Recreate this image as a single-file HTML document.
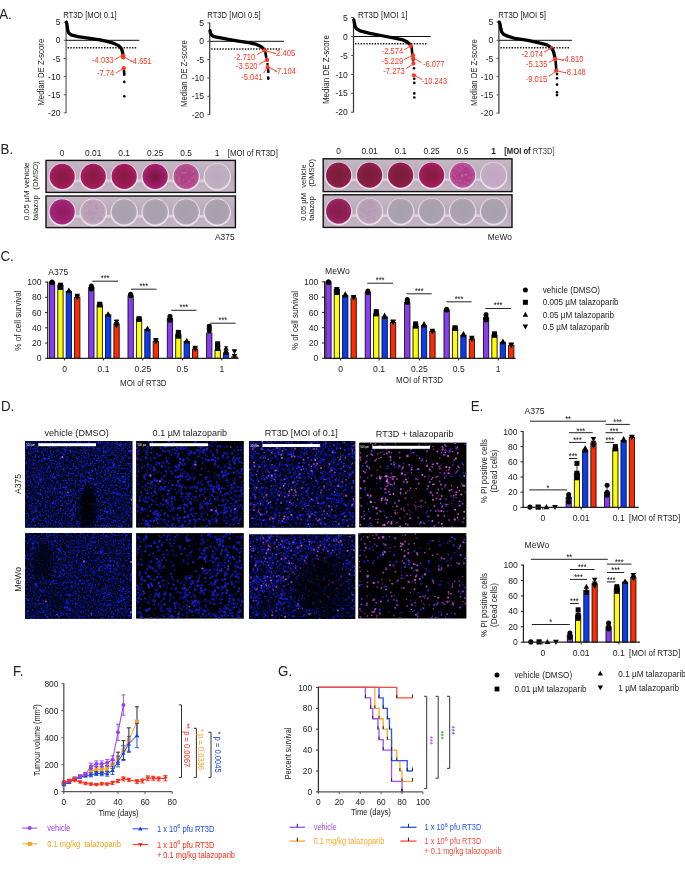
<!DOCTYPE html>
<html><head><meta charset="utf-8"><title>Figure</title>
<style>html,body{margin:0;padding:0;background:#fff;}svg{display:block;filter:blur(0.35px);}text{font-family:"Liberation Sans", sans-serif;}</style>
</head><body>
<svg width="685" height="870" viewBox="0 0 685 870" font-family='"Liberation Sans", sans-serif'>
<defs><radialGradient id="wdark" cx="50%" cy="50%" r="50%"><stop offset="0" stop-color="#861a42"/><stop offset="0.6" stop-color="#951a4f"/><stop offset="1" stop-color="#a81e60"/></radialGradient><radialGradient id="wdark2" cx="50%" cy="50%" r="50%"><stop offset="0" stop-color="#701a38"/><stop offset="0.5" stop-color="#8e1a58"/><stop offset="1" stop-color="#ac2076"/></radialGradient><radialGradient id="wdarkM" cx="50%" cy="50%" r="50%"><stop offset="0" stop-color="#7a1d38"/><stop offset="0.6" stop-color="#821e40"/><stop offset="1" stop-color="#92204c"/></radialGradient><radialGradient id="wdarkM2" cx="50%" cy="50%" r="50%"><stop offset="0" stop-color="#801a3c"/><stop offset="0.6" stop-color="#941c4e"/><stop offset="1" stop-color="#a81e62"/></radialGradient><radialGradient id="wmag" cx="50%" cy="50%" r="50%"><stop offset="0" stop-color="#8e1c58"/><stop offset="0.6" stop-color="#9a2070"/><stop offset="1" stop-color="#a82a80"/></radialGradient><radialGradient id="wmagM" cx="50%" cy="50%" r="50%"><stop offset="0" stop-color="#861d4c"/><stop offset="0.7" stop-color="#902056"/><stop offset="1" stop-color="#9e2a68"/></radialGradient><radialGradient id="wmid" cx="50%" cy="50%" r="50%"><stop offset="0" stop-color="#ac4284"/><stop offset="0.7" stop-color="#b24a8a"/><stop offset="1" stop-color="#b85894"/></radialGradient><radialGradient id="wmidM" cx="50%" cy="50%" r="50%"><stop offset="0" stop-color="#b03c8a"/><stop offset="0.7" stop-color="#b4448e"/><stop offset="1" stop-color="#ba589a"/></radialGradient><radialGradient id="wpale" cx="50%" cy="50%" r="50%"><stop offset="0" stop-color="#bcaabc"/><stop offset="0.8" stop-color="#beaebe"/><stop offset="1" stop-color="#c4b2c4"/></radialGradient><radialGradient id="wpaleM" cx="50%" cy="50%" r="50%"><stop offset="0" stop-color="#c2a6c2"/><stop offset="0.8" stop-color="#c4aac4"/><stop offset="1" stop-color="#c8b0c6"/></radialGradient><radialGradient id="wgray" cx="50%" cy="50%" r="50%"><stop offset="0" stop-color="#a79fa9"/><stop offset="0.8" stop-color="#aaa2ac"/><stop offset="1" stop-color="#b0a8b2"/></radialGradient><radialGradient id="wpink" cx="50%" cy="50%" r="50%"><stop offset="0" stop-color="#b8a0b6"/><stop offset="0.8" stop-color="#baa4b8"/><stop offset="1" stop-color="#c0acbe"/></radialGradient><linearGradient id="strip" x1="0" y1="0" x2="0" y2="1"><stop offset="0" stop-color="#c6b8c6"/><stop offset="0.5" stop-color="#b8aab8"/><stop offset="1" stop-color="#c4b6c4"/></linearGradient><filter id="bl" x="-5%" y="-5%" width="110%" height="110%" color-interpolation-filters="sRGB"><feGaussianBlur stdDeviation="0.55"/></filter><radialGradient id="dk"><stop offset="0" stop-color="#000" stop-opacity="0.92"/><stop offset="0.6" stop-color="#000" stop-opacity="0.75"/><stop offset="1" stop-color="#000" stop-opacity="0"/></radialGradient><clipPath id="clip11"><rect x="25" y="441" width="107.3" height="86.6"/></clipPath><filter id="nz1" x="0" y="0" width="100%" height="100%" color-interpolation-filters="sRGB"><feTurbulence type="fractalNoise" baseFrequency="0.6" numOctaves="1" seed="3"/><feColorMatrix type="matrix" values="0 0 0 0 0  0.48 0 0 0 -0.21  3 0 0 0 -1.3  0 0 0 0 1"/></filter><clipPath id="clip12"><rect x="136.1" y="441" width="107.7" height="86.6"/></clipPath><clipPath id="clip13"><rect x="249" y="441" width="106.2" height="86.6"/></clipPath><filter id="nz2" x="0" y="0" width="100%" height="100%" color-interpolation-filters="sRGB"><feTurbulence type="fractalNoise" baseFrequency="0.42" numOctaves="1" seed="4"/><feColorMatrix type="matrix" values="0 0 0 0 0  0.18 0 0 0 -0.08  1.5 0 0 0 -0.65  0 0 0 0 1"/></filter><clipPath id="clip14"><rect x="359.2" y="442.6" width="107.2" height="84.7"/></clipPath><clipPath id="clip21"><rect x="25" y="533" width="106.8" height="85.7"/></clipPath><filter id="nz3" x="0" y="0" width="100%" height="100%" color-interpolation-filters="sRGB"><feTurbulence type="fractalNoise" baseFrequency="0.6" numOctaves="1" seed="5"/><feColorMatrix type="matrix" values="0 0 0 0 0  0.39 0 0 0 -0.17  2.8 0 0 0 -1.22  0 0 0 0 1"/></filter><clipPath id="clip22"><rect x="136.1" y="533.1" width="107.7" height="85.5"/></clipPath><clipPath id="clip23"><rect x="249" y="534.5" width="106.2" height="84.5"/></clipPath><filter id="nz4" x="0" y="0" width="100%" height="100%" color-interpolation-filters="sRGB"><feTurbulence type="fractalNoise" baseFrequency="0.42" numOctaves="1" seed="6"/><feColorMatrix type="matrix" values="0 0 0 0 0  0.18 0 0 0 -0.08  1.5 0 0 0 -0.65  0 0 0 0 1"/></filter><clipPath id="clip24"><rect x="358.2" y="533.1" width="108.2" height="85.4"/></clipPath></defs>
<rect width="685" height="870" fill="#fff"/>
<text transform="translate(-0.8 18.7) scale(1 1.07)" font-size="13.3" fill="#222">A.</text>
<line x1="66.1" y1="21.65" x2="66.1" y2="113" stroke="#8a8a8a" stroke-width="1.7"/>
<line x1="63.7" y1="22.15" x2="66.1" y2="22.15" stroke="#555" stroke-width="1"/>
<text transform="translate(60.5 25.25) scale(1 1.1)" font-size="8.6" fill="#222" text-anchor="end">5</text>
<line x1="63.7" y1="40.3" x2="66.1" y2="40.3" stroke="#555" stroke-width="1"/>
<text transform="translate(60.5 43.4) scale(1 1.1)" font-size="8.6" fill="#222" text-anchor="end">0</text>
<line x1="63.7" y1="58.45" x2="66.1" y2="58.45" stroke="#555" stroke-width="1"/>
<text transform="translate(60.5 61.55) scale(1 1.1)" font-size="8.6" fill="#222" text-anchor="end">-5</text>
<line x1="63.7" y1="76.6" x2="66.1" y2="76.6" stroke="#555" stroke-width="1"/>
<text transform="translate(60.5 79.7) scale(1 1.1)" font-size="8.6" fill="#222" text-anchor="end">-10</text>
<line x1="63.7" y1="94.75" x2="66.1" y2="94.75" stroke="#555" stroke-width="1"/>
<text transform="translate(60.5 97.85) scale(1 1.1)" font-size="8.6" fill="#222" text-anchor="end">-15</text>
<line x1="63.7" y1="112.9" x2="66.1" y2="112.9" stroke="#555" stroke-width="1"/>
<text transform="translate(60.5 116) scale(1 1.1)" font-size="8.6" fill="#222" text-anchor="end">-20</text>
<line x1="66.1" y1="40.3" x2="139.4" y2="40.3" stroke="#111" stroke-width="1"/>
<line x1="67.6" y1="47.7" x2="136.9" y2="47.7" stroke="#111" stroke-width="1.5" stroke-dasharray="1.4 1.4"/>
<text transform="translate(63.2 18.3) scale(1 1.1)" font-size="8.3" fill="#222" textLength="53.4" lengthAdjust="spacingAndGlyphs">RT3D [MOI 0.1]</text>
<text transform="translate(43.6 72.2) rotate(-90) scale(1 1.1)" font-size="8.3" fill="#222" text-anchor="middle" textLength="66.8" lengthAdjust="spacingAndGlyphs">Median DE Z-score</text>
<path d="M66.4 22.15 L67 24.69 L67.6 29.41 L68.5 32.68 L71 34.85 L78 36.67 L90 38.48 L100 39.94 L108 41.57 L114 43.39 L118 45.38 L120.6 47.56 L122 50.1 L122.7 53 L123 55.55" stroke="#000" stroke-width="3.3" fill="none" stroke-linecap="round" stroke-linejoin="round"/>
<line x1="124" y1="70.6" x2="124.3" y2="74.6" stroke="#000" stroke-width="2.6" stroke-linecap="round"/>
<circle cx="124.3" cy="81.9" r="1.3" fill="#000"/>
<circle cx="124.3" cy="96.2" r="1.3" fill="#000"/>
<line x1="114.6" y1="59.6" x2="121.5" y2="55.8" stroke="#ff3420" stroke-width="0.9"/>
<line x1="125" y1="57.6" x2="133" y2="61.6" stroke="#ff3420" stroke-width="0.9"/>
<line x1="115.6" y1="73.2" x2="122.5" y2="69" stroke="#ff3420" stroke-width="0.9"/>
<circle cx="123.1" cy="55.6" r="2.2" fill="#ff3420"/>
<circle cx="123.2" cy="57.3" r="2.2" fill="#ff3420"/>
<circle cx="123.8" cy="68.2" r="2.1" fill="#ff3420"/>
<text transform="translate(113.6 62.6) scale(1 1.1)" font-size="7.6" fill="#ff3420" text-anchor="end">-4.033</text>
<text transform="translate(130.3 63.6) scale(1 1.1)" font-size="7.6" fill="#ff3420">-4.651</text>
<text transform="translate(114.2 76.4) scale(1 1.1)" font-size="7.6" fill="#ff3420" text-anchor="end">-7.74</text>
<line x1="209.7" y1="22.45" x2="209.7" y2="114.9" stroke="#333" stroke-width="1.2"/>
<line x1="207.3" y1="22.95" x2="209.7" y2="22.95" stroke="#555" stroke-width="1"/>
<text transform="translate(204.1 26.05) scale(1 1.1)" font-size="8.6" fill="#222" text-anchor="end">5</text>
<line x1="207.3" y1="41.3" x2="209.7" y2="41.3" stroke="#555" stroke-width="1"/>
<text transform="translate(204.1 44.4) scale(1 1.1)" font-size="8.6" fill="#222" text-anchor="end">0</text>
<line x1="207.3" y1="59.65" x2="209.7" y2="59.65" stroke="#555" stroke-width="1"/>
<text transform="translate(204.1 62.75) scale(1 1.1)" font-size="8.6" fill="#222" text-anchor="end">-5</text>
<line x1="207.3" y1="78" x2="209.7" y2="78" stroke="#555" stroke-width="1"/>
<text transform="translate(204.1 81.1) scale(1 1.1)" font-size="8.6" fill="#222" text-anchor="end">-10</text>
<line x1="207.3" y1="96.35" x2="209.7" y2="96.35" stroke="#555" stroke-width="1"/>
<text transform="translate(204.1 99.45) scale(1 1.1)" font-size="8.6" fill="#222" text-anchor="end">-15</text>
<line x1="207.3" y1="114.7" x2="209.7" y2="114.7" stroke="#555" stroke-width="1"/>
<text transform="translate(204.1 117.8) scale(1 1.1)" font-size="8.6" fill="#222" text-anchor="end">-20</text>
<line x1="209.7" y1="41.3" x2="284" y2="41.3" stroke="#111" stroke-width="1"/>
<line x1="211.2" y1="49.1" x2="281.6" y2="49.1" stroke="#111" stroke-width="1.5" stroke-dasharray="1.4 1.4"/>
<text transform="translate(207.3 18.3) scale(1 1.1)" font-size="8.3" fill="#222" textLength="53.4" lengthAdjust="spacingAndGlyphs">RT3D [MOI 0.5]</text>
<text transform="translate(187 73.5) rotate(-90) scale(1 1.1)" font-size="8.3" fill="#222" text-anchor="middle" textLength="66.8" lengthAdjust="spacingAndGlyphs">Median DE Z-score</text>
<path d="M210 30.66 L210.4 32.86 L211.5 35.06 L214 36.53 L222 38.18 L231 39.83 L240 41.3 L250 42.95 L256.5 44.42 L260.5 46.25 L263 48.27 L264.5 50.11" stroke="#000" stroke-width="3.3" fill="none" stroke-linecap="round" stroke-linejoin="round"/>
<line x1="265.3" y1="52" x2="266.2" y2="57" stroke="#000" stroke-width="2.6" stroke-linecap="round"/>
<line x1="268" y1="68" x2="268.3" y2="72" stroke="#000" stroke-width="2.6" stroke-linecap="round"/>
<circle cx="267.5" cy="64" r="1.3" fill="#000"/>
<circle cx="268.3" cy="78.8" r="1.3" fill="#000"/>
<circle cx="268.2" cy="77.6" r="1.3" fill="#000"/>
<line x1="257" y1="54.6" x2="263.5" y2="51" stroke="#ff3420" stroke-width="0.9"/>
<line x1="266.4" y1="51" x2="275.5" y2="53.4" stroke="#ff3420" stroke-width="0.9"/>
<line x1="259" y1="64.6" x2="266" y2="60.4" stroke="#ff3420" stroke-width="0.9"/>
<line x1="263.5" y1="73.2" x2="267" y2="68" stroke="#ff3420" stroke-width="0.9"/>
<line x1="269" y1="67.2" x2="277" y2="71.4" stroke="#ff3420" stroke-width="0.9"/>
<circle cx="264.7" cy="50.4" r="2.1" fill="#ff3420"/>
<circle cx="267" cy="59.9" r="2.2" fill="#ff3420"/>
<circle cx="267.6" cy="67.1" r="2" fill="#ff3420"/>
<text transform="translate(255.3 59.6) scale(1 1.1)" font-size="7.6" fill="#ff3420" text-anchor="end">-2.710</text>
<text transform="translate(273.6 55.8) scale(1 1.1)" font-size="7.6" fill="#ff3420">-2.405</text>
<text transform="translate(257.6 68.7) scale(1 1.1)" font-size="7.6" fill="#ff3420" text-anchor="end">-3.520</text>
<text transform="translate(262.7 79.5) scale(1 1.1)" font-size="7.6" fill="#ff3420" text-anchor="end">-5.041</text>
<text transform="translate(274.5 73.9) scale(1 1.1)" font-size="7.6" fill="#ff3420">-7.104</text>
<line x1="353.5" y1="17.05" x2="353.5" y2="112.4" stroke="#333" stroke-width="1.2"/>
<line x1="351.1" y1="17.55" x2="353.5" y2="17.55" stroke="#555" stroke-width="1"/>
<text transform="translate(347.9 20.65) scale(1 1.1)" font-size="8.6" fill="#222" text-anchor="end">5</text>
<line x1="351.1" y1="36.5" x2="353.5" y2="36.5" stroke="#555" stroke-width="1"/>
<text transform="translate(347.9 39.6) scale(1 1.1)" font-size="8.6" fill="#222" text-anchor="end">0</text>
<line x1="351.1" y1="55.45" x2="353.5" y2="55.45" stroke="#555" stroke-width="1"/>
<text transform="translate(347.9 58.55) scale(1 1.1)" font-size="8.6" fill="#222" text-anchor="end">-5</text>
<line x1="351.1" y1="74.4" x2="353.5" y2="74.4" stroke="#555" stroke-width="1"/>
<text transform="translate(347.9 77.5) scale(1 1.1)" font-size="8.6" fill="#222" text-anchor="end">-10</text>
<line x1="351.1" y1="93.35" x2="353.5" y2="93.35" stroke="#555" stroke-width="1"/>
<text transform="translate(347.9 96.45) scale(1 1.1)" font-size="8.6" fill="#222" text-anchor="end">-15</text>
<line x1="351.1" y1="112.3" x2="353.5" y2="112.3" stroke="#555" stroke-width="1"/>
<text transform="translate(347.9 115.4) scale(1 1.1)" font-size="8.6" fill="#222" text-anchor="end">-20</text>
<line x1="353.5" y1="36.5" x2="430.6" y2="36.5" stroke="#111" stroke-width="1"/>
<line x1="355" y1="43.8" x2="427.9" y2="43.8" stroke="#111" stroke-width="1.5" stroke-dasharray="1.4 1.4"/>
<text transform="translate(358 18.3) scale(1 1.1)" font-size="8.3" fill="#222" textLength="49.4" lengthAdjust="spacingAndGlyphs">RT3D [MOI 1]</text>
<text transform="translate(329 69.6) rotate(-90) scale(1 1.1)" font-size="8.3" fill="#222" text-anchor="middle" textLength="69" lengthAdjust="spacingAndGlyphs">Median DE Z-score</text>
<path d="M353.8 19.82 L354.3 22.48 L355 25.89 L356.6 28.92 L360 30.81 L370 33.28 L386 36.5 L396 38.4 L403 39.91 L407 41.81 L409.5 44.08 L410.9 45.6" stroke="#000" stroke-width="3.3" fill="none" stroke-linecap="round" stroke-linejoin="round"/>
<line x1="411.6" y1="47" x2="412.2" y2="53" stroke="#000" stroke-width="2.6" stroke-linecap="round"/>
<line x1="412.8" y1="54.5" x2="413.2" y2="60.5" stroke="#000" stroke-width="2.6" stroke-linecap="round"/>
<circle cx="414" cy="68.3" r="1.3" fill="#000"/>
<circle cx="414.3" cy="78.8" r="1.3" fill="#000"/>
<circle cx="414.3" cy="82.9" r="1.3" fill="#000"/>
<circle cx="414.3" cy="93.4" r="1.3" fill="#000"/>
<circle cx="414.3" cy="97.5" r="1.3" fill="#000"/>
<line x1="404.2" y1="49.6" x2="410" y2="46.5" stroke="#ff3420" stroke-width="0.9"/>
<line x1="404.2" y1="59.6" x2="412" y2="55.6" stroke="#ff3420" stroke-width="0.9"/>
<line x1="406" y1="68.6" x2="412.5" y2="64.6" stroke="#ff3420" stroke-width="0.9"/>
<line x1="415" y1="59" x2="421.4" y2="62.6" stroke="#ff3420" stroke-width="0.9"/>
<line x1="415.5" y1="76" x2="422" y2="79.6" stroke="#ff3420" stroke-width="0.9"/>
<circle cx="410.9" cy="45.9" r="2" fill="#ff3420"/>
<circle cx="413" cy="55.3" r="2.1" fill="#ff3420"/>
<circle cx="413.2" cy="58.8" r="2.1" fill="#ff3420"/>
<circle cx="413.5" cy="63.4" r="2" fill="#ff3420"/>
<circle cx="413.9" cy="75.3" r="2.1" fill="#ff3420"/>
<text transform="translate(403.2 54.1) scale(1 1.1)" font-size="7.6" fill="#ff3420" text-anchor="end">-2.574</text>
<text transform="translate(403.2 63.6) scale(1 1.1)" font-size="7.6" fill="#ff3420" text-anchor="end">-5.229</text>
<text transform="translate(404.8 73.9) scale(1 1.1)" font-size="7.6" fill="#ff3420" text-anchor="end">-7.273</text>
<text transform="translate(423 66.7) scale(1 1.1)" font-size="7.6" fill="#ff3420">-6.077</text>
<text transform="translate(421.4 83.8) scale(1 1.1)" font-size="7.6" fill="#ff3420">-10.243</text>
<line x1="498.9" y1="21.6" x2="498.9" y2="113.4" stroke="#333" stroke-width="1.2"/>
<line x1="496.5" y1="22.1" x2="498.9" y2="22.1" stroke="#555" stroke-width="1"/>
<text transform="translate(493.3 25.2) scale(1 1.1)" font-size="8.6" fill="#222" text-anchor="end">5</text>
<line x1="496.5" y1="40.3" x2="498.9" y2="40.3" stroke="#555" stroke-width="1"/>
<text transform="translate(493.3 43.4) scale(1 1.1)" font-size="8.6" fill="#222" text-anchor="end">0</text>
<line x1="496.5" y1="58.5" x2="498.9" y2="58.5" stroke="#555" stroke-width="1"/>
<text transform="translate(493.3 61.6) scale(1 1.1)" font-size="8.6" fill="#222" text-anchor="end">-5</text>
<line x1="496.5" y1="76.7" x2="498.9" y2="76.7" stroke="#555" stroke-width="1"/>
<text transform="translate(493.3 79.8) scale(1 1.1)" font-size="8.6" fill="#222" text-anchor="end">-10</text>
<line x1="496.5" y1="94.9" x2="498.9" y2="94.9" stroke="#555" stroke-width="1"/>
<text transform="translate(493.3 98) scale(1 1.1)" font-size="8.6" fill="#222" text-anchor="end">-15</text>
<line x1="496.5" y1="113.1" x2="498.9" y2="113.1" stroke="#555" stroke-width="1"/>
<text transform="translate(493.3 116.2) scale(1 1.1)" font-size="8.6" fill="#222" text-anchor="end">-20</text>
<line x1="498.9" y1="40.3" x2="572" y2="40.3" stroke="#111" stroke-width="1"/>
<line x1="500.4" y1="47.8" x2="570.2" y2="47.8" stroke="#111" stroke-width="1.5" stroke-dasharray="1.4 1.4"/>
<text transform="translate(498.2 18.3) scale(1 1.1)" font-size="8.3" fill="#222" textLength="47.7" lengthAdjust="spacingAndGlyphs">RT3D [MOI 5]</text>
<text transform="translate(477 72.5) rotate(-90) scale(1 1.1)" font-size="8.3" fill="#222" text-anchor="middle" textLength="66.8" lengthAdjust="spacingAndGlyphs">Median DE Z-score</text>
<path d="M499.3 22.1 L500 23.92 L500.7 28.29 L501.6 31.75 L503.5 34.29 L507 35.93 L515 38.48 L528 40.3 L540 43.03 L547 44.85 L550.5 47.03 L552.5 49.4 L553.8 52.68 L554.6 56.32 L555.3 59.23" stroke="#000" stroke-width="3.3" fill="none" stroke-linecap="round" stroke-linejoin="round"/>
<line x1="555.6" y1="61" x2="556.2" y2="68.5" stroke="#000" stroke-width="2.6" stroke-linecap="round"/>
<circle cx="557" cy="74.1" r="1.3" fill="#000"/>
<circle cx="557" cy="78.2" r="1.3" fill="#000"/>
<circle cx="557" cy="84.6" r="1.3" fill="#000"/>
<circle cx="557" cy="92.2" r="1.3" fill="#000"/>
<circle cx="557" cy="95.1" r="1.3" fill="#000"/>
<line x1="544" y1="52.2" x2="551" y2="48.2" stroke="#ff3420" stroke-width="0.9"/>
<line x1="549" y1="62.2" x2="554.5" y2="59.6" stroke="#ff3420" stroke-width="0.9"/>
<line x1="549" y1="76.2" x2="555.5" y2="71.6" stroke="#ff3420" stroke-width="0.9"/>
<line x1="557.5" y1="59" x2="564" y2="60.6" stroke="#ff3420" stroke-width="0.9"/>
<line x1="558" y1="71" x2="566" y2="73" stroke="#ff3420" stroke-width="0.9"/>
<circle cx="551.5" cy="47.4" r="1.3" fill="#ff3420"/>
<circle cx="555.3" cy="59" r="2.2" fill="#ff3420"/>
<circle cx="556.2" cy="70.6" r="2.2" fill="#ff3420"/>
<text transform="translate(542.9 57) scale(1 1.1)" font-size="7.6" fill="#ff3420" text-anchor="end">-2.074</text>
<text transform="translate(547.5 66.9) scale(1 1.1)" font-size="7.6" fill="#ff3420" text-anchor="end">-5.135</text>
<text transform="translate(547.2 81.5) scale(1 1.1)" font-size="7.6" fill="#ff3420" text-anchor="end">-9.015</text>
<text transform="translate(562 62.2) scale(1 1.1)" font-size="7.6" fill="#ff3420">-4.810</text>
<text transform="translate(564.3 75.3) scale(1 1.1)" font-size="7.6" fill="#ff3420">-8.148</text>
<text transform="translate(0.6 153.8) scale(1 1.07)" font-size="13.3" fill="#222">B.</text>
<rect x="46" y="160.4" width="189.4" height="32" fill="url(#strip)" stroke="#111" stroke-width="1.4"/>
<rect x="73.2" y="179.4" width="9" height="3" fill="#d8cdd8"/>
<rect x="104.2" y="179.4" width="9" height="3" fill="#d8cdd8"/>
<rect x="135.2" y="179.4" width="9" height="3" fill="#d8cdd8"/>
<rect x="166.2" y="179.4" width="9" height="3" fill="#d8cdd8"/>
<rect x="197.2" y="179.4" width="9" height="3" fill="#d8cdd8"/>
<circle cx="62.2" cy="177" r="13.8" fill="#eadfea"/>
<circle cx="62.2" cy="176.4" r="12.6" fill="url(#wdark)"/>
<circle cx="93.2" cy="177" r="13.8" fill="#eadfea"/>
<circle cx="93.2" cy="176.4" r="12.6" fill="url(#wdark)"/>
<circle cx="124.2" cy="177" r="13.8" fill="#eadfea"/>
<circle cx="124.2" cy="176.4" r="12.6" fill="url(#wdark)"/>
<circle cx="155.2" cy="177" r="13.8" fill="#eadfea"/>
<circle cx="155.2" cy="176.4" r="12.6" fill="url(#wdark2)"/>
<circle cx="186.2" cy="177" r="13.8" fill="#eadfea"/>
<circle cx="186.2" cy="176.4" r="12.6" fill="url(#wmid)"/>
<circle cx="193.39" cy="172" r="1.02" fill="#d090c0" opacity="0.22"/>
<circle cx="183.3" cy="175.37" r="1.04" fill="#a03078" opacity="0.22"/>
<circle cx="187.62" cy="172.27" r="1.08" fill="#d090c0" opacity="0.22"/>
<circle cx="192.25" cy="174.35" r="0.66" fill="#a03078" opacity="0.22"/>
<circle cx="181.97" cy="175.86" r="0.99" fill="#a03078" opacity="0.22"/>
<circle cx="185.25" cy="175.69" r="0.67" fill="#d090c0" opacity="0.22"/>
<circle cx="187.67" cy="170.91" r="1.08" fill="#a03078" opacity="0.22"/>
<circle cx="183.4" cy="180.03" r="0.91" fill="#a03078" opacity="0.22"/>
<circle cx="192.73" cy="184.97" r="0.85" fill="#a03078" opacity="0.22"/>
<circle cx="185.62" cy="181.65" r="1.15" fill="#a03078" opacity="0.22"/>
<circle cx="190.1" cy="174.14" r="0.6" fill="#d090c0" opacity="0.22"/>
<circle cx="192.35" cy="181.1" r="1.22" fill="#a03078" opacity="0.22"/>
<circle cx="176.92" cy="177.49" r="0.66" fill="#a03078" opacity="0.22"/>
<circle cx="182.44" cy="167.82" r="1.39" fill="#a03078" opacity="0.22"/>
<circle cx="183.97" cy="174.38" r="1.15" fill="#a03078" opacity="0.22"/>
<circle cx="183.42" cy="179.4" r="0.82" fill="#d090c0" opacity="0.22"/>
<circle cx="181.97" cy="183.49" r="1.34" fill="#a03078" opacity="0.22"/>
<circle cx="187.79" cy="183.3" r="1.04" fill="#d090c0" opacity="0.22"/>
<circle cx="188.58" cy="171.78" r="1.35" fill="#a03078" opacity="0.22"/>
<circle cx="178.46" cy="173.35" r="0.94" fill="#d090c0" opacity="0.22"/>
<circle cx="187.83" cy="169.68" r="0.72" fill="#d090c0" opacity="0.22"/>
<circle cx="183.01" cy="168.45" r="1.3" fill="#d090c0" opacity="0.22"/>
<circle cx="191.61" cy="176.13" r="1.2" fill="#a03078" opacity="0.22"/>
<circle cx="187.93" cy="167.9" r="1.14" fill="#a03078" opacity="0.22"/>
<circle cx="188.61" cy="166" r="0.84" fill="#d090c0" opacity="0.22"/>
<circle cx="192.16" cy="175.43" r="0.74" fill="#a03078" opacity="0.22"/>
<circle cx="187.07" cy="176.65" r="0.61" fill="#d090c0" opacity="0.22"/>
<circle cx="191.05" cy="179.2" r="0.8" fill="#d090c0" opacity="0.22"/>
<circle cx="178.89" cy="176.24" r="0.51" fill="#d090c0" opacity="0.22"/>
<circle cx="195.62" cy="172.67" r="1.25" fill="#a03078" opacity="0.22"/>
<circle cx="181.51" cy="173.25" r="1.22" fill="#d090c0" opacity="0.22"/>
<circle cx="186.98" cy="173.42" r="0.62" fill="#a03078" opacity="0.22"/>
<circle cx="179.21" cy="181.61" r="1.21" fill="#a03078" opacity="0.22"/>
<circle cx="189.66" cy="182.26" r="0.8" fill="#d090c0" opacity="0.22"/>
<circle cx="192.64" cy="170.63" r="1.13" fill="#d090c0" opacity="0.22"/>
<circle cx="189.16" cy="186.87" r="0.84" fill="#a03078" opacity="0.22"/>
<circle cx="185.34" cy="181" r="1.2" fill="#a03078" opacity="0.22"/>
<circle cx="178.23" cy="181.94" r="0.93" fill="#d090c0" opacity="0.22"/>
<circle cx="193.97" cy="172.86" r="0.74" fill="#a03078" opacity="0.22"/>
<circle cx="180.38" cy="174.58" r="0.81" fill="#a03078" opacity="0.22"/>
<circle cx="178.73" cy="181.35" r="1.29" fill="#d090c0" opacity="0.22"/>
<circle cx="188.24" cy="181.49" r="0.93" fill="#a03078" opacity="0.22"/>
<circle cx="194.96" cy="177.56" r="1.11" fill="#d090c0" opacity="0.22"/>
<circle cx="179.53" cy="174.62" r="0.56" fill="#a03078" opacity="0.22"/>
<circle cx="184.67" cy="173.87" r="0.74" fill="#d090c0" opacity="0.22"/>
<circle cx="180.4" cy="181.3" r="0.55" fill="#d090c0" opacity="0.22"/>
<circle cx="176.86" cy="172.33" r="1.24" fill="#a03078" opacity="0.22"/>
<circle cx="192.25" cy="177.49" r="1.14" fill="#d090c0" opacity="0.22"/>
<circle cx="183.62" cy="169.64" r="1.35" fill="#a03078" opacity="0.22"/>
<circle cx="181.6" cy="178.46" r="1.06" fill="#a03078" opacity="0.22"/>
<circle cx="183.42" cy="180.19" r="0.74" fill="#d090c0" opacity="0.22"/>
<circle cx="195.8" cy="179.86" r="0.75" fill="#d090c0" opacity="0.22"/>
<circle cx="188.31" cy="170" r="0.58" fill="#d090c0" opacity="0.22"/>
<circle cx="185.47" cy="172.47" r="1.06" fill="#d090c0" opacity="0.22"/>
<circle cx="193.01" cy="172.41" r="0.67" fill="#d090c0" opacity="0.22"/>
<circle cx="189.14" cy="181.63" r="1.05" fill="#d090c0" opacity="0.22"/>
<circle cx="186.9" cy="169.01" r="0.84" fill="#d090c0" opacity="0.22"/>
<circle cx="188.53" cy="183.36" r="0.88" fill="#a03078" opacity="0.22"/>
<circle cx="183.67" cy="173.21" r="1.36" fill="#d090c0" opacity="0.22"/>
<circle cx="178.97" cy="178.38" r="1.29" fill="#d090c0" opacity="0.22"/>
<circle cx="188.66" cy="180.59" r="0.71" fill="#d090c0" opacity="0.22"/>
<circle cx="189.78" cy="183.01" r="0.78" fill="#a03078" opacity="0.22"/>
<circle cx="182.05" cy="166.34" r="0.75" fill="#d090c0" opacity="0.22"/>
<circle cx="177.7" cy="182.56" r="1.32" fill="#a03078" opacity="0.22"/>
<circle cx="189.85" cy="174.48" r="1.4" fill="#a03078" opacity="0.22"/>
<circle cx="193.62" cy="175.91" r="0.93" fill="#d090c0" opacity="0.22"/>
<circle cx="180.06" cy="173.74" r="1.35" fill="#a03078" opacity="0.22"/>
<circle cx="195.09" cy="182.39" r="0.51" fill="#a03078" opacity="0.22"/>
<circle cx="188.11" cy="171.17" r="0.77" fill="#a03078" opacity="0.22"/>
<circle cx="180.37" cy="167.21" r="0.52" fill="#d090c0" opacity="0.22"/>
<circle cx="217.2" cy="177" r="13.8" fill="#eadfea"/>
<circle cx="217.2" cy="176.4" r="12.6" fill="url(#wpale)"/>
<rect x="46" y="196" width="189.4" height="31.6" fill="url(#strip)" stroke="#111" stroke-width="1.4"/>
<rect x="73.2" y="214.8" width="9" height="3" fill="#d8cdd8"/>
<rect x="104.2" y="214.8" width="9" height="3" fill="#d8cdd8"/>
<rect x="135.2" y="214.8" width="9" height="3" fill="#d8cdd8"/>
<rect x="166.2" y="214.8" width="9" height="3" fill="#d8cdd8"/>
<rect x="197.2" y="214.8" width="9" height="3" fill="#d8cdd8"/>
<circle cx="62.2" cy="212.4" r="13.8" fill="#eadfea"/>
<circle cx="62.2" cy="211.8" r="12.6" fill="url(#wmag)"/>
<circle cx="93.2" cy="212.4" r="13.8" fill="#eadfea"/>
<circle cx="93.2" cy="211.8" r="12.6" fill="url(#wpink)"/>
<circle cx="89.63" cy="211.42" r="1.39" fill="#b090b0" opacity="0.22"/>
<circle cx="92.05" cy="204.84" r="0.61" fill="#c080b0" opacity="0.22"/>
<circle cx="97.29" cy="211.8" r="0.6" fill="#c080b0" opacity="0.22"/>
<circle cx="95.06" cy="206.21" r="0.69" fill="#c080b0" opacity="0.22"/>
<circle cx="97.02" cy="201.81" r="0.59" fill="#c080b0" opacity="0.22"/>
<circle cx="93.42" cy="213" r="1.19" fill="#b090b0" opacity="0.22"/>
<circle cx="101.14" cy="205.66" r="1.38" fill="#c080b0" opacity="0.22"/>
<circle cx="99.84" cy="215.8" r="1.17" fill="#c080b0" opacity="0.22"/>
<circle cx="98.94" cy="209.91" r="0.9" fill="#b090b0" opacity="0.22"/>
<circle cx="101.04" cy="218.64" r="1.3" fill="#b090b0" opacity="0.22"/>
<circle cx="92.34" cy="215.05" r="1.09" fill="#b090b0" opacity="0.22"/>
<circle cx="92.27" cy="218.18" r="1.21" fill="#b090b0" opacity="0.22"/>
<circle cx="96.36" cy="204.78" r="0.55" fill="#b090b0" opacity="0.22"/>
<circle cx="102.48" cy="211.82" r="1.02" fill="#c080b0" opacity="0.22"/>
<circle cx="90.13" cy="210.22" r="0.81" fill="#c080b0" opacity="0.22"/>
<circle cx="92.52" cy="217.74" r="1.33" fill="#b090b0" opacity="0.22"/>
<circle cx="96.98" cy="208.07" r="1.14" fill="#c080b0" opacity="0.22"/>
<circle cx="90.53" cy="213.54" r="1.38" fill="#c080b0" opacity="0.22"/>
<circle cx="97.46" cy="207.21" r="0.87" fill="#c080b0" opacity="0.22"/>
<circle cx="88.19" cy="217.85" r="0.77" fill="#c080b0" opacity="0.22"/>
<circle cx="91.84" cy="219.66" r="1.34" fill="#b090b0" opacity="0.22"/>
<circle cx="95.4" cy="212.11" r="0.57" fill="#c080b0" opacity="0.22"/>
<circle cx="94.19" cy="216.85" r="0.92" fill="#c080b0" opacity="0.22"/>
<circle cx="98.84" cy="208.92" r="0.77" fill="#b090b0" opacity="0.22"/>
<circle cx="100.96" cy="218.88" r="0.63" fill="#b090b0" opacity="0.22"/>
<circle cx="85.86" cy="214.26" r="0.58" fill="#c080b0" opacity="0.22"/>
<circle cx="85.52" cy="208.01" r="1.16" fill="#c080b0" opacity="0.22"/>
<circle cx="87.68" cy="205.64" r="1.36" fill="#c080b0" opacity="0.22"/>
<circle cx="87.36" cy="207.22" r="0.65" fill="#c080b0" opacity="0.22"/>
<circle cx="99.92" cy="218.51" r="0.89" fill="#b090b0" opacity="0.22"/>
<circle cx="97.83" cy="209.58" r="0.95" fill="#b090b0" opacity="0.22"/>
<circle cx="89.81" cy="217.42" r="0.73" fill="#b090b0" opacity="0.22"/>
<circle cx="101.72" cy="218.56" r="0.51" fill="#c080b0" opacity="0.22"/>
<circle cx="92.32" cy="219.76" r="1.32" fill="#b090b0" opacity="0.22"/>
<circle cx="88.81" cy="214.83" r="0.67" fill="#c080b0" opacity="0.22"/>
<circle cx="96.45" cy="205.08" r="0.6" fill="#b090b0" opacity="0.22"/>
<circle cx="89.96" cy="210.84" r="0.97" fill="#c080b0" opacity="0.22"/>
<circle cx="89.22" cy="209.67" r="0.87" fill="#c080b0" opacity="0.22"/>
<circle cx="86.32" cy="217.99" r="1.33" fill="#b090b0" opacity="0.22"/>
<circle cx="89.9" cy="203.12" r="1.09" fill="#c080b0" opacity="0.22"/>
<circle cx="94.84" cy="221.29" r="1.01" fill="#c080b0" opacity="0.22"/>
<circle cx="95.69" cy="205.44" r="0.76" fill="#c080b0" opacity="0.22"/>
<circle cx="101.9" cy="217.66" r="0.63" fill="#b090b0" opacity="0.22"/>
<circle cx="92.52" cy="217.94" r="1.29" fill="#c080b0" opacity="0.22"/>
<circle cx="83.67" cy="211.31" r="0.87" fill="#c080b0" opacity="0.22"/>
<circle cx="92.52" cy="208.98" r="1.21" fill="#b090b0" opacity="0.22"/>
<circle cx="90.8" cy="215.89" r="1.16" fill="#b090b0" opacity="0.22"/>
<circle cx="89.85" cy="219.63" r="1.24" fill="#b090b0" opacity="0.22"/>
<circle cx="91.95" cy="203.06" r="1.38" fill="#b090b0" opacity="0.22"/>
<circle cx="86.95" cy="217.97" r="0.62" fill="#c080b0" opacity="0.22"/>
<circle cx="95.72" cy="205.3" r="0.81" fill="#c080b0" opacity="0.22"/>
<circle cx="91.96" cy="213.45" r="0.55" fill="#b090b0" opacity="0.22"/>
<circle cx="89.76" cy="202.12" r="1.39" fill="#c080b0" opacity="0.22"/>
<circle cx="88.02" cy="214.72" r="0.91" fill="#c080b0" opacity="0.22"/>
<circle cx="103.07" cy="212.75" r="1.31" fill="#b090b0" opacity="0.22"/>
<circle cx="88.99" cy="217.16" r="0.8" fill="#b090b0" opacity="0.22"/>
<circle cx="103.45" cy="208.4" r="1.21" fill="#c080b0" opacity="0.22"/>
<circle cx="89.27" cy="207.54" r="0.84" fill="#b090b0" opacity="0.22"/>
<circle cx="87.7" cy="213.29" r="1.14" fill="#c080b0" opacity="0.22"/>
<circle cx="86.08" cy="213.51" r="0.79" fill="#c080b0" opacity="0.22"/>
<circle cx="102.39" cy="208.75" r="1" fill="#b090b0" opacity="0.22"/>
<circle cx="101.48" cy="207.96" r="0.69" fill="#b090b0" opacity="0.22"/>
<circle cx="88.42" cy="207.8" r="0.64" fill="#b090b0" opacity="0.22"/>
<circle cx="90.43" cy="211.52" r="0.62" fill="#b090b0" opacity="0.22"/>
<circle cx="93.96" cy="213.42" r="0.99" fill="#c080b0" opacity="0.22"/>
<circle cx="85.32" cy="215.39" r="1.1" fill="#b090b0" opacity="0.22"/>
<circle cx="98.35" cy="217.94" r="0.7" fill="#c080b0" opacity="0.22"/>
<circle cx="89.35" cy="202.34" r="1.38" fill="#b090b0" opacity="0.22"/>
<circle cx="95.74" cy="207.38" r="1.15" fill="#c080b0" opacity="0.22"/>
<circle cx="93.74" cy="201.58" r="1.19" fill="#c080b0" opacity="0.22"/>
<circle cx="124.2" cy="212.4" r="13.8" fill="#eadfea"/>
<circle cx="124.2" cy="211.8" r="12.6" fill="url(#wgray)"/>
<circle cx="155.2" cy="212.4" r="13.8" fill="#eadfea"/>
<circle cx="155.2" cy="211.8" r="12.6" fill="url(#wgray)"/>
<circle cx="186.2" cy="212.4" r="13.8" fill="#eadfea"/>
<circle cx="186.2" cy="211.8" r="12.6" fill="url(#wgray)"/>
<circle cx="217.2" cy="212.4" r="13.8" fill="#eadfea"/>
<circle cx="217.2" cy="211.8" r="12.6" fill="url(#wgray)"/>
<text transform="translate(62.2 156) scale(1 1.1)" font-size="8.4" fill="#222" text-anchor="middle">0</text>
<text transform="translate(93.2 156) scale(1 1.1)" font-size="8.4" fill="#222" text-anchor="middle">0.01</text>
<text transform="translate(124.2 156) scale(1 1.1)" font-size="8.4" fill="#222" text-anchor="middle">0.1</text>
<text transform="translate(155.2 156) scale(1 1.1)" font-size="8.4" fill="#222" text-anchor="middle">0.25</text>
<text transform="translate(186.2 156) scale(1 1.1)" font-size="8.4" fill="#222" text-anchor="middle">0.5</text>
<text transform="translate(217.2 156) scale(1 1.1)" font-size="8.4" fill="#222" text-anchor="middle">1</text>
<text transform="translate(227.8 156) scale(1 1.1)" font-size="8.4" fill="#222" textLength="50" lengthAdjust="spacingAndGlyphs">[MOI of RT3D]</text>
<text transform="translate(215 240.2) scale(1 1.1)" font-size="8.4" fill="#222">A375</text>
<text transform="translate(28.8 191.3) rotate(-90)" font-size="7.7" fill="#222" text-anchor="middle" textLength="58" lengthAdjust="spacingAndGlyphs">0.05 &#181;M vehicle</text>
<text transform="translate(37.8 207.8) rotate(-90)" font-size="7.7" fill="#222" text-anchor="middle" textLength="25" lengthAdjust="spacingAndGlyphs">talazop</text>
<text transform="translate(37.8 175.5) rotate(-90)" font-size="7.7" fill="#222" text-anchor="middle" textLength="28.3" lengthAdjust="spacingAndGlyphs">(DMSO)</text>
<rect x="323.2" y="158.8" width="188.8" height="32.8" fill="url(#strip)" stroke="#111" stroke-width="1.4"/>
<rect x="349.6" y="178.2" width="9" height="3" fill="#d8cdd8"/>
<rect x="380.6" y="178.2" width="9" height="3" fill="#d8cdd8"/>
<rect x="411.6" y="178.2" width="9" height="3" fill="#d8cdd8"/>
<rect x="442.6" y="178.2" width="9" height="3" fill="#d8cdd8"/>
<rect x="473.6" y="178.2" width="9" height="3" fill="#d8cdd8"/>
<circle cx="338.6" cy="175.8" r="13.8" fill="#eadfea"/>
<circle cx="338.6" cy="175.2" r="12.6" fill="url(#wdarkM)"/>
<circle cx="369.6" cy="175.8" r="13.8" fill="#eadfea"/>
<circle cx="369.6" cy="175.2" r="12.6" fill="url(#wdarkM)"/>
<circle cx="400.6" cy="175.8" r="13.8" fill="#eadfea"/>
<circle cx="400.6" cy="175.2" r="12.6" fill="url(#wdarkM)"/>
<circle cx="431.6" cy="175.8" r="13.8" fill="#eadfea"/>
<circle cx="431.6" cy="175.2" r="12.6" fill="url(#wdarkM2)"/>
<circle cx="462.6" cy="175.8" r="13.8" fill="#eadfea"/>
<circle cx="462.6" cy="175.2" r="12.6" fill="url(#wmidM)"/>
<circle cx="465.51" cy="168.9" r="0.78" fill="#a03078" opacity="0.22"/>
<circle cx="465.66" cy="177.8" r="1.03" fill="#a03078" opacity="0.22"/>
<circle cx="460.26" cy="184.74" r="1.17" fill="#a03078" opacity="0.22"/>
<circle cx="459.99" cy="170.45" r="0.63" fill="#d090c0" opacity="0.22"/>
<circle cx="465.51" cy="168.43" r="1.38" fill="#a03078" opacity="0.22"/>
<circle cx="453.71" cy="177.09" r="1.4" fill="#a03078" opacity="0.22"/>
<circle cx="459.93" cy="175.35" r="1.13" fill="#a03078" opacity="0.22"/>
<circle cx="467.04" cy="170.25" r="0.66" fill="#a03078" opacity="0.22"/>
<circle cx="459.87" cy="166.7" r="0.93" fill="#d090c0" opacity="0.22"/>
<circle cx="462.51" cy="175.38" r="1.21" fill="#d090c0" opacity="0.22"/>
<circle cx="461.57" cy="168.66" r="1.16" fill="#d090c0" opacity="0.22"/>
<circle cx="453.56" cy="171.28" r="1.1" fill="#a03078" opacity="0.22"/>
<circle cx="452.26" cy="177.22" r="0.77" fill="#d090c0" opacity="0.22"/>
<circle cx="461.63" cy="176.13" r="1.19" fill="#d090c0" opacity="0.22"/>
<circle cx="464.72" cy="182.31" r="0.91" fill="#d090c0" opacity="0.22"/>
<circle cx="468.45" cy="183.49" r="0.83" fill="#d090c0" opacity="0.22"/>
<circle cx="467.59" cy="182.77" r="0.68" fill="#d090c0" opacity="0.22"/>
<circle cx="467.96" cy="180.57" r="1.21" fill="#a03078" opacity="0.22"/>
<circle cx="465.2" cy="165.56" r="1.34" fill="#d090c0" opacity="0.22"/>
<circle cx="458.04" cy="174.98" r="0.62" fill="#a03078" opacity="0.22"/>
<circle cx="463.47" cy="177.91" r="0.8" fill="#a03078" opacity="0.22"/>
<circle cx="464.9" cy="167.18" r="0.71" fill="#d090c0" opacity="0.22"/>
<circle cx="468.29" cy="173.51" r="1.35" fill="#a03078" opacity="0.22"/>
<circle cx="466.6" cy="175.29" r="1.01" fill="#d090c0" opacity="0.22"/>
<circle cx="456.69" cy="168.68" r="0.94" fill="#d090c0" opacity="0.22"/>
<circle cx="465.62" cy="167.61" r="0.95" fill="#a03078" opacity="0.22"/>
<circle cx="456.49" cy="184.18" r="1.17" fill="#d090c0" opacity="0.22"/>
<circle cx="453.8" cy="176.27" r="0.57" fill="#d090c0" opacity="0.22"/>
<circle cx="453.28" cy="170.41" r="0.66" fill="#a03078" opacity="0.22"/>
<circle cx="461.7" cy="175.03" r="1.3" fill="#d090c0" opacity="0.22"/>
<circle cx="461.93" cy="184.75" r="0.87" fill="#d090c0" opacity="0.22"/>
<circle cx="466.65" cy="168.86" r="0.53" fill="#a03078" opacity="0.22"/>
<circle cx="464.81" cy="172.69" r="0.87" fill="#a03078" opacity="0.22"/>
<circle cx="458.81" cy="184.55" r="0.96" fill="#d090c0" opacity="0.22"/>
<circle cx="454.74" cy="179.88" r="1.18" fill="#a03078" opacity="0.22"/>
<circle cx="463.58" cy="181.11" r="0.97" fill="#a03078" opacity="0.22"/>
<circle cx="466.1" cy="178.7" r="0.94" fill="#a03078" opacity="0.22"/>
<circle cx="458.11" cy="180.02" r="0.57" fill="#d090c0" opacity="0.22"/>
<circle cx="460.11" cy="168.27" r="0.6" fill="#d090c0" opacity="0.22"/>
<circle cx="469.22" cy="177.14" r="0.64" fill="#d090c0" opacity="0.22"/>
<circle cx="466.67" cy="181.31" r="0.62" fill="#d090c0" opacity="0.22"/>
<circle cx="473.24" cy="174.32" r="1.21" fill="#a03078" opacity="0.22"/>
<circle cx="467.3" cy="176.27" r="1.17" fill="#a03078" opacity="0.22"/>
<circle cx="470.15" cy="177.44" r="0.84" fill="#a03078" opacity="0.22"/>
<circle cx="466.48" cy="181.66" r="0.72" fill="#a03078" opacity="0.22"/>
<circle cx="451.79" cy="176.45" r="1.29" fill="#a03078" opacity="0.22"/>
<circle cx="455.14" cy="176.16" r="1.02" fill="#d090c0" opacity="0.22"/>
<circle cx="473.44" cy="176.82" r="1" fill="#d090c0" opacity="0.22"/>
<circle cx="470.65" cy="177.63" r="0.85" fill="#d090c0" opacity="0.22"/>
<circle cx="470.99" cy="175.34" r="1.33" fill="#a03078" opacity="0.22"/>
<circle cx="466.33" cy="174.15" r="1.07" fill="#d090c0" opacity="0.22"/>
<circle cx="458.75" cy="170.67" r="1.05" fill="#d090c0" opacity="0.22"/>
<circle cx="463.99" cy="185.76" r="0.9" fill="#d090c0" opacity="0.22"/>
<circle cx="463.05" cy="177.23" r="0.91" fill="#d090c0" opacity="0.22"/>
<circle cx="466.99" cy="179.78" r="0.98" fill="#a03078" opacity="0.22"/>
<circle cx="454.3" cy="180.62" r="1.16" fill="#d090c0" opacity="0.22"/>
<circle cx="456.57" cy="180.68" r="1.01" fill="#d090c0" opacity="0.22"/>
<circle cx="467.08" cy="184.92" r="0.89" fill="#a03078" opacity="0.22"/>
<circle cx="465.06" cy="174.95" r="1.12" fill="#d090c0" opacity="0.22"/>
<circle cx="459.21" cy="167.72" r="1.25" fill="#a03078" opacity="0.22"/>
<circle cx="468.29" cy="175.9" r="0.97" fill="#a03078" opacity="0.22"/>
<circle cx="459.8" cy="182.02" r="0.52" fill="#a03078" opacity="0.22"/>
<circle cx="453.92" cy="176.83" r="0.89" fill="#a03078" opacity="0.22"/>
<circle cx="455.56" cy="174.91" r="0.5" fill="#d090c0" opacity="0.22"/>
<circle cx="453.84" cy="169.4" r="0.59" fill="#a03078" opacity="0.22"/>
<circle cx="455.02" cy="171.56" r="0.68" fill="#d090c0" opacity="0.22"/>
<circle cx="467.55" cy="184.53" r="0.86" fill="#a03078" opacity="0.22"/>
<circle cx="459.77" cy="180.74" r="1.29" fill="#d090c0" opacity="0.22"/>
<circle cx="468.55" cy="178.14" r="0.67" fill="#d090c0" opacity="0.22"/>
<circle cx="458.2" cy="177.7" r="0.62" fill="#a03078" opacity="0.22"/>
<circle cx="493.6" cy="175.8" r="13.8" fill="#eadfea"/>
<circle cx="493.6" cy="175.2" r="12.6" fill="url(#wpaleM)"/>
<rect x="323.2" y="194.8" width="188.8" height="32.6" fill="url(#strip)" stroke="#111" stroke-width="1.4"/>
<rect x="349.6" y="214.1" width="9" height="3" fill="#d8cdd8"/>
<rect x="380.6" y="214.1" width="9" height="3" fill="#d8cdd8"/>
<rect x="411.6" y="214.1" width="9" height="3" fill="#d8cdd8"/>
<rect x="442.6" y="214.1" width="9" height="3" fill="#d8cdd8"/>
<rect x="473.6" y="214.1" width="9" height="3" fill="#d8cdd8"/>
<circle cx="338.6" cy="211.7" r="13.8" fill="#eadfea"/>
<circle cx="338.6" cy="211.1" r="12.6" fill="url(#wmagM)"/>
<circle cx="369.6" cy="211.7" r="13.8" fill="#eadfea"/>
<circle cx="369.6" cy="211.1" r="12.6" fill="url(#wpink)"/>
<circle cx="375.69" cy="210.51" r="1.12" fill="#c080b0" opacity="0.22"/>
<circle cx="360.74" cy="208.87" r="1.34" fill="#c080b0" opacity="0.22"/>
<circle cx="360.09" cy="215.02" r="1.04" fill="#c080b0" opacity="0.22"/>
<circle cx="374.42" cy="206.35" r="0.57" fill="#b090b0" opacity="0.22"/>
<circle cx="367.74" cy="214.27" r="1.05" fill="#b090b0" opacity="0.22"/>
<circle cx="365.07" cy="203.93" r="1" fill="#b090b0" opacity="0.22"/>
<circle cx="366.51" cy="210.99" r="0.73" fill="#c080b0" opacity="0.22"/>
<circle cx="367.32" cy="211.9" r="1.06" fill="#c080b0" opacity="0.22"/>
<circle cx="367.45" cy="220.26" r="0.63" fill="#b090b0" opacity="0.22"/>
<circle cx="368.75" cy="202.29" r="0.73" fill="#c080b0" opacity="0.22"/>
<circle cx="369.27" cy="201.79" r="1.36" fill="#c080b0" opacity="0.22"/>
<circle cx="364.29" cy="210.7" r="1.03" fill="#b090b0" opacity="0.22"/>
<circle cx="364.03" cy="206.23" r="1.21" fill="#b090b0" opacity="0.22"/>
<circle cx="372.47" cy="212.91" r="1.06" fill="#b090b0" opacity="0.22"/>
<circle cx="368.82" cy="211.31" r="0.99" fill="#c080b0" opacity="0.22"/>
<circle cx="361.99" cy="209.91" r="1.17" fill="#c080b0" opacity="0.22"/>
<circle cx="371.08" cy="205.91" r="1.07" fill="#c080b0" opacity="0.22"/>
<circle cx="369.12" cy="204.61" r="0.97" fill="#c080b0" opacity="0.22"/>
<circle cx="363.63" cy="202.73" r="1.16" fill="#b090b0" opacity="0.22"/>
<circle cx="370.13" cy="217.32" r="1.1" fill="#b090b0" opacity="0.22"/>
<circle cx="361.53" cy="217.87" r="0.81" fill="#c080b0" opacity="0.22"/>
<circle cx="374.3" cy="201.56" r="0.54" fill="#b090b0" opacity="0.22"/>
<circle cx="366.94" cy="208.84" r="0.57" fill="#c080b0" opacity="0.22"/>
<circle cx="377.26" cy="208.43" r="0.51" fill="#c080b0" opacity="0.22"/>
<circle cx="372.4" cy="206.66" r="0.69" fill="#b090b0" opacity="0.22"/>
<circle cx="365.44" cy="208.17" r="1.15" fill="#b090b0" opacity="0.22"/>
<circle cx="369.86" cy="220.98" r="0.92" fill="#c080b0" opacity="0.22"/>
<circle cx="368.54" cy="214.84" r="1.02" fill="#c080b0" opacity="0.22"/>
<circle cx="358.64" cy="211.79" r="0.65" fill="#c080b0" opacity="0.22"/>
<circle cx="370.36" cy="215.43" r="0.67" fill="#c080b0" opacity="0.22"/>
<circle cx="378.68" cy="216.75" r="1.24" fill="#c080b0" opacity="0.22"/>
<circle cx="365.93" cy="220.46" r="0.84" fill="#c080b0" opacity="0.22"/>
<circle cx="363.38" cy="208.9" r="0.94" fill="#c080b0" opacity="0.22"/>
<circle cx="369.32" cy="211.62" r="0.64" fill="#c080b0" opacity="0.22"/>
<circle cx="365.15" cy="213.39" r="1.05" fill="#c080b0" opacity="0.22"/>
<circle cx="367.9" cy="215.89" r="1.23" fill="#b090b0" opacity="0.22"/>
<circle cx="368.29" cy="200.62" r="0.67" fill="#c080b0" opacity="0.22"/>
<circle cx="363.56" cy="206.22" r="0.62" fill="#b090b0" opacity="0.22"/>
<circle cx="367.7" cy="219.17" r="0.53" fill="#b090b0" opacity="0.22"/>
<circle cx="369.94" cy="203.19" r="1.07" fill="#b090b0" opacity="0.22"/>
<circle cx="374.24" cy="220.25" r="1.27" fill="#b090b0" opacity="0.22"/>
<circle cx="363.18" cy="217.02" r="0.62" fill="#b090b0" opacity="0.22"/>
<circle cx="375.66" cy="214.28" r="1.19" fill="#b090b0" opacity="0.22"/>
<circle cx="372.14" cy="204.62" r="0.81" fill="#c080b0" opacity="0.22"/>
<circle cx="369.98" cy="200.12" r="1.35" fill="#c080b0" opacity="0.22"/>
<circle cx="373.21" cy="218.39" r="1.37" fill="#c080b0" opacity="0.22"/>
<circle cx="372.02" cy="211.39" r="0.97" fill="#c080b0" opacity="0.22"/>
<circle cx="369.76" cy="207.47" r="0.89" fill="#b090b0" opacity="0.22"/>
<circle cx="375.2" cy="203.5" r="0.55" fill="#b090b0" opacity="0.22"/>
<circle cx="371.61" cy="211.33" r="0.92" fill="#b090b0" opacity="0.22"/>
<circle cx="366.79" cy="201.1" r="0.8" fill="#c080b0" opacity="0.22"/>
<circle cx="371.41" cy="201.23" r="0.98" fill="#c080b0" opacity="0.22"/>
<circle cx="361.55" cy="209.65" r="1.3" fill="#b090b0" opacity="0.22"/>
<circle cx="368.66" cy="202.49" r="0.97" fill="#b090b0" opacity="0.22"/>
<circle cx="361.61" cy="215.65" r="1.39" fill="#b090b0" opacity="0.22"/>
<circle cx="378.06" cy="213.07" r="0.56" fill="#b090b0" opacity="0.22"/>
<circle cx="370.11" cy="208.22" r="1.23" fill="#b090b0" opacity="0.22"/>
<circle cx="364.7" cy="203.33" r="0.65" fill="#b090b0" opacity="0.22"/>
<circle cx="372.03" cy="201.83" r="0.66" fill="#b090b0" opacity="0.22"/>
<circle cx="373.77" cy="216.67" r="0.83" fill="#c080b0" opacity="0.22"/>
<circle cx="369.17" cy="220.61" r="1.33" fill="#c080b0" opacity="0.22"/>
<circle cx="368.06" cy="220.01" r="0.78" fill="#b090b0" opacity="0.22"/>
<circle cx="368.07" cy="219.52" r="1.15" fill="#c080b0" opacity="0.22"/>
<circle cx="364.83" cy="211.75" r="1.2" fill="#b090b0" opacity="0.22"/>
<circle cx="359.82" cy="213.69" r="0.82" fill="#b090b0" opacity="0.22"/>
<circle cx="374.74" cy="204.78" r="0.57" fill="#b090b0" opacity="0.22"/>
<circle cx="371.56" cy="203.41" r="1.38" fill="#b090b0" opacity="0.22"/>
<circle cx="360.76" cy="215.92" r="1.05" fill="#c080b0" opacity="0.22"/>
<circle cx="364.67" cy="212.92" r="0.96" fill="#b090b0" opacity="0.22"/>
<circle cx="374.95" cy="209.87" r="1.39" fill="#b090b0" opacity="0.22"/>
<circle cx="400.6" cy="211.7" r="13.8" fill="#eadfea"/>
<circle cx="400.6" cy="211.1" r="12.6" fill="url(#wgray)"/>
<circle cx="431.6" cy="211.7" r="13.8" fill="#eadfea"/>
<circle cx="431.6" cy="211.1" r="12.6" fill="url(#wgray)"/>
<circle cx="462.6" cy="211.7" r="13.8" fill="#eadfea"/>
<circle cx="462.6" cy="211.1" r="12.6" fill="url(#wgray)"/>
<circle cx="493.6" cy="211.7" r="13.8" fill="#eadfea"/>
<circle cx="493.6" cy="211.1" r="12.6" fill="url(#wgray)"/>
<text transform="translate(338.6 154.4) scale(1 1.1)" font-size="8.4" fill="#222" text-anchor="middle">0</text>
<text transform="translate(369.6 154.4) scale(1 1.1)" font-size="8.4" fill="#222" text-anchor="middle">0.01</text>
<text transform="translate(400.6 154.4) scale(1 1.1)" font-size="8.4" fill="#222" text-anchor="middle">0.1</text>
<text transform="translate(431.6 154.4) scale(1 1.1)" font-size="8.4" fill="#222" text-anchor="middle">0.25</text>
<text transform="translate(462.6 154.4) scale(1 1.1)" font-size="8.4" fill="#222" text-anchor="middle">0.5</text>
<text transform="translate(493.6 154.4) scale(1 1.1)" font-size="8.4" fill="#222" text-anchor="middle" font-weight="bold">1</text>
<text transform="translate(504.3 154.4) scale(1 1.1)" font-size="8.4" fill="#222" textLength="50.4" lengthAdjust="spacingAndGlyphs" font-weight="bold">[MOI of <tspan fill="#444" font-weight="normal">RT3D]</tspan></text>
<text transform="translate(487.8 239.7) scale(1 1.1)" font-size="8.4" fill="#222">MeWo</text>
<text transform="translate(306.2 176) rotate(-90)" font-size="7.7" fill="#222" text-anchor="middle" textLength="23.5" lengthAdjust="spacingAndGlyphs">vehicle</text>
<text transform="translate(313.8 172.9) rotate(-90)" font-size="7.7" fill="#222" text-anchor="middle" textLength="27.8" lengthAdjust="spacingAndGlyphs">(DMSO)</text>
<text transform="translate(306.2 206.9) rotate(-90)" font-size="7.7" fill="#222" text-anchor="middle" textLength="27.9" lengthAdjust="spacingAndGlyphs">0.05 &#181;M</text>
<text transform="translate(313.8 208.5) rotate(-90)" font-size="7.7" fill="#222" text-anchor="middle" textLength="24.6" lengthAdjust="spacingAndGlyphs">talazop</text>
<text transform="translate(0.4 261.3) scale(1 1.07)" font-size="13.3" fill="#222">C.</text>
<rect x="49.4" y="282.1" width="5.3" height="76.2" fill="#8c3cf0" stroke="#111" stroke-width="0.9"/>
<rect x="57.8" y="285.15" width="5.3" height="73.15" fill="#ffff00" stroke="#111" stroke-width="0.9"/>
<rect x="66.2" y="291.24" width="5.3" height="67.06" fill="#0a3cf5" stroke="#111" stroke-width="0.9"/>
<rect x="74.6" y="297.34" width="5.3" height="60.96" fill="#ff2a00" stroke="#111" stroke-width="0.9"/>
<rect x="88.7" y="287.43" width="5.3" height="70.87" fill="#8c3cf0" stroke="#111" stroke-width="0.9"/>
<rect x="97.1" y="304.96" width="5.3" height="53.34" fill="#ffff00" stroke="#111" stroke-width="0.9"/>
<rect x="105.5" y="314.87" width="5.3" height="43.43" fill="#0a3cf5" stroke="#111" stroke-width="0.9"/>
<rect x="113.9" y="324.01" width="5.3" height="34.29" fill="#ff2a00" stroke="#111" stroke-width="0.9"/>
<rect x="128" y="295.82" width="5.3" height="62.48" fill="#8c3cf0" stroke="#111" stroke-width="0.9"/>
<rect x="136.4" y="319.44" width="5.3" height="38.86" fill="#ffff00" stroke="#111" stroke-width="0.9"/>
<rect x="144.8" y="329.34" width="5.3" height="28.96" fill="#0a3cf5" stroke="#111" stroke-width="0.9"/>
<rect x="153.2" y="341.54" width="5.3" height="16.76" fill="#ff2a00" stroke="#111" stroke-width="0.9"/>
<rect x="167.3" y="318.68" width="5.3" height="39.62" fill="#8c3cf0" stroke="#111" stroke-width="0.9"/>
<rect x="175.7" y="334.68" width="5.3" height="23.62" fill="#ffff00" stroke="#111" stroke-width="0.9"/>
<rect x="184.1" y="341.54" width="5.3" height="16.76" fill="#0a3cf5" stroke="#111" stroke-width="0.9"/>
<rect x="192.5" y="349.16" width="5.3" height="9.14" fill="#ff2a00" stroke="#111" stroke-width="0.9"/>
<rect x="206.6" y="333.15" width="5.3" height="25.15" fill="#8c3cf0" stroke="#111" stroke-width="0.9"/>
<rect x="215" y="349.92" width="5.3" height="8.38" fill="#ffff00" stroke="#111" stroke-width="0.9"/>
<rect x="223.4" y="352.97" width="5.3" height="5.33" fill="#0a3cf5" stroke="#111" stroke-width="0.9"/>
<rect x="231.8" y="356.78" width="5.3" height="1.52" fill="#ff2a00" stroke="#111" stroke-width="0.9"/>
<circle cx="52.05" cy="282.1" r="2.5" fill="#000"/>
<circle cx="52.05" cy="282.86" r="2.5" fill="#000"/>
<rect x="57.95" y="282.65" width="5" height="5" fill="#000"/>
<rect x="57.95" y="284.93" width="5" height="5" fill="#000"/>
<path d="M68.85 288.37L71.6 293.24L66.1 293.24Z" fill="#000"/>
<path d="M68.85 287.61L71.6 292.48L66.1 292.48Z" fill="#000"/>
<path d="M77.25 300.22L80 295.34L74.5 295.34Z" fill="#000"/>
<path d="M77.25 298.69L80 293.82L74.5 293.82Z" fill="#000"/>
<circle cx="91.35" cy="287.43" r="2.5" fill="#000"/>
<circle cx="91.35" cy="285.91" r="2.5" fill="#000"/>
<circle cx="91.35" cy="288.96" r="2.5" fill="#000"/>
<rect x="97.25" y="302.46" width="5" height="5" fill="#000"/>
<rect x="97.25" y="301.7" width="5" height="5" fill="#000"/>
<path d="M108.15 311.99L110.9 316.87L105.4 316.87Z" fill="#000"/>
<path d="M108.15 311.23L110.9 316.1L105.4 316.1Z" fill="#000"/>
<path d="M116.55 326.88L119.3 322.01L113.8 322.01Z" fill="#000"/>
<path d="M116.55 324.6L119.3 319.72L113.8 319.72Z" fill="#000"/>
<path d="M116.55 328.41L119.3 323.53L113.8 323.53Z" fill="#000"/>
<line x1="116.55" y1="320.2" x2="116.55" y2="325.53" stroke="#111" stroke-width="0.9"/>
<line x1="114.55" y1="320.2" x2="118.55" y2="320.2" stroke="#111" stroke-width="0.9"/>
<circle cx="130.65" cy="295.82" r="2.5" fill="#000"/>
<circle cx="130.65" cy="294.29" r="2.5" fill="#000"/>
<rect x="136.55" y="316.94" width="5" height="5" fill="#000"/>
<rect x="136.55" y="316.18" width="5" height="5" fill="#000"/>
<path d="M147.45 326.47L150.2 331.34L144.7 331.34Z" fill="#000"/>
<path d="M147.45 325.71L150.2 330.58L144.7 330.58Z" fill="#000"/>
<path d="M155.85 344.41L158.6 339.54L153.1 339.54Z" fill="#000"/>
<path d="M155.85 342.89L158.6 338.01L153.1 338.01Z" fill="#000"/>
<circle cx="169.95" cy="318.68" r="2.5" fill="#000"/>
<circle cx="169.95" cy="316.39" r="2.5" fill="#000"/>
<circle cx="169.95" cy="320.2" r="2.5" fill="#000"/>
<line x1="169.95" y1="314.87" x2="169.95" y2="320.2" stroke="#111" stroke-width="0.9"/>
<line x1="167.95" y1="314.87" x2="171.95" y2="314.87" stroke="#111" stroke-width="0.9"/>
<rect x="175.85" y="332.18" width="5" height="5" fill="#000"/>
<rect x="175.85" y="329.89" width="5" height="5" fill="#000"/>
<rect x="175.85" y="333.7" width="5" height="5" fill="#000"/>
<line x1="178.35" y1="330.87" x2="178.35" y2="336.2" stroke="#111" stroke-width="0.9"/>
<line x1="176.35" y1="330.87" x2="180.35" y2="330.87" stroke="#111" stroke-width="0.9"/>
<path d="M186.75 338.66L189.5 343.54L184 343.54Z" fill="#000"/>
<path d="M186.75 337.9L189.5 342.77L184 342.77Z" fill="#000"/>
<path d="M195.15 352.03L197.9 347.16L192.4 347.16Z" fill="#000"/>
<path d="M195.15 350.51L197.9 345.63L192.4 345.63Z" fill="#000"/>
<circle cx="209.25" cy="330.87" r="2.5" fill="#000"/>
<circle cx="209.25" cy="328.58" r="2.5" fill="#000"/>
<circle cx="209.25" cy="326.3" r="2.5" fill="#000"/>
<line x1="209.25" y1="324.77" x2="209.25" y2="330.87" stroke="#111" stroke-width="0.9"/>
<line x1="207.25" y1="324.77" x2="211.25" y2="324.77" stroke="#111" stroke-width="0.9"/>
<rect x="215.15" y="345.89" width="5" height="5" fill="#000"/>
<rect x="215.15" y="343.61" width="5" height="5" fill="#000"/>
<rect x="215.15" y="341.32" width="5" height="5" fill="#000"/>
<line x1="217.65" y1="342.3" x2="217.65" y2="348.39" stroke="#111" stroke-width="0.9"/>
<line x1="215.65" y1="342.3" x2="219.65" y2="342.3" stroke="#111" stroke-width="0.9"/>
<path d="M226.05 350.09L228.8 354.97L223.3 354.97Z" fill="#000"/>
<path d="M226.05 347.81L228.8 352.68L223.3 352.68Z" fill="#000"/>
<path d="M226.05 345.52L228.8 350.39L223.3 350.39Z" fill="#000"/>
<line x1="226.05" y1="346.87" x2="226.05" y2="352.97" stroke="#111" stroke-width="0.9"/>
<line x1="224.05" y1="346.87" x2="228.05" y2="346.87" stroke="#111" stroke-width="0.9"/>
<path d="M234.45 358.89L237.2 354.01L231.7 354.01Z" fill="#000"/>
<path d="M234.45 354.32L237.2 349.44L231.7 349.44Z" fill="#000"/>
<line x1="234.45" y1="349.92" x2="234.45" y2="356.01" stroke="#111" stroke-width="0.9"/>
<line x1="232.45" y1="349.92" x2="236.45" y2="349.92" stroke="#111" stroke-width="0.9"/>
<line x1="47.7" y1="281.6" x2="47.7" y2="358.8" stroke="#222" stroke-width="1.2"/>
<line x1="47.1" y1="358.3" x2="238.6" y2="358.3" stroke="#222" stroke-width="1.2"/>
<line x1="45.1" y1="358.3" x2="47.7" y2="358.3" stroke="#222" stroke-width="1"/>
<text transform="translate(41.5 361.4) scale(1 1.1)" font-size="8.6" fill="#222" text-anchor="end">0</text>
<line x1="45.1" y1="343.06" x2="47.7" y2="343.06" stroke="#222" stroke-width="1"/>
<text transform="translate(41.5 346.16) scale(1 1.1)" font-size="8.6" fill="#222" text-anchor="end">20</text>
<line x1="45.1" y1="327.82" x2="47.7" y2="327.82" stroke="#222" stroke-width="1"/>
<text transform="translate(41.5 330.92) scale(1 1.1)" font-size="8.6" fill="#222" text-anchor="end">40</text>
<line x1="45.1" y1="312.58" x2="47.7" y2="312.58" stroke="#222" stroke-width="1"/>
<text transform="translate(41.5 315.68) scale(1 1.1)" font-size="8.6" fill="#222" text-anchor="end">60</text>
<line x1="45.1" y1="297.34" x2="47.7" y2="297.34" stroke="#222" stroke-width="1"/>
<text transform="translate(41.5 300.44) scale(1 1.1)" font-size="8.6" fill="#222" text-anchor="end">80</text>
<line x1="45.1" y1="282.1" x2="47.7" y2="282.1" stroke="#222" stroke-width="1"/>
<text transform="translate(41.5 285.2) scale(1 1.1)" font-size="8.6" fill="#222" text-anchor="end">100</text>
<line x1="64.6" y1="358.3" x2="64.6" y2="360.5" stroke="#222" stroke-width="1"/>
<text transform="translate(64.6 372.1) scale(1 1.1)" font-size="8.6" fill="#222" text-anchor="middle">0</text>
<line x1="103.6" y1="358.3" x2="103.6" y2="360.5" stroke="#222" stroke-width="1"/>
<text transform="translate(103.6 372.1) scale(1 1.1)" font-size="8.6" fill="#222" text-anchor="middle">0.1</text>
<line x1="142.8" y1="358.3" x2="142.8" y2="360.5" stroke="#222" stroke-width="1"/>
<text transform="translate(142.8 372.1) scale(1 1.1)" font-size="8.6" fill="#222" text-anchor="middle">0.25</text>
<line x1="182.4" y1="358.3" x2="182.4" y2="360.5" stroke="#222" stroke-width="1"/>
<text transform="translate(182.4 372.1) scale(1 1.1)" font-size="8.6" fill="#222" text-anchor="middle">0.5</text>
<line x1="221.8" y1="358.3" x2="221.8" y2="360.5" stroke="#222" stroke-width="1"/>
<text transform="translate(221.8 372.1) scale(1 1.1)" font-size="8.6" fill="#222" text-anchor="middle">1</text>
<line x1="92.3" y1="281.2" x2="118" y2="281.2" stroke="#222" stroke-width="1"/>
<text transform="translate(105.15 280.9) scale(1 1.1)" font-size="7.4" fill="#111" text-anchor="middle">***</text>
<line x1="131" y1="289.2" x2="156.6" y2="289.2" stroke="#222" stroke-width="1"/>
<text transform="translate(143.8 288.9) scale(1 1.1)" font-size="7.4" fill="#111" text-anchor="middle">***</text>
<line x1="171.2" y1="310.3" x2="196.5" y2="310.3" stroke="#222" stroke-width="1"/>
<text transform="translate(183.85 310) scale(1 1.1)" font-size="7.4" fill="#111" text-anchor="middle">***</text>
<line x1="210.1" y1="323.2" x2="235.7" y2="323.2" stroke="#222" stroke-width="1"/>
<text transform="translate(222.9 322.9) scale(1 1.1)" font-size="7.4" fill="#111" text-anchor="middle">***</text>
<text transform="translate(48.3 274.8) scale(1 1.1)" font-size="8.6" fill="#222">A375</text>
<text transform="translate(20.8 320.5) rotate(-90) scale(1 1.1)" font-size="8.3" fill="#222" text-anchor="middle" textLength="60.3" lengthAdjust="spacingAndGlyphs">% of cell survival</text>
<text transform="translate(143.3 386.2) scale(1 1.1)" font-size="8.6" fill="#222" text-anchor="middle" textLength="46.5" lengthAdjust="spacingAndGlyphs">MOI of RT3D</text>
<rect x="325.8" y="281.8" width="5.3" height="76.5" fill="#8c3cf0" stroke="#111" stroke-width="0.9"/>
<rect x="334.2" y="289.45" width="5.3" height="68.85" fill="#ffff00" stroke="#111" stroke-width="0.9"/>
<rect x="342.6" y="295.57" width="5.3" height="62.73" fill="#0a3cf5" stroke="#111" stroke-width="0.9"/>
<rect x="351" y="297.87" width="5.3" height="60.44" fill="#ff2a00" stroke="#111" stroke-width="0.9"/>
<rect x="365.2" y="292.51" width="5.3" height="65.79" fill="#8c3cf0" stroke="#111" stroke-width="0.9"/>
<rect x="373.6" y="313.93" width="5.3" height="44.37" fill="#ffff00" stroke="#111" stroke-width="0.9"/>
<rect x="382" y="316.99" width="5.3" height="41.31" fill="#0a3cf5" stroke="#111" stroke-width="0.9"/>
<rect x="390.4" y="322.35" width="5.3" height="35.95" fill="#ff2a00" stroke="#111" stroke-width="0.9"/>
<rect x="404.6" y="302.46" width="5.3" height="55.84" fill="#8c3cf0" stroke="#111" stroke-width="0.9"/>
<rect x="413" y="326.17" width="5.3" height="32.13" fill="#ffff00" stroke="#111" stroke-width="0.9"/>
<rect x="421.4" y="325.41" width="5.3" height="32.9" fill="#0a3cf5" stroke="#111" stroke-width="0.9"/>
<rect x="429.8" y="331.53" width="5.3" height="26.78" fill="#ff2a00" stroke="#111" stroke-width="0.9"/>
<rect x="444" y="310.11" width="5.3" height="48.2" fill="#8c3cf0" stroke="#111" stroke-width="0.9"/>
<rect x="452.4" y="328.47" width="5.3" height="29.84" fill="#ffff00" stroke="#111" stroke-width="0.9"/>
<rect x="460.8" y="335.35" width="5.3" height="22.95" fill="#0a3cf5" stroke="#111" stroke-width="0.9"/>
<rect x="469.2" y="339.18" width="5.3" height="19.12" fill="#ff2a00" stroke="#111" stroke-width="0.9"/>
<rect x="483.4" y="317.75" width="5.3" height="40.55" fill="#8c3cf0" stroke="#111" stroke-width="0.9"/>
<rect x="491.8" y="335.35" width="5.3" height="22.95" fill="#ffff00" stroke="#111" stroke-width="0.9"/>
<rect x="500.2" y="342.24" width="5.3" height="16.07" fill="#0a3cf5" stroke="#111" stroke-width="0.9"/>
<rect x="508.6" y="345.3" width="5.3" height="13.01" fill="#ff2a00" stroke="#111" stroke-width="0.9"/>
<circle cx="328.45" cy="281.8" r="2.5" fill="#000"/>
<circle cx="328.45" cy="282.56" r="2.5" fill="#000"/>
<rect x="334.35" y="286.95" width="5" height="5" fill="#000"/>
<rect x="334.35" y="290.01" width="5" height="5" fill="#000"/>
<path d="M345.25 292.69L348 297.57L342.5 297.57Z" fill="#000"/>
<path d="M345.25 291.17L348 296.04L342.5 296.04Z" fill="#000"/>
<path d="M353.65 300.74L356.4 295.87L350.9 295.87Z" fill="#000"/>
<path d="M353.65 299.98L356.4 295.1L350.9 295.1Z" fill="#000"/>
<circle cx="367.85" cy="292.51" r="2.5" fill="#000"/>
<circle cx="367.85" cy="290.98" r="2.5" fill="#000"/>
<rect x="373.75" y="311.43" width="5" height="5" fill="#000"/>
<rect x="373.75" y="309.13" width="5" height="5" fill="#000"/>
<path d="M384.65 314.12L387.4 318.99L381.9 318.99Z" fill="#000"/>
<path d="M384.65 312.59L387.4 317.46L381.9 317.46Z" fill="#000"/>
<path d="M393.05 325.22L395.8 320.35L390.3 320.35Z" fill="#000"/>
<path d="M393.05 324.46L395.8 319.58L390.3 319.58Z" fill="#000"/>
<circle cx="407.25" cy="302.46" r="2.5" fill="#000"/>
<circle cx="407.25" cy="300.93" r="2.5" fill="#000"/>
<circle cx="407.25" cy="299.39" r="2.5" fill="#000"/>
<rect x="413.15" y="323.67" width="5" height="5" fill="#000"/>
<rect x="413.15" y="321.38" width="5" height="5" fill="#000"/>
<path d="M424.05 322.53L426.8 327.41L421.3 327.41Z" fill="#000"/>
<path d="M424.05 321L426.8 325.88L421.3 325.88Z" fill="#000"/>
<path d="M432.45 334.4L435.2 329.53L429.7 329.53Z" fill="#000"/>
<path d="M432.45 333.63L435.2 328.76L429.7 328.76Z" fill="#000"/>
<circle cx="446.65" cy="310.11" r="2.5" fill="#000"/>
<circle cx="446.65" cy="309.34" r="2.5" fill="#000"/>
<rect x="452.55" y="325.97" width="5" height="5" fill="#000"/>
<rect x="452.55" y="325.2" width="5" height="5" fill="#000"/>
<path d="M463.45 332.48L466.2 337.35L460.7 337.35Z" fill="#000"/>
<path d="M463.45 330.94L466.2 335.82L460.7 335.82Z" fill="#000"/>
<path d="M471.85 342.05L474.6 337.18L469.1 337.18Z" fill="#000"/>
<path d="M471.85 340.52L474.6 335.64L469.1 335.64Z" fill="#000"/>
<circle cx="486.05" cy="317.75" r="2.5" fill="#000"/>
<circle cx="486.05" cy="314.69" r="2.5" fill="#000"/>
<circle cx="486.05" cy="320.05" r="2.5" fill="#000"/>
<line x1="486.05" y1="313.17" x2="486.05" y2="320.05" stroke="#111" stroke-width="0.9"/>
<line x1="484.05" y1="313.17" x2="488.05" y2="313.17" stroke="#111" stroke-width="0.9"/>
<rect x="491.95" y="332.85" width="5" height="5" fill="#000"/>
<rect x="491.95" y="331.32" width="5" height="5" fill="#000"/>
<path d="M502.85 339.36L505.6 344.24L500.1 344.24Z" fill="#000"/>
<path d="M502.85 338.6L505.6 343.47L500.1 343.47Z" fill="#000"/>
<path d="M511.25 348.17L514 343.3L508.5 343.3Z" fill="#000"/>
<path d="M511.25 347.41L514 342.53L508.5 342.53Z" fill="#000"/>
<line x1="324.6" y1="281.3" x2="324.6" y2="358.8" stroke="#222" stroke-width="1.2"/>
<line x1="324" y1="358.3" x2="515.6" y2="358.3" stroke="#222" stroke-width="1.2"/>
<line x1="322" y1="358.3" x2="324.6" y2="358.3" stroke="#222" stroke-width="1"/>
<text transform="translate(318.4 361.4) scale(1 1.1)" font-size="8.6" fill="#222" text-anchor="end">0</text>
<line x1="322" y1="343" x2="324.6" y2="343" stroke="#222" stroke-width="1"/>
<text transform="translate(318.4 346.1) scale(1 1.1)" font-size="8.6" fill="#222" text-anchor="end">20</text>
<line x1="322" y1="327.7" x2="324.6" y2="327.7" stroke="#222" stroke-width="1"/>
<text transform="translate(318.4 330.8) scale(1 1.1)" font-size="8.6" fill="#222" text-anchor="end">40</text>
<line x1="322" y1="312.4" x2="324.6" y2="312.4" stroke="#222" stroke-width="1"/>
<text transform="translate(318.4 315.5) scale(1 1.1)" font-size="8.6" fill="#222" text-anchor="end">60</text>
<line x1="322" y1="297.1" x2="324.6" y2="297.1" stroke="#222" stroke-width="1"/>
<text transform="translate(318.4 300.2) scale(1 1.1)" font-size="8.6" fill="#222" text-anchor="end">80</text>
<line x1="322" y1="281.8" x2="324.6" y2="281.8" stroke="#222" stroke-width="1"/>
<text transform="translate(318.4 284.9) scale(1 1.1)" font-size="8.6" fill="#222" text-anchor="end">100</text>
<line x1="340.6" y1="358.3" x2="340.6" y2="360.5" stroke="#222" stroke-width="1"/>
<text transform="translate(340.6 372.1) scale(1 1.1)" font-size="8.6" fill="#222" text-anchor="middle">0</text>
<line x1="379.1" y1="358.3" x2="379.1" y2="360.5" stroke="#222" stroke-width="1"/>
<text transform="translate(379.1 372.1) scale(1 1.1)" font-size="8.6" fill="#222" text-anchor="middle">0.1</text>
<line x1="419.4" y1="358.3" x2="419.4" y2="360.5" stroke="#222" stroke-width="1"/>
<text transform="translate(419.4 372.1) scale(1 1.1)" font-size="8.6" fill="#222" text-anchor="middle">0.25</text>
<line x1="458.7" y1="358.3" x2="458.7" y2="360.5" stroke="#222" stroke-width="1"/>
<text transform="translate(458.7 372.1) scale(1 1.1)" font-size="8.6" fill="#222" text-anchor="middle">0.5</text>
<line x1="498.2" y1="358.3" x2="498.2" y2="360.5" stroke="#222" stroke-width="1"/>
<text transform="translate(498.2 372.1) scale(1 1.1)" font-size="8.6" fill="#222" text-anchor="middle">1</text>
<line x1="367.3" y1="283.2" x2="393" y2="283.2" stroke="#222" stroke-width="1"/>
<text transform="translate(380.15 282.9) scale(1 1.1)" font-size="7.4" fill="#111" text-anchor="middle">***</text>
<line x1="406.7" y1="293.8" x2="431.7" y2="293.8" stroke="#222" stroke-width="1"/>
<text transform="translate(419.2 293.5) scale(1 1.1)" font-size="7.4" fill="#111" text-anchor="middle">***</text>
<line x1="446.4" y1="301.8" x2="471.6" y2="301.8" stroke="#222" stroke-width="1"/>
<text transform="translate(459 301.5) scale(1 1.1)" font-size="7.4" fill="#111" text-anchor="middle">***</text>
<line x1="485.4" y1="308.5" x2="510.9" y2="308.5" stroke="#222" stroke-width="1"/>
<text transform="translate(498.15 308.2) scale(1 1.1)" font-size="7.4" fill="#111" text-anchor="middle">***</text>
<text transform="translate(325 274) scale(1 1.1)" font-size="8.6" fill="#222">MeWo</text>
<text transform="translate(297.8 320.6) rotate(-90) scale(1 1.1)" font-size="8.3" fill="#222" text-anchor="middle" textLength="59" lengthAdjust="spacingAndGlyphs">% of cell survival</text>
<text transform="translate(419.5 382.5) scale(1 1.1)" font-size="8.6" fill="#222" text-anchor="middle" textLength="47" lengthAdjust="spacingAndGlyphs">MOI of RT3D</text>
<circle cx="525.4" cy="289.9" r="2.5" fill="#000"/>
<text transform="translate(542.8 292.9) scale(1 1.1)" font-size="8.1" fill="#222">vehicle (DMSO)</text>
<rect x="522.9" y="299.8" width="5" height="5" fill="#000"/>
<text transform="translate(542.8 305.3) scale(1 1.1)" font-size="8.1" fill="#222">0.005 &#181;M talazoparib</text>
<path d="M525.4 311.82L528.15 316.7L522.65 316.7Z" fill="#000"/>
<text transform="translate(542.8 317.7) scale(1 1.1)" font-size="8.1" fill="#222">0.05 &#181;M talazoparib</text>
<path d="M525.4 329.48L528.15 324.6L522.65 324.6Z" fill="#000"/>
<text transform="translate(542.8 329.6) scale(1 1.1)" font-size="8.1" fill="#222">0.5 &#181;M talazoparib</text>
<text transform="translate(0.9 410.9) scale(1 1.07)" font-size="13.3" fill="#222">D.</text>
<rect x="25" y="441" width="107.3" height="86.6" fill="#000"/>
<g clip-path="url(#clip11)">
<rect x="25" y="441" width="107.3" height="86.6" filter="url(#nz1)"/>
<g stroke-linecap="round" fill="none" filter="url(#bl)">
<path d="M73.54 489.48h0M124.47 445.53h0M100.86 441.95h0M29.15 524.37h0M28.25 484.29h0M119.4 504.06h0M87.57 468.41h0M37.11 481.82h0M80.79 499.21h0M109.97 519.48h0M82.8 476.83h0M55.48 503.66h0M106.76 494.12h0M35.22 446.36h0M37.48 505.34h0M87.86 495.82h0M40 477.11h0M29.24 446.26h0M71.35 490.19h0M83.39 490.14h0M51.46 477.5h0M45.15 457.72h0M45.25 467.57h0M43.46 479.17h0M28.61 480.98h0M78.47 497.3h0M42.15 500.81h0" stroke="#0c1490" stroke-width="1.5"/>
<path d="M116.75 457.45h0M64.56 494.88h0M73.66 495.17h0M89.94 443.4h0M75.77 452h0M100.26 517.1h0M100.61 515.54h0M60.4 487.67h0M126.36 498.68h0M125.71 474.42h0M112.63 493.27h0M42.26 461.33h0M112.58 477.55h0M101.19 510.48h0M46.21 472.12h0M125.58 495.28h0M98.73 450.16h0M109.17 451.56h0M84.61 448.53h0M101 456.58h0M89.39 481.69h0M77.13 527.13h0M51 516.61h0M70.22 510.74h0M99.28 460.99h0M58.03 484.16h0M107.75 450.71h0M90.27 493.7h0M106.06 493.02h0" stroke="#0c1490" stroke-width="2"/>
<path d="M110.09 449.15h0M95.17 494.31h0M31.78 444.09h0M132.23 447.52h0M34.41 442.93h0M81.25 490.62h0M35.17 509.62h0M106.73 525.88h0M79.49 524.75h0M55.42 503.06h0M29.08 460.27h0M47.6 470.76h0M64.62 449.4h0M108.21 447.59h0M60.73 452.84h0M111.47 513.21h0M66.77 486.82h0M77.01 475.87h0M110.27 508.04h0M33.84 464.38h0M75.99 466.41h0M63.96 455.36h0M69.21 443.86h0M57.7 492.39h0M121.94 449.54h0M56.7 464.67h0M84.67 481.87h0" stroke="#1018b0" stroke-width="2"/>
<path d="M120.54 495.94h0M98.52 519.01h0M123.29 481.75h0M115.52 489.49h0M111.17 467.39h0M48.71 445.3h0M109.12 503.49h0M81.46 461.71h0M93.66 448.79h0" stroke="#0c1490" stroke-width="2.5"/>
<path d="M60.01 492.18h0M112.75 462.61h0M39.85 480h0M45.38 507.61h0M98.45 458.26h0M84.96 512.98h0M91.07 487.61h0M116.34 493.97h0M73.71 505.03h0M82.2 474.74h0M52.54 475.77h0M90.43 503.79h0M105.83 457.44h0M105.19 474.78h0M73.75 515.02h0M103.41 467.28h0M49.03 457.02h0M59.53 463.47h0M131.56 464.08h0M44.13 458.69h0M66.04 449.82h0M107.75 470.59h0M82.82 466.85h0M46.26 521.84h0M119.74 480.17h0M113.49 465.99h0M114.91 471.67h0M125.63 479.55h0M37.95 500.85h0M76.88 443.77h0M116.92 443.68h0M87.8 527.14h0" stroke="#1420c8" stroke-width="2"/>
<path d="M78.63 498.37h0M84.15 521.68h0M85.76 458.19h0M123.43 458.66h0M27.28 496.09h0M104.09 501.94h0M72.42 518.22h0M121.57 525.91h0M36.65 477.33h0M35.38 474.85h0M45.49 491.63h0M68.54 503.58h0M58.81 475.45h0M50.58 450.86h0M86.08 520.55h0M103.31 485.7h0M50.5 441.94h0M99.43 448.18h0M83.3 486.52h0M60.34 522.84h0M86.86 501.37h0M83.31 489.56h0M43.64 486.01h0M86.79 480.25h0M120.66 446.21h0M101.94 525.53h0" stroke="#1a28e0" stroke-width="1.5"/>
<path d="M49.64 466.03h0M115.84 474.47h0M60.69 524.49h0M66.18 475.19h0M129.18 510.58h0M67.31 514.99h0M66.65 482.79h0M129.85 451.95h0M114.96 448.26h0M90.94 520.71h0M94.89 458.74h0M102.07 442.36h0M84.05 507.53h0M45.89 508.4h0M50.68 503.92h0M98.57 457.37h0M35.82 517.9h0M111.86 447.6h0M46.85 445.51h0M83.67 509.25h0M105.81 442.49h0M68.51 489.18h0M34.67 460.62h0M109.73 498.18h0M97.02 504.88h0M71.38 519.31h0M46.75 515.39h0M48.74 491.24h0M69.06 472.56h0M61.17 525.98h0M67.16 514.01h0" stroke="#1018b0" stroke-width="1.5"/>
<path d="M85.01 479.75h0M66.44 447.43h0M51.72 445.04h0M71.24 510.8h0M58.16 509.55h0M106.02 487.32h0M62.1 501.39h0M77.85 523.2h0M131.16 451.56h0M108.62 442.97h0M125.99 488.05h0M89.48 442.15h0M122.17 478.2h0M73 512.19h0M131.14 469.18h0M78.09 507.18h0M83 513.43h0M36.31 468.18h0M51.37 455.05h0M115.62 503.29h0M60.7 466.42h0M27.87 498.11h0M105.02 518.68h0M68.28 508.78h0M99.89 489.48h0M49.57 467.06h0M70.44 490.24h0M129.15 445.55h0M83.29 509.55h0M130.76 441.29h0M84.22 461.93h0" stroke="#1420c8" stroke-width="1.5"/>
<path d="M40.7 479.24h0M39.56 474.44h0M40.37 493.98h0M121.1 444.51h0M113.92 465.09h0M95.03 484.53h0M118.09 478.15h0M103.42 451.63h0M92.37 471.1h0M98.52 442.54h0M128.91 450.99h0M26.16 463.39h0M89.01 478.2h0M89.15 472.66h0M104.82 511.59h0M95.52 469.32h0M97.64 491.64h0M80.96 507.22h0M123.18 476.56h0M65.34 487.74h0M37.59 450.93h0M91.12 478.52h0M119.4 527.54h0M54.39 477.4h0M32.92 519.58h0M52.49 503.02h0M70.64 501.24h0" stroke="#1a28e0" stroke-width="2"/>
<path d="M113.38 492.65h0M118.36 493.78h0M35.57 511.16h0M54.95 488.47h0" stroke="#1420c8" stroke-width="2.5"/>
<path d="M124.1 482.12h0M130.58 450.99h0M44.8 458.66h0M107.28 512.11h0M91.85 503.95h0M119.44 445.33h0" stroke="#1a28e0" stroke-width="2.5"/>
<path d="M26.34 447.26h0" stroke="#1018b0" stroke-width="2.5"/>
<path d="M62.28 456.9h0M131.58 499.82h0" stroke="#e050d0" stroke-width="2"/>
<path d="M67.94 492.43h0" stroke="#ff50c8" stroke-width="1.5"/>
<path d="M69.98 445.08h0" stroke="#a040f0" stroke-width="2"/>
</g>
<ellipse cx="87.23" cy="510.28" rx="10.73" ry="25.98" fill="url(#dk)" opacity="1"/>
<ellipse cx="89.38" cy="494.69" rx="7.51" ry="12.99" fill="url(#dk)" opacity="0.7"/>
</g>
<rect x="136.1" y="441" width="107.7" height="86.6" fill="#000"/>
<g clip-path="url(#clip12)">
<g stroke-linecap="round" fill="none" filter="url(#bl)">
<path d="M187.21 497.94h0M186.14 493.53h0M216.52 523.24h0M202.93 494.35h0M208.13 483.74h0M186.89 479.77h0M154.29 514.21h0M228.68 463.58h0M140.56 513.01h0M136.53 448.37h0M218.52 474.48h0M168.2 504.01h0M189.66 478.01h0M203.73 451.19h0M220.92 512.05h0M191.54 499.05h0M230.6 485h0M152.47 495.97h0M223.7 520.12h0M172.26 499.36h0M187.22 506.71h0M201.67 513.41h0M213.17 491.82h0M206.92 482.06h0M166.66 500.75h0M179.08 490.85h0M153.88 480.04h0M138.74 524.52h0M138.49 510.33h0M178.43 517.72h0M194.14 500.1h0M142.19 495.48h0M145.83 458.17h0M168.89 482.94h0M158.5 515.53h0M159.53 455.63h0M169.68 453.44h0M144.87 488.54h0M203.7 452.72h0M144.4 466.12h0M156.61 504.62h0M185.91 447.47h0M136.32 520.36h0M184.7 521.71h0M147.41 466.67h0M210.55 484.54h0M196.52 441.38h0M238.8 461.18h0M145.63 524.05h0M168.53 467.58h0M213.77 441.68h0M202.84 485.27h0M232.86 499.33h0M224.74 465.42h0M235.06 513.74h0M160.24 518.74h0M207.14 450.43h0M211.98 446.57h0M190.17 453.09h0M191.74 507.97h0M184.64 471.97h0M165.17 522.96h0M171.09 454.98h0M224.24 465.75h0M217.13 474.96h0M230.73 510.83h0M218.57 476.03h0M172.25 505.08h0" stroke="#0c14a0" stroke-width="2"/>
<path d="M243.44 482.79h0M181.21 492.61h0M173.17 496.16h0M174.91 465.22h0M220.69 445.26h0M139.61 498h0M202.64 463.79h0M138.2 453.52h0M151.16 520.1h0M146.51 501.71h0M211.07 517.68h0M154.21 526.71h0M145.97 490.72h0M142.19 460.18h0M226.5 473.7h0M145.28 479.63h0M231.45 452.58h0M149.16 506.94h0M241.88 482.36h0M191.42 450.91h0M149.75 445.21h0M196.85 496.46h0M155.59 458.41h0M150.85 460.35h0M232.1 454.21h0M195.31 523.88h0M190.36 514.03h0M226.26 453.76h0M224.94 521.09h0M214.55 477.5h0M178.9 507.83h0M171.5 452.78h0M242.73 470.91h0M180.05 505.51h0M138.87 505.98h0M161.55 523.99h0M207.43 489.58h0M214.84 473.47h0M150.62 464.56h0M228.5 473.37h0M210.51 509.89h0M139.43 458.89h0M227.29 510.19h0M154.87 501.98h0M234.13 456.85h0M156.4 462.15h0M156.91 455.74h0M170.96 443.63h0M165.25 504.81h0M153.39 501.03h0M187.51 473.71h0M205.2 443.49h0M226.24 458.67h0M191.3 509.63h0M241.4 513.53h0M156.34 504.65h0M221.94 512.45h0M180.2 470.12h0M241.04 471.81h0M174.67 516.82h0M229.74 462.43h0M209.63 492.99h0M192.21 527.44h0M170.57 467.54h0M149.69 510.74h0M187.86 475.94h0M208.62 485.77h0M197.15 500.01h0" stroke="#0a0e78" stroke-width="2"/>
<path d="M200.88 489.34h0M237.33 511.55h0M157.3 511.03h0M200.54 447.16h0M155.17 512.59h0M161.87 488.23h0M191.09 509.68h0M178.37 468.1h0M200.13 508.48h0M147.04 521.54h0M190.14 477.64h0M141.87 467.61h0M153.44 512.91h0M176.91 450.69h0M239.6 473.15h0M178.26 456.4h0M141.37 510.07h0M167.23 524.62h0M146.08 474.68h0M191.38 451.38h0M200.4 504.04h0M150.77 510.93h0M211.81 494.88h0M154.4 458.03h0M238.37 487.07h0M173.8 518.95h0M159.57 488.68h0M156.36 493.63h0M226.34 517.38h0M186.25 505.08h0M189.7 519.91h0M175.21 453.37h0M234.48 512.47h0M136.98 476.17h0M218.01 466.92h0M240.04 496.06h0M231.15 498.03h0M141.14 492.52h0M215.34 457.82h0M211.35 459.99h0M185.17 463.96h0M192.03 487.62h0M226.33 493.45h0M232.36 487.42h0M199.75 450.49h0M164.19 476.25h0M168.56 441.4h0M205.78 459.38h0M189.17 523.5h0M179.13 485.22h0M212.95 454.29h0M197.37 450.39h0M223.07 456.04h0" stroke="#0c14a0" stroke-width="2.5"/>
<path d="M175.7 470.42h0M156.84 513.63h0M197.08 487.66h0M145.68 497.39h0M148.9 497.98h0M150.62 521.36h0M150.61 483.45h0M179.94 448.51h0M214.75 463.9h0M213.77 486.67h0M167.62 503h0M153.95 467.25h0M198.32 482.92h0M149.95 475.94h0M216.82 450.17h0M222.61 505.61h0M156.59 519.1h0M197.29 450.2h0M142.68 509.87h0M165.15 446.63h0M172.98 509.43h0M147.08 501.78h0M172.02 524.83h0M190.13 521.25h0M178.6 520.76h0M240.08 477.24h0M190.21 501.97h0M235.55 491.31h0M241.39 490.15h0M218.08 487.91h0M213.37 491.79h0M206.61 525.67h0M182.57 524.7h0" stroke="#141cc0" stroke-width="2.5"/>
<path d="M144.14 500.49h0M239.1 500.1h0M166.02 458.1h0M225.04 506.58h0M159.07 463.2h0M209.78 485.74h0M207.49 444.75h0M210.79 489.18h0M189.83 487.52h0M150.33 458.02h0M235.62 458.99h0M180.71 490.89h0M212.03 488.71h0M147.75 502.09h0M201.49 484.01h0M200.66 451.67h0M207.42 507.93h0M149.23 497.51h0M172.59 517.45h0M219.25 445.9h0M162.81 496.14h0M157.16 453.72h0M238.95 496.88h0M180.21 476.37h0M179.16 464.65h0M160.88 448.59h0M147.45 450.48h0M156.54 498.69h0M227.84 474.44h0M154.46 474.02h0M211.21 451.6h0M167.84 500.39h0M191.63 468.26h0M183.28 518.2h0M197.7 482.96h0M183.12 500.17h0M224.74 466.82h0M170.79 488.74h0M222.94 457.97h0M220.3 492.38h0M189.51 459.83h0M168.85 493.25h0M179.34 527.09h0M164.59 519.5h0M216.93 509.22h0M149.63 468.71h0M217.59 458.17h0M172.29 504.08h0" stroke="#0a0e78" stroke-width="2.5"/>
<path d="M145.51 520.58h0M160.82 486.66h0M156.45 464.44h0M203.1 451.8h0M188.64 479.42h0M233.35 458.01h0M145.51 524.01h0M208.64 481.52h0M215.63 460.64h0M138.48 483.7h0M238.22 450.04h0M152.12 441.88h0M157.91 523.33h0M211.62 485.84h0M177.45 514.71h0M168.45 521.31h0M177.09 447.75h0M224.19 452.86h0M147.57 524.68h0M204.66 488.22h0M195.64 521.05h0M167.45 494.06h0M163.26 462.66h0M206.95 502.61h0M142.3 486.77h0M167.73 515.71h0M241.76 493.78h0M165.68 446.59h0M220.34 492.78h0M168.03 450.8h0M210.21 523.46h0M161.41 479.9h0M196.01 491.19h0M223.36 475.78h0M223.17 454.92h0M188.35 517.23h0M183.93 507.78h0M163.04 505.03h0M155.11 510.91h0M238.77 523.54h0M230.68 467.99h0M236.6 471.15h0M224.03 510.33h0M174.07 442.53h0M150.95 452.57h0M160.18 455.3h0M151.74 504.38h0M149.54 506.56h0M144.1 477.3h0M225.99 511.74h0M198.53 444.93h0M138.5 471.69h0M167.48 446.37h0M146.61 452.42h0M145.72 457.55h0M174.52 497.03h0M161.49 488.19h0M178.89 453.46h0M222.99 501.61h0M242.08 462.72h0M147.8 483.14h0M216.69 486.85h0M217.58 446.58h0M177.68 508.49h0M233.73 524.22h0M199.54 519.21h0M186.49 505.22h0" stroke="#1822d0" stroke-width="2"/>
<path d="M145.9 526.49h0M211.15 445.45h0M213.51 522.09h0M198.64 447.21h0M160.41 488.14h0M194.59 468.36h0M239.95 490.2h0M224.33 499.82h0M234.73 488.19h0M212.32 442.87h0M241.97 499.52h0M182.8 446.73h0M149.41 474.26h0M240.98 457.68h0M200.92 482.28h0M237.46 490.79h0M151.62 499.52h0M233.09 505.64h0M187.49 450.62h0M137.72 443.53h0M152.71 525.81h0M225.92 453.45h0M162.1 477.47h0M227.86 456.73h0M215.07 491.35h0M144.95 488.82h0M220.68 512.26h0M151.75 527.47h0M235.11 522.19h0M227.5 520.82h0M208.19 471.43h0M187.48 495.57h0M169.45 498.04h0M167.3 507.02h0M195.26 476.68h0M176.76 469.94h0M204.59 503.82h0M233.18 506.46h0M235.03 478.27h0M229.37 460.93h0M210.56 451.14h0M142.7 486.71h0M214.24 513.95h0M230.39 514.63h0M169.59 510.05h0M160.24 448.16h0M180.79 525.81h0M204.94 453.34h0M209.58 524.33h0M204.65 489.26h0M189.7 503.23h0M187.66 525.18h0M213.63 488.99h0M173.91 507.92h0M201.74 495.48h0M209.72 476.95h0M218.73 486.02h0" stroke="#0a1088" stroke-width="2"/>
<path d="M240.71 487.72h0M161.41 472.46h0M222.41 456.55h0M202.77 526.2h0M184.04 509.6h0M175.11 466.82h0M154.71 488.46h0M225.7 473.88h0M179.97 510.25h0M240.65 518.39h0M194.18 516.76h0M212.02 516.05h0M206.63 505.64h0M182.61 453.11h0M199.75 489.48h0M206.36 519.21h0M193.35 478.21h0M220.36 447.32h0M165.31 447.32h0M171.96 442.95h0M186.78 475.9h0M165.83 500.39h0M181.53 489.8h0M143.99 450.42h0M234.78 503.21h0M146 451.3h0M191.95 443.99h0M159 483.59h0M170.74 511.61h0M238.6 459.84h0M236.49 455.49h0M217.27 516.06h0M164.01 514.04h0M185.13 448.83h0M227.8 453.69h0M147.75 472.99h0M226.08 470.75h0M189.68 475.62h0M190.29 510.23h0M226.79 478.18h0M205.49 467.91h0M157.78 516.32h0M207.05 527.5h0M169.13 457.7h0M220.95 467.64h0M227.92 482.78h0M151.4 466.27h0M182.99 484.51h0M236.93 496.26h0M165.65 481.16h0" stroke="#141cc0" stroke-width="1.5"/>
<path d="M205.11 448.16h0M151.37 448.84h0M218.09 475.23h0M147.55 490.4h0M193.85 479.84h0M149.76 487.84h0M156.68 520.64h0M196.38 513.69h0M231.11 512.25h0M216.21 492.87h0M226.92 499.94h0M185.56 521.35h0M215.96 517.71h0M175.04 499.73h0M227.36 473.62h0M146.33 521.61h0M215.12 462.59h0M210.25 498.36h0M216.31 521.41h0M220.43 490.86h0M243.78 465h0M243.18 505.81h0M159.49 463.71h0M169.52 490.81h0M241.98 474.18h0M224.78 471.89h0M161.54 467.08h0M215.92 518.78h0M233.1 461.28h0M172.14 449.85h0M213.39 496.83h0M154.05 495.84h0M197.95 456.58h0M225.36 494.44h0M177.51 518.85h0M175.44 525.7h0M141.25 459.8h0M216.85 484.05h0M157.36 454.35h0M240.82 490.89h0M152.45 500.92h0M227.31 486.11h0M169.84 480.65h0M207.37 456.57h0M175.35 489.35h0M180.54 475.21h0M202.83 489.91h0M243.67 468.35h0M146.8 470.96h0M212.17 509.59h0M166.77 462.8h0" stroke="#1822d0" stroke-width="1.5"/>
<path d="M237.46 516.01h0M191.72 453.7h0M176.48 447.22h0M193.98 513.31h0M237.02 474.92h0M221.84 486.7h0M166.26 472.33h0M215.18 507.49h0M227.09 521.88h0M176.78 457.27h0M233.03 480.78h0M164.2 466.95h0M208.32 471.5h0M222.21 514.47h0M239.99 515.64h0M148.75 521.67h0M236.95 520.21h0M146.9 461.26h0M189.88 511.06h0M205.78 455.42h0M157.15 504.13h0M165.76 475.57h0M228.59 493.29h0M219.13 459.9h0M164.95 521.78h0M226.25 526.43h0M136.96 491.48h0M189.7 450.2h0M161.27 462.41h0M188.14 473.95h0M243.71 457.37h0M194.12 463.13h0M137.49 475.38h0M238.41 453.68h0M224.55 447.74h0M180.79 472.86h0M195.65 458.15h0M238.51 473.11h0M142.41 456.85h0M155.35 517.52h0M199.57 496.24h0M141.37 524h0M202.23 480.5h0M199.66 453.91h0M173.76 506.66h0M205.46 511.91h0M227.7 511.19h0" stroke="#1018b0" stroke-width="1.5"/>
<path d="M177.12 515.4h0M169.95 463.44h0M217.42 520.49h0M181.53 476.92h0M190.13 494.33h0M227.84 450.58h0M203.5 520.54h0M226.08 500.21h0M148.18 480.28h0M212.93 509.23h0M216.35 500.63h0M193.34 507.47h0M159.86 513.02h0M137.31 489.42h0M146.02 527.3h0M147.43 509.94h0M165.07 466.31h0M166.55 507.8h0M232.5 527.03h0M214.96 465.4h0M229.39 457.99h0M168.67 469.76h0M210.74 458.84h0M158.84 471.25h0M216.63 523.72h0M144.85 516.91h0M177.45 470.04h0M161.82 526.63h0M243.77 456.45h0M148.09 487.52h0M220.13 495.01h0M167.19 443.68h0M231.6 472.33h0M161.23 446.11h0M234.42 443.02h0M191.78 488.07h0M187.97 461.6h0M193.63 474.47h0M179.18 475.5h0M227.72 501.75h0M147.43 458.87h0M221.86 467.94h0M163.11 498.73h0M198.53 514.45h0M150.88 525.37h0M207.35 504.94h0" stroke="#0a1088" stroke-width="1.5"/>
<path d="M182.11 474.62h0M212.58 519.27h0M193.71 509.34h0M147.75 448.3h0M173.43 497.65h0M168.27 516.51h0M187.8 458.65h0M154.65 478.62h0M209.57 521.06h0M218.45 487.13h0M221.59 446.54h0M170.36 505.44h0M139.44 450.3h0M185.81 477.38h0M196.03 487.39h0M142.96 519.7h0M210.73 481.35h0M166.15 460.44h0M234.82 479.99h0M167.53 445.53h0M185.67 497.22h0M139.13 445.17h0M181.88 497.33h0M226.09 480.43h0M234.32 450.96h0M208.52 444.77h0M236.98 471.05h0M230.23 515.91h0M203.04 462.47h0M200.26 443.99h0M155.63 485.56h0M235.01 495.45h0M197.33 519.76h0M180.47 479.51h0M215.94 441.34h0M219.2 478.57h0M152.62 485.15h0M189.21 452.97h0M207.34 456.45h0M242.32 487.27h0M181.69 469.38h0M225.79 470.87h0" stroke="#0a1088" stroke-width="2.5"/>
<path d="M159.86 447.75h0M172.68 480.46h0M209.82 479.52h0M188.39 448.85h0M138.42 483.78h0M171.63 503.36h0M160.17 492.71h0M156.41 453.36h0M238.87 508.46h0M194.92 470.96h0M240.91 473.87h0M211.77 458.65h0M177.11 455.98h0M173.13 519.74h0M139.25 468.89h0M181.02 506.4h0M137.02 505.13h0M157.91 517.06h0M192.4 465.73h0M141.96 481.78h0M144.62 488.38h0M241.13 485.06h0M166.35 486.92h0M137.3 507.16h0M142.29 462.94h0M186.96 444.48h0M159.72 506.75h0M184.63 441.29h0M186.37 473.9h0M160.35 490.54h0M237.38 466.07h0M141.08 507.14h0M220.17 525.21h0M189.57 475.53h0M149.55 488.66h0M142.07 471.76h0M171.66 515.87h0M237.12 504.25h0M138.57 489.25h0M169.2 497.3h0M143.5 498.21h0M186.15 525.97h0M238.87 462.58h0M187.01 455.7h0M137.76 459.18h0M156.13 486.87h0M170.41 480.01h0M169.16 525.54h0M224.5 495.89h0M151.29 498.97h0M233.83 510.07h0" stroke="#0a0e78" stroke-width="1.5"/>
<path d="M242.56 481.25h0M241.65 496.26h0M209.17 496.18h0M185.31 517.58h0M219.57 518.57h0M230.13 518.7h0M138.75 467.71h0M184.89 487h0M236.45 486.76h0M158.43 514.09h0M136.97 484.68h0M138.84 469.95h0M138.32 470.15h0M209.27 510.9h0M242.34 453.23h0M171.37 507.69h0M167.01 490.56h0M153.74 451.35h0M189.22 487.46h0M164.22 470.79h0M229.26 473h0M238.19 505.43h0M199.66 453.21h0M155.36 487.36h0M175.43 477.83h0M242.64 444.73h0M197.62 455.73h0M166.11 473.88h0M216.02 521.6h0M203.4 508.86h0M199.47 456.22h0M152.38 517.92h0M192.79 472.95h0M235.86 495.95h0M230.32 505.99h0M187.27 457.45h0M215.21 513.12h0M243.73 498.69h0M178.29 454.45h0M219.19 446.32h0M222.54 469.91h0M155.09 485.46h0M214.23 466.77h0M179.52 522.46h0M158.27 472.28h0M192.52 496.34h0M223.1 517.16h0M153.52 455.52h0M184.22 520.42h0M219.16 465.98h0M151.83 471.55h0M238.25 458.48h0M226.43 503.03h0M164.21 514.88h0" stroke="#0c14a0" stroke-width="1.5"/>
<path d="M216.72 519.98h0M224.54 472.07h0M172.26 473.42h0M137.18 506.79h0M222.63 476.83h0M241.36 450.02h0M187.86 499.53h0M191.32 452.31h0M174.53 449.56h0M218.46 485.25h0M171.46 444.57h0M207.86 503.56h0M179.74 517.9h0M229.39 507.83h0M195 496.96h0M158.57 463.12h0M162.87 450.86h0M164.84 513.08h0M200.34 490.75h0M164.1 489.31h0M225.02 507.9h0M176.65 485.51h0M187.31 516.81h0M182.96 526.32h0M148.81 441.81h0M148.73 524.68h0M195.79 461.85h0M239.78 461.81h0M156.47 514.76h0M191.52 513.84h0M194.56 486.41h0M177.92 454.56h0M230.43 524.58h0M231.62 485.13h0M144.24 475.83h0M236.71 517.52h0M158.66 515.92h0M166.98 461.35h0M231.28 488.37h0M164.95 487.11h0M168.01 527.25h0M181.59 486.46h0M200.58 474.72h0M207.79 460.29h0M147.47 446.85h0M207.37 514.74h0M185.56 487.56h0M183.23 459.42h0" stroke="#1018b0" stroke-width="2.5"/>
<path d="M235.99 517.38h0M209.69 501.11h0M175.39 476.38h0M194.92 442.88h0M178.4 483.12h0M138.31 454.43h0M222.62 495.49h0M202.83 446.57h0M143.34 500.56h0M204.72 492.07h0M207.1 502.98h0M169.12 443.14h0M209.3 444.89h0M217.04 512.35h0M167.61 494.09h0M234.26 468.42h0M151.62 487.89h0M136.99 504.59h0M136.73 481.03h0M205.14 477.56h0M179.77 443.38h0M218.3 499.83h0M227.86 493.09h0M216.91 482.1h0M230.78 503.14h0M203.88 501.13h0M224.97 504.6h0M207.41 441.09h0M217.52 497.01h0M232.6 459.39h0M241.27 446.9h0M161.79 510.2h0M224.03 488.53h0M138.34 453.32h0M181.11 447.26h0M158.65 515.16h0M154.55 520.63h0M237.36 446.89h0M163.34 500.26h0M228.24 494.19h0M228.4 467.25h0M186.04 445.87h0M217.11 452.71h0M212.9 456.12h0M209.34 499.95h0M224.77 494.01h0M145.04 509.2h0M176.56 492.53h0M232.38 453.16h0M145.28 501.66h0M195.47 522.1h0M181.92 525.87h0M182.71 473.5h0M232.39 519.85h0M234.61 505.57h0M169.16 443.35h0M179.49 526.98h0M239.15 520.59h0M152.42 447.05h0M170 451.3h0M239.72 506.62h0M140.18 496.65h0M194.96 441.34h0M183.15 459.37h0M181.58 449.25h0M193.86 478.09h0M215.67 511.47h0M168.95 463.61h0M194.64 461.33h0M160.49 515.16h0M173.35 524.35h0M241.02 504.94h0M163.71 483.45h0M229.96 491.03h0M182.76 464.73h0M202.06 513.85h0M171.47 444.86h0M228.23 501.15h0" stroke="#1018b0" stroke-width="2"/>
<path d="M230.14 465.1h0M162.08 478.7h0M199.47 519.02h0M231.07 511.26h0M173.09 526.8h0M171.9 497.94h0M240.27 519.15h0M193.58 519.51h0M194.94 519.86h0M151.25 493.2h0M218.36 458.85h0M187.99 514.89h0M234.12 518.29h0M190.47 492.89h0M137.21 465.03h0M234.78 460.3h0M201.42 469.08h0M145.7 485.62h0M152.4 443.66h0M165.81 471h0M231.66 509.24h0M208.49 445.36h0M192.77 515.99h0M203.88 519.88h0M211.53 503.59h0M189.38 454.76h0M231.6 492.53h0M153.53 469.39h0M225.67 475.83h0M227.58 480.13h0M181.64 463.84h0M227.01 446.58h0M172.22 501.93h0M167.68 499.89h0M149.42 475h0M199.59 495.25h0M233.42 519.88h0M206.74 477.2h0M138.25 451.57h0M218.66 505.4h0M148.18 516.09h0M147 454.46h0M239.19 458.31h0M193.62 464.55h0M144.63 478.68h0M223.22 499.34h0M242.03 493.19h0M194.72 526.15h0M205.35 503.38h0M222.05 488.16h0M161.33 489.58h0M206.42 479.11h0M187.82 516.58h0M181.39 487.73h0M237.33 457.67h0M227.66 457.29h0M137.33 511.52h0M160.89 503.63h0M183.82 448.79h0M210.11 503.75h0M165.56 481.21h0M201.63 516.6h0M200.96 448.03h0M234.78 463.95h0M182.77 476.15h0M189.52 521.76h0M188.92 496.13h0M165.08 451.62h0M200.21 505.52h0M170.94 471.26h0M226.52 523.43h0M158.1 519.09h0M171.37 501.71h0M180.06 486.12h0M162.84 519.9h0M202.36 457.93h0M226.91 507.66h0M237 501.99h0" stroke="#141cc0" stroke-width="2"/>
<path d="M147.91 464.2h0M228.61 467.94h0M177.94 476.93h0M139.44 500.46h0M172.43 446.09h0M218.85 489.22h0M213.14 489.75h0M236.11 508.16h0M194.56 452.97h0M172.62 485h0M223.71 474.98h0M233.85 472.55h0M170.81 445.45h0M176.4 467.01h0M154.7 469.69h0M213.13 459.72h0M155.05 491.38h0M179.89 508.02h0M188.42 493.64h0M147.45 493.13h0M203.53 449.92h0M169.1 441.16h0M217.79 513.84h0M221.95 471.92h0M161.93 465.89h0M184.46 504.5h0M180.09 462.53h0M147.6 524.09h0M206.91 448.72h0M155.21 480.43h0M211.84 510.29h0M224.27 513.07h0M180.63 475.88h0M183.26 460.4h0M201.93 507.35h0M141.99 508.29h0M136.68 448.09h0M190.86 503.53h0M234.35 483.27h0M157.48 480.79h0M208.83 521.41h0M178.22 481.09h0M154.82 492.09h0M234.38 462.78h0M235.83 501.49h0M184.66 517.32h0M184.75 511.64h0M242.9 508.47h0M137.21 458.41h0M153.86 520.84h0M168.47 490.53h0M241.94 469.38h0M180.02 459.01h0M215.27 498.96h0M181.88 493.86h0M178.74 465.17h0M216.73 520.68h0M208.75 460.17h0M151.79 482.05h0M225.66 512.19h0M165.89 500.83h0" stroke="#1822d0" stroke-width="2.5"/>
<path d="M195.42 464.71h0" stroke="#a040f0" stroke-width="2.5"/>
<path d="M234.75 509.3h0M216.07 510.63h0" stroke="#a040f0" stroke-width="2"/>
<path d="M211.36 510.11h0" stroke="#c040e0" stroke-width="2"/>
<path d="M205.57 498.86h0" stroke="#a040f0" stroke-width="1.5"/>
<path d="M230.82 446.97h0" stroke="#ff50c8" stroke-width="1.5"/>
<path d="M150.54 475.44h0M159.96 481.35h0" stroke="#e050d0" stroke-width="2"/>
</g>
</g>
<rect x="249" y="441" width="106.2" height="86.6" fill="#000"/>
<g clip-path="url(#clip13)">
<rect x="249" y="441" width="106.2" height="86.6" filter="url(#nz2)"/>
<g stroke-linecap="round" fill="none" filter="url(#bl)">
<path d="M276.51 500.34h0M349.82 509.74h0M271.85 477.79h0M258.66 469.89h0M340.57 453.42h0M326.74 478.06h0M262.08 476.53h0M298.43 444.1h0M294.29 447.16h0M251.44 468.23h0M275.08 446.77h0M258.67 497.76h0M340.58 472.65h0M326.7 479.31h0M306.93 443.35h0M316.36 494.9h0M311.55 469.41h0M275.95 477.25h0M252.86 445.51h0M318.16 506.22h0M306.6 451.51h0M306.86 511.55h0M289.77 472.17h0M294.59 475.3h0M272.35 491.91h0M271.48 493.34h0M277.77 487.02h0M275.44 446.69h0M267.14 496.02h0M299.7 489.31h0M345.47 489.92h0M345.71 449.97h0M294.24 497.52h0M284.33 486.19h0M268.87 459.11h0M318.28 519.37h0M293.37 503h0M303.64 444.16h0M279.2 496.29h0M334.45 468.13h0M349.96 467.53h0M305.12 448.31h0M348.63 477.72h0M271.83 476.31h0M270.06 517.72h0M335.59 459.87h0M271.76 475.18h0M263.32 447.01h0M262.68 467.45h0M333.68 495.09h0M254.46 465.71h0M278.97 499.94h0M332.96 468.54h0M336.89 486.74h0M302.2 500.23h0M306.57 453.8h0M274.4 466.43h0M337.87 500.58h0M272.6 522.05h0M300.01 517.06h0M304.01 446.26h0M277.72 495.58h0M300.5 523.55h0M306.97 446.9h0M325.35 479.64h0M260.02 443.1h0M342 501.7h0M308.82 518.25h0M300.08 473.38h0M308.44 513.74h0M270.06 490.41h0M285.12 522.51h0M320.04 447.87h0M320.21 461.24h0M252.91 469.75h0M279.08 449.4h0M313.75 474.87h0M336.58 502.65h0M321.04 504.36h0M288.41 480.08h0M333.27 453.59h0M340.79 515.99h0M279.55 447.48h0M320.36 507.52h0M271.45 513.03h0M249.72 482.26h0M260.71 492.45h0M322.49 518.14h0M319.65 511.63h0M287.31 445.5h0M292.1 510.69h0M251.24 452.05h0M308.52 476.57h0M325.03 525.06h0M281.81 465.19h0M318.79 461.36h0M334.17 456.52h0" stroke="#1018b8" stroke-width="1.5"/>
<path d="M319.75 516.28h0M321.66 527.43h0M249.52 462.49h0M347.97 447.09h0M319.34 457.57h0M259.45 446.11h0M289.41 502.78h0M292.04 459.25h0M350.13 454.48h0M280.5 497.4h0M305.06 476.3h0M324.5 493.77h0M336.08 498.54h0M325.63 525.72h0M257.33 478.37h0M286.95 453.68h0M258.89 482.5h0M349.77 514.36h0M291.82 465.19h0M308.97 514.08h0M262.61 523.89h0M277.93 457.24h0M304.76 511.45h0M286.39 514.47h0M344.95 450.42h0M348.21 462.9h0M253.74 454.39h0M303.14 482.43h0M333.45 526.48h0M275.73 466.92h0M258.65 524.16h0M342.75 485.09h0M251.47 467.57h0M272.56 497.21h0M250.19 490.48h0" stroke="#1018b8" stroke-width="1"/>
<path d="M305.43 459.52h0M312.09 489.35h0M346.27 484.69h0M352.74 521.38h0M334.58 444.14h0M252.9 458.7h0M267.1 446.7h0M267.29 443.03h0M336.73 443.55h0M344.6 445.19h0M280.87 465.41h0M276.06 443.07h0M271.09 446.87h0M301.11 475.58h0M340.65 511.43h0M296.17 443.98h0M318.26 517.77h0M283.43 500.07h0M270.26 492.07h0M299.65 476.8h0M308.64 464.71h0M265.62 503.18h0M341.64 467.74h0M339.03 501.79h0" stroke="#0a1090" stroke-width="1"/>
<path d="M333.33 517.93h0M310.41 523.97h0M337.29 443.52h0M317.15 493.83h0M345.45 475.66h0M289.55 458.79h0M334.6 457.05h0M315.43 471.8h0M270.85 490.05h0M249.76 512.5h0M305.59 524.17h0M265.75 445.91h0M345.91 444.97h0M253.7 524.03h0M310.23 442.39h0M341.21 526.42h0M290.28 452.99h0M307.79 526.83h0M317.63 447.68h0M249.38 520.07h0M261.88 478.51h0M312.47 441.16h0M254.69 486.27h0M271.86 518.17h0M265.01 520.97h0M348.93 476.39h0M332.81 524.29h0M314.01 514.81h0M251.05 469.34h0M327.35 473.35h0M334.13 524.39h0M252.74 494.64h0M253.17 456.86h0M317.34 468.31h0M264.41 500.48h0M255.52 444.59h0M311.14 481.4h0M331.01 474.89h0M251.91 446.6h0M336.97 446.35h0M255.82 504.81h0M291.19 477.81h0M321.99 497.91h0M261.86 503.6h0M249.72 448.62h0M352.41 516.27h0M252.79 521.47h0M312.95 527.03h0M331.2 501.39h0M286.65 497.74h0M301.06 452.28h0M288.19 447.05h0M300.96 520.28h0M312.16 526.64h0M256.07 502.57h0M262.28 462.32h0M340.69 514.39h0M249.72 524.09h0M282.48 469.12h0M278.73 476.13h0M347.87 472.4h0M291.71 464.21h0M301.76 457.34h0M306.58 495.44h0M304.26 477.62h0M278.08 451.75h0M315.31 459.78h0M289 508.15h0" stroke="#0a1090" stroke-width="2"/>
<path d="M329.18 489.85h0M288.19 453.85h0M275.59 441.28h0M288.98 442.77h0M312.94 500.72h0M251.2 455.38h0M293.82 473.03h0M250.23 504.92h0M351.48 473.44h0M351.69 506.37h0M341.7 486.7h0M260.5 449.08h0M279.1 454.02h0M317.1 500.78h0M283.86 448.53h0M331.9 476.68h0M255.38 489.69h0M259.97 501.69h0M331.98 467.17h0M307.92 488.54h0M292.97 505.2h0M332.86 450.52h0M317.21 447.9h0M317.27 442.31h0M264.26 461.14h0M307.82 513.91h0M328.35 467.59h0M353.19 503.18h0M352.41 453.94h0M351.35 442.1h0M286.65 502.09h0M304.89 506.33h0M253.53 480.71h0M273.58 526.49h0M341.96 498.51h0M285.08 522.22h0M288.21 519.01h0M296.24 523.7h0M324.04 487.63h0M251.34 442.94h0M312.33 473.07h0M306.6 484.98h0M279.58 463.95h0M308.5 473.34h0M345.45 494.67h0M264.91 492.04h0M286.59 464.63h0M267.05 443.98h0M271.86 476.91h0M337.74 464.36h0M275.67 456.63h0M269.11 503.6h0M271.21 460.39h0M253.15 494.1h0M325.87 444.49h0M288.34 517.13h0" stroke="#141ec8" stroke-width="2"/>
<path d="M316.82 497.74h0M266.77 478.16h0M284.55 484h0M285.91 449.63h0M254.74 494.77h0M325.84 443.37h0M309.73 447.71h0M298.87 463.09h0M324.39 459.44h0M310.42 470.51h0M299.22 467.18h0M330.2 498.53h0M298.17 466.72h0M331.6 493.41h0M254.52 497.31h0M317.06 481.84h0M349.43 512.17h0M274.87 473.9h0M250.78 503.04h0M352.3 524.98h0M346.09 484.71h0M341.36 468.85h0M261.92 488.07h0M328.82 515.76h0M267.02 500.81h0M338.65 523.64h0M333.54 462.12h0M268.28 450.11h0M353.47 504.31h0M318.6 451.36h0M298.93 474.77h0M334.13 445.42h0M330.8 469.18h0M311.28 514.11h0M315 515.16h0M329.86 471.73h0M315.39 512.44h0M352.04 486.97h0M297.95 480.67h0M344.18 504.05h0M335.3 452.46h0M312.7 499.13h0M286.74 509.1h0M346.05 516.11h0M326.11 443.32h0M352.92 516.44h0M268.25 449.21h0M254.85 496.76h0M278.45 491.26h0M282.66 450.63h0M330.56 482.43h0M298.76 477.79h0M265.78 496.14h0M266.54 476.99h0M296.97 517.23h0M311.17 460.28h0M279.49 512.79h0M335.21 495.05h0M277.62 499.08h0M275.59 514.87h0M281.32 493.3h0M340.32 527.36h0" stroke="#1a26d8" stroke-width="2"/>
<path d="M353.68 500.83h0M345.68 504.94h0M354.74 453.36h0M342.74 513.67h0M325.09 523.96h0M290.11 454.61h0M293.01 455.89h0M257.56 445.6h0M302.73 466.55h0M342.28 520h0M304.39 453.37h0M320.1 446.23h0M296.94 468.44h0M278.67 520.81h0M322.89 459.38h0M285.82 444.69h0M298.32 518.8h0M352.57 452h0M341.52 462.14h0M262.03 447.73h0M264.8 465.57h0M306.69 490.65h0M320.63 472.55h0M323.18 502.9h0M287.52 466.27h0M293.06 469.09h0M335.45 479.73h0M273.16 527.18h0M353.2 480.76h0M352.21 456.64h0M306.28 491.79h0M253.86 447.84h0M312.31 493.32h0M289.99 472.49h0M352.76 472.17h0M271.35 480.8h0M281.05 479.96h0M309.02 464.8h0M300.13 514.91h0M273.97 526.5h0M320.7 519.83h0M306.2 468.94h0M307.59 520.58h0M294.51 481.97h0M251.53 479.26h0M264.44 479.56h0M262.32 514.42h0M336.75 448.56h0M316.17 518.74h0" stroke="#1c2ae8" stroke-width="2"/>
<path d="M295.77 504.13h0M301.89 501.46h0M292.91 516.19h0M354.98 451.52h0M294.44 496.48h0M281.76 527.27h0M284.25 522.17h0M354.48 506.98h0M256.16 515.4h0M328.64 448.93h0M301.03 501.3h0M285.94 478.11h0M253.75 464.64h0M325.49 442.49h0M291.44 476.82h0M280.21 518.54h0M271.17 477.73h0M321.49 523.89h0M328.02 484.6h0M277.94 450.78h0M306.75 514.04h0M352.5 503.4h0M352 453.18h0M302.34 505.74h0M343.83 473.31h0M288.41 454.22h0M291.77 443.62h0M287.96 453.92h0M323.29 450.82h0M265.11 456.41h0M274.27 465.94h0M301.08 477.9h0M342.9 455.09h0M334.9 475.53h0M303.34 491.79h0M337.24 490.02h0M328.23 511.27h0M348.55 503.51h0M318.18 488.3h0M288.71 483.76h0M329.7 445.96h0M313.83 466.67h0M280.49 482.7h0M299.44 514.95h0M337.53 505.81h0M328.51 498.56h0M303.46 498.68h0M292.14 483.53h0M265.84 488.05h0M253.65 443.29h0M297.61 446.56h0M270 474.2h0M308.27 447.64h0M263.34 475.23h0M300.13 473.04h0M331.92 502.75h0M313.77 523.55h0M313.76 486.59h0M353.8 521.86h0M263.41 504.84h0M294.3 450.3h0M325.41 459.64h0M273.47 521.38h0M308.59 441.95h0M347.5 526.79h0M312.84 449.38h0M254.43 487.81h0M258.98 519.28h0M321.5 460.45h0M257.29 483.28h0M271.25 490.85h0M273.61 485.61h0M329.29 525.95h0M330.13 517.25h0M252.9 475.1h0M349.02 454.7h0M283.44 479.02h0M286.23 442.46h0M322.18 503.24h0M268.6 516h0M270.4 504.25h0M291.48 451.5h0M274.68 455.19h0M322.67 448.92h0M289.63 493.21h0M274.16 467.27h0M303.85 481.14h0M320.11 444.4h0M293.36 454.24h0M284.88 449.83h0M297.17 483.87h0M276.31 489.81h0M261.59 500.14h0M323.13 445.78h0M339.23 502.21h0M336.17 526.37h0M303.5 462.39h0M308.29 511.5h0M296.19 476.77h0M279.45 466.76h0M271.27 441.1h0M354.64 505.91h0M281.45 441.46h0M264.79 513.92h0M258.29 466.56h0M285.36 512.02h0M266.5 486.96h0M285.83 508.43h0M311.47 450.73h0M294.75 512.85h0" stroke="#141ec8" stroke-width="1.5"/>
<path d="M304.51 462.94h0M343.44 490.99h0M323.53 444.35h0M263.57 487.23h0M264.88 467.06h0M289.47 511.55h0M324.28 501.67h0M274.99 465.38h0M293.75 453.06h0M266.98 478.01h0M323.25 479.65h0M351.92 491.82h0M320.48 462.52h0M286.84 518.36h0M259.88 489.62h0M325.97 506.34h0M310.37 500.89h0M290.27 525.3h0M305.87 447.77h0M348.64 465.79h0M301.22 515.11h0M306.73 505.38h0M290.92 476.58h0M338.07 501.97h0M310.67 515.18h0M336.16 516.86h0M272.38 527.2h0M263.56 449.34h0M268.5 445.35h0M319.82 521.79h0M278.83 520.18h0M291.34 519.74h0M265.43 471.11h0M309.82 474.64h0M272.8 451.15h0M308.75 524.21h0M326.97 513.89h0M271.7 486.12h0M338.93 476.13h0M254.68 445.53h0M283.67 513.37h0M262.06 494.72h0M256.12 524.1h0M343.71 513.45h0M345.1 450.76h0M324.68 454.17h0M340.25 456.85h0M270.36 507.59h0M289.1 470.25h0M280.47 447.94h0M286.41 478.64h0M353.18 513.23h0M329.81 443.07h0M294.29 478.63h0M309.04 509.64h0M282.36 453.18h0M263.38 443.2h0M250.43 446.26h0M275.3 477.33h0M344.69 449.79h0M343.62 496.32h0M284.16 488.15h0M351.42 488.16h0M292.04 442.34h0M277.95 454.01h0M345.95 465.56h0M336.25 500.1h0M348 508.94h0M275.09 518.6h0M316.68 512.25h0M297.01 483.95h0M345.61 458h0M257.57 464.43h0M310.38 506.89h0M289.93 441.12h0M336.36 478.56h0M294.89 485.67h0M339.26 460.2h0M330.92 470.22h0M318.69 487.25h0M344.14 512.38h0M329.81 455.33h0M289.22 468.07h0M271.7 468.62h0" stroke="#1a26d8" stroke-width="1.5"/>
<path d="M269.65 472.73h0M252.23 503.95h0M328.82 505.67h0M302.99 446.19h0M275.4 481.5h0M308.48 493.45h0M280.04 483.95h0M264.43 513.83h0M335.32 515.52h0M319.96 495.78h0M316.34 453.67h0M315.64 444.53h0M320.8 522.87h0M266.18 445.19h0M254 485.1h0M277.32 493.45h0M313.68 464.74h0M251.48 456.94h0M335.22 469.05h0M273.01 449.43h0M308.71 523.72h0M258.68 453.64h0M279.99 475.27h0M300.21 474.48h0M286.93 500.77h0M336.79 505.63h0M327.63 499.06h0M307 491.66h0M319.38 519.59h0M278.56 452.49h0M279.23 465.12h0M346.35 519.99h0M332.92 459.09h0M306.19 508.54h0M255.48 451.37h0M324.5 465.91h0M322.97 475.13h0M344.76 442.23h0M351.62 464.45h0M302.59 497.81h0M271.82 478.47h0M257.84 503.26h0M333.51 444.53h0M280.37 523.09h0M251.06 474.88h0M276.09 490.29h0M255.18 499.35h0M261.16 522.83h0M250.78 472.41h0M270.29 450.21h0M274.67 470.98h0M276.15 503.25h0M309.63 526.43h0M320.92 479.02h0M349.35 467.81h0M297.99 456.66h0M355.19 461.27h0M347.23 520.07h0M281.93 480.85h0M295.64 506.44h0M315.69 467.08h0M314.69 441.12h0M349.06 473.42h0M307.27 445.13h0M277.99 471.02h0M290.88 500h0M278.08 523.45h0M249.17 492.67h0M271.61 476.23h0M304.93 449.54h0M316.85 457.76h0M266.96 441.45h0M296.56 477.55h0M293.17 493.43h0M285.18 492.88h0M306.07 448h0M252.58 475.35h0M287.02 495.88h0M291.58 487.57h0M272.11 507.56h0M285.74 475.39h0M331.31 461.49h0M265.99 524.2h0M332.13 470.73h0M342.09 474.94h0M274.91 476.16h0M334.95 459.18h0M275.14 486.01h0M346.88 505.91h0M296.93 505.45h0M286.85 461.08h0M250.13 497.64h0M320.36 453.99h0M349.74 483.18h0" stroke="#1c2ae8" stroke-width="1.5"/>
<path d="M298.24 441.19h0M258.21 506.66h0M344.96 490.46h0M313.57 462.1h0M305.38 478.36h0M307.89 495.38h0M299.55 457.81h0M353.45 442.56h0M300.61 490.5h0M257.44 476.2h0M349.94 454.46h0M256 504.33h0M294 497.25h0M261.74 491.47h0M284.25 516.54h0M284.96 489.94h0M259.09 488.77h0M305.44 519.62h0M345.57 460.63h0M275.36 513.15h0M267.1 507.86h0M348.56 454.5h0M326.88 482.3h0M265.2 496.38h0M291.52 452.54h0M274.75 497.64h0M332.04 487.22h0M276.52 457.49h0M262.83 446.79h0M324.25 454.83h0M257.45 449.09h0M254.81 492.9h0M249.82 503.16h0M283.67 454.85h0M275.85 485.4h0M345.21 488.07h0M262.81 455.49h0M304.41 455.52h0M280.42 463.05h0M281.99 520.93h0M281.16 484.71h0M335.93 518.16h0M275.16 483.86h0M251.27 508.8h0M288.1 512.92h0M293.29 452.68h0M284.47 469.54h0M339.87 479.86h0M325.46 515.11h0M339.85 495.35h0M296.11 501.84h0M286.96 522.59h0M308.82 457.26h0M275.31 445.14h0M345.26 485.19h0M255.92 445.37h0M261.3 523.64h0M313.47 445.49h0M312.18 508.9h0M269.98 462.66h0M350.84 505.86h0M334.19 521.29h0M332.14 480.96h0M266.31 513.21h0M336.56 500.16h0M325.59 472.5h0M276.07 455.87h0M338.8 468.67h0M288.95 504.62h0M344.63 489.39h0M272.26 489.08h0M274.71 496.5h0M287.02 501.39h0M255.35 483.24h0M314.63 460.09h0M280.41 472.24h0M331.16 501.16h0M286.13 519.85h0M314.93 490.16h0M340.22 486.85h0M309.66 467.19h0M323.49 448.5h0M263.3 461.72h0M312.87 453.71h0M277.14 470.53h0M255.14 495.07h0M273.03 467.92h0M250.29 510.29h0M290.85 443.29h0M254.15 464.44h0M251.25 498h0M254.32 490.18h0M251.23 480.37h0M258.17 480.71h0M304.8 452.35h0M313.49 500.13h0M267.61 494.31h0M325.73 452.96h0M252.06 483.18h0M274.67 466.07h0M270.89 494.75h0M283.11 525.89h0M312.22 520.68h0" stroke="#0c14a0" stroke-width="1.5"/>
<path d="M339.66 473.45h0M354.12 444.77h0M352.48 448.72h0M268.67 445.81h0M254 451.34h0M253.88 518.53h0M291.5 447.96h0M339.52 485.37h0M308.26 489.08h0M334.14 486.55h0M328.78 450.25h0M287.75 494.61h0M327.93 478.22h0M271.25 442.03h0M261.96 493.6h0M354.46 441.1h0M304.19 504.68h0M277.38 468.98h0M256.56 515.78h0M337.09 495h0M319.73 503.29h0M320.73 458.79h0M338.66 500.5h0M326.23 454.69h0M331.43 506.6h0M257.84 512.22h0M352.89 481.94h0M305.84 503.62h0M333.2 452.54h0M274.85 515.17h0M349.26 454.33h0M347.11 521.31h0M309.57 443.55h0M269.33 526.46h0M353.4 458.49h0M276.72 448.35h0M321.05 452.02h0M333.88 463.68h0M250.62 478.81h0M321.02 508.28h0M301.41 494.06h0M332.54 498.7h0M302.09 448.31h0M275.4 449.66h0M290.72 514.86h0M318.76 498.39h0M335.53 489.11h0M342.27 501.05h0M350.76 515.77h0M266.51 508.59h0M263.24 520.69h0M267.05 469.72h0M310.08 500.13h0M329.5 480.02h0M255.75 453.39h0M299.25 444.89h0M325.16 446.83h0M352.05 445.86h0M274.53 518.18h0M279.66 447.91h0M311.71 511.85h0M308.7 487.9h0M262.42 456.51h0M341.48 526.99h0M348.66 448.49h0M253.12 457.71h0M270.84 451.1h0M314.84 477.19h0M323.86 441.31h0M353.41 481.92h0M317.45 469.64h0M326.97 497.81h0M338.45 480.37h0" stroke="#1018b8" stroke-width="2"/>
<path d="M323.75 461.58h0M352.13 512.48h0M328.16 497.21h0M343.73 519.55h0M321.36 503.42h0M276.78 508.7h0M323.72 522.52h0M288.68 502.03h0M303.87 458.31h0M348.08 451.91h0M274.58 514.71h0M304.02 473.3h0M307.15 455.55h0M349.03 459.91h0M323.35 495.83h0M346.24 504.91h0M295.31 471.17h0M339.83 493.62h0M332.82 502.74h0M288.19 457.81h0M333.51 474.68h0M302.69 497.58h0M335.46 510.29h0M287.64 488.79h0M281.14 509.25h0M302.44 481.72h0M328.92 518.98h0M321.13 511.04h0M268.97 453.71h0M353.93 483.34h0" stroke="#1a26d8" stroke-width="1"/>
<path d="M280.36 455.24h0M330.32 521.68h0M273.78 469.72h0M290.17 501.38h0M257.25 480.07h0M330.84 512.22h0M298.35 471.43h0M260.95 525.9h0M314.27 458.63h0M292.22 517.98h0M349.63 519.04h0M309.6 498.05h0M334.44 499.51h0M295.84 495.11h0M249.55 477.16h0M321.87 476.97h0M287.01 478.12h0M304.78 502.63h0M264.45 519.22h0M283.47 445.83h0M352.72 449.21h0M300.15 457.33h0M260.69 520.03h0M325.91 441.37h0M342.36 522.37h0M272.67 443.61h0M273.44 478.67h0M265.94 507.31h0M256.67 446.35h0M270.97 445.43h0M328.45 507.89h0M304.96 471.3h0M342.53 443.12h0M267.29 503.86h0M338.42 495.88h0M289.81 472.27h0M354.3 501.01h0M275.03 453.16h0M323.56 471.23h0M253.49 466.08h0M315.5 447.48h0M275.39 517.11h0M321.45 495.88h0M309.94 501.38h0M319.47 444.67h0M350.79 513.67h0M270.09 465.33h0M317.12 483.82h0M314.5 506.33h0M303.01 487.69h0M288.75 486.08h0M303.33 483.28h0M323.12 482.28h0M267.25 471.64h0" stroke="#0c14a0" stroke-width="2"/>
<path d="M323.23 522.27h0M279.74 478.67h0M290.75 445.7h0M337.48 503.01h0M324.7 451.86h0M342.32 479.28h0M351.66 525.57h0M288.83 468.91h0M272.91 469.08h0M278.77 495.55h0M287.95 494.31h0M343.32 474.88h0M343.2 464.36h0M282.34 462.17h0M324.28 513.54h0M307.46 519.59h0M290.81 506.43h0M282.97 465.05h0M281.05 462.62h0M255.07 469.4h0M342.41 483.62h0M346.61 457.9h0M343.45 524.78h0M272.8 453.52h0M294.47 478.08h0M351.63 441.65h0M285.4 510.99h0M251.23 474.35h0M349.01 495.2h0" stroke="#0c14a0" stroke-width="1"/>
<path d="M272.69 458.95h0M281.54 479.93h0M336.46 459.9h0M274.25 512.7h0M320.4 520.04h0M272.33 467.45h0M294.8 490.15h0M249.06 508.67h0M269.97 457.75h0M282.89 447.84h0M293.78 475.52h0M351.53 469.68h0M271.25 488.93h0M256.67 464.12h0M266.91 481.49h0M320.47 515.42h0M285.24 516.98h0M261.44 456.01h0M305.84 520h0M257.04 442.12h0M262.12 458.9h0M290.22 499.36h0M314.93 517.56h0M292.69 465.96h0M302.79 504.09h0M291.07 512.56h0M335.3 502.16h0M307.58 460.52h0M259.54 507.48h0M335.02 505.48h0M275.25 526.16h0M286.15 476.9h0M276.3 463.56h0M303.77 460.61h0M317.38 456.09h0M292.92 480.01h0M293.77 474.49h0M283.18 455.19h0M274.46 444.65h0M314.58 474.18h0M258.58 467.48h0M315.67 479.28h0M341.5 499.61h0M266.13 498.34h0M295.26 445.37h0M303.83 502.18h0M323.8 491.39h0M349.64 490.64h0M277.2 457.23h0M316.81 465.88h0M348.09 489.58h0M338.81 444.08h0M277.33 459.28h0M325.93 462.81h0M305.83 469.67h0M279.99 462.46h0M278.6 443.58h0M258.3 487.7h0M318.72 441.63h0M287.87 522.9h0M262.22 462.16h0M282.38 483.9h0M309.09 460.23h0M271.16 495.74h0M319.38 466.2h0M253.54 472.07h0M318.94 522.09h0M277.41 498.46h0M325.87 489.97h0M321.32 463.47h0M352.5 483.44h0M272.95 488.08h0M287.56 452.39h0M281.82 507.84h0M352.39 488.48h0M258.66 492.35h0M281.73 491.48h0M279.96 441.14h0M281.79 484.64h0M318.9 441.89h0M340.8 481.42h0M347.07 525.9h0M261.73 464.38h0M296.09 524.47h0M339.96 447.84h0" stroke="#0a1090" stroke-width="1.5"/>
<path d="M254.22 455.43h0M323.4 477.99h0M296.55 476.55h0M279.05 505.36h0M296.88 499.32h0M351.31 448h0M292.62 455.44h0M303.83 453.93h0M302.13 473.42h0M288.71 505.85h0M287.86 459.19h0M323.76 461.16h0M264.21 467.56h0M266.23 452.06h0M257.17 490.03h0M310.19 466.43h0M260.39 483.69h0M286.12 442.53h0M257.27 519.46h0M287.08 520.72h0M339.08 484.05h0M269.94 520.45h0M284.88 492.63h0M345.96 487.16h0M308.31 478.03h0M349.02 456.81h0M325.36 455.2h0M306.59 492.49h0" stroke="#1c2ae8" stroke-width="1"/>
<path d="M264.82 488.24h0M267.98 449.91h0M290.82 511.6h0M319.72 444.67h0M296.62 521.6h0M340.95 445.63h0M315.53 451.31h0M255.39 505.21h0M322.92 494.66h0M350.52 501.36h0M343.46 482.52h0M253.46 449.48h0M265.77 450.2h0M295.3 488.12h0M312.02 442.35h0M290.46 464.95h0M270.85 467.97h0M350.56 513.37h0M333.66 452.19h0" stroke="#141ec8" stroke-width="1"/>
<path d="M252.2 518.18h0M313.85 463.97h0M342.2 481.92h0M344.72 516.61h0M261.91 449.36h0M263.66 497.4h0M308.34 505.52h0M271.92 475.48h0M295.88 495.24h0M309.33 516.35h0M253.99 504.86h0M282.54 450.88h0M352.32 449.96h0M331.86 509.49h0M269.91 518.88h0M353.57 445.77h0M348.22 525.88h0M276.25 470.25h0" stroke="#a02870" stroke-width="2"/>
<path d="M309.8 517.15h0M270.42 502.08h0M294.97 490.17h0M288.8 495.55h0M280.99 502.96h0M274.63 479.38h0M252.66 448.98h0M324.04 511.09h0M318 503.34h0M268.4 475.81h0M334.7 472.6h0M259.49 466.65h0" stroke="#8838c0" stroke-width="2"/>
<path d="M302.86 508.38h0M268.09 459.21h0M268.62 502.75h0M260.54 504.1h0M310.87 444.69h0M345.94 479.65h0M320.45 492.65h0M334.56 491.88h0M311.41 466.21h0M256.31 474.84h0M344.88 471.61h0M266.8 511.96h0M340.41 448.24h0M289.83 502.41h0M308.25 524.58h0M324.88 517.97h0M345.32 457.71h0" stroke="#d058b8" stroke-width="1.5"/>
<path d="M301.06 519.08h0M320.76 523.58h0M312.3 513.72h0M349.15 453.96h0M287.75 508.5h0M257.41 471.43h0M341.82 493.8h0M316.01 465.53h0M252.44 448.29h0M271.04 517h0M293.19 495.49h0M337.92 457.15h0M268.92 442.2h0M299.78 477.77h0M271.17 485.72h0M268.39 471.79h0" stroke="#a02870" stroke-width="1.5"/>
<path d="M303.45 469.12h0M254.26 510.19h0M344.33 442.7h0M263.18 520.26h0M341 457.24h0M294.71 448.14h0M259.41 513.08h0M275.77 446.65h0M322.37 514.72h0M295.61 449.08h0M352.43 463.24h0M260.39 457.61h0M258.9 509.7h0M287.73 517.27h0M258.4 511.14h0M309.49 515.53h0M279.19 515.84h0M270.02 447.07h0M335.98 521.44h0M263.58 458.03h0" stroke="#8838c0" stroke-width="1.5"/>
<path d="M272.84 518.55h0M256.03 444.44h0M311.63 443.73h0M266.53 494.84h0M260.62 514.55h0M282.07 457.97h0M283.89 518.67h0M329.54 464.04h0M345.99 495.71h0M311.85 471.04h0M292.99 482.51h0M289.31 491.49h0M332.62 452.21h0M317.05 463.64h0M321.02 468.1h0M256.54 487.75h0M262.35 441.68h0M279.29 495.14h0M284.65 516.24h0M352.14 504.99h0" stroke="#c848a8" stroke-width="2"/>
<path d="M271.29 444.53h0M271.78 475.87h0M291.49 514.91h0M283.58 485.77h0M254.1 462.53h0M291.56 489.76h0M338.16 485.95h0M315.28 460.02h0" stroke="#d058b8" stroke-width="2"/>
<path d="M253.71 507.11h0M285.04 483.57h0M291.6 454.87h0M343.91 463.48h0M258.7 481.32h0M331.09 485.02h0M265.27 457.63h0" stroke="#9830a0" stroke-width="1.5"/>
<path d="M284.76 479.56h0M253.63 509.78h0M307.83 457.83h0M311.38 499.33h0M249.22 488.34h0M280.12 488.12h0M272.1 464.82h0" stroke="#c848a8" stroke-width="1.5"/>
<path d="M345.95 495.61h0" stroke="#b03890" stroke-width="1"/>
<path d="M315.87 455.25h0" stroke="#d058b8" stroke-width="1"/>
<path d="M281.06 454.75h0M275.59 470.44h0M271.82 452.84h0M329.23 506.36h0M249.39 469.38h0M303.62 459.67h0M353.4 498.98h0M294.65 456.61h0M314 449.1h0M291.65 456.76h0M308.41 445.25h0M295.8 491.88h0M340.2 459.32h0M277.46 448.04h0M254.48 466.46h0M324.15 486.19h0M331.67 470.29h0" stroke="#b03890" stroke-width="2"/>
<path d="M284.91 464.9h0M322.41 473.26h0M308.49 496.97h0M292.91 460.85h0M333.86 521.29h0" stroke="#8838c0" stroke-width="1"/>
<path d="M316.01 480.41h0M255.72 497.01h0M349.79 474.97h0M324.7 479.46h0M321.31 490.49h0M311.54 478.49h0M291.24 503.66h0M316.71 449.22h0M297.53 499.21h0M299.32 474.07h0M327.49 513.48h0M264.12 452.56h0" stroke="#b03890" stroke-width="1.5"/>
<path d="M284.77 496.63h0M317.69 520.77h0M343.62 466.58h0M301.68 488.08h0M319.32 519.47h0M282.3 521.18h0M338.85 524.11h0M319.35 446.18h0M301.58 469.86h0" stroke="#9830a0" stroke-width="2"/>
</g>
</g>
<rect x="359.2" y="442.6" width="107.2" height="84.7" fill="#000"/>
<g clip-path="url(#clip14)">
<g stroke-linecap="round" fill="none" filter="url(#bl)">
<path d="M370.65 502.11h0M444.71 450.68h0M370.27 459.59h0M386.73 473.82h0M443.04 474.5h0M414.91 452.81h0M437.53 464.64h0" stroke="#1018b8" stroke-width="1.5"/>
<path d="M386.62 504.77h0M452.77 475.96h0M366.7 492.98h0M379.98 480.94h0M370.18 511.9h0M408.49 477.98h0M387.72 482.4h0M363.5 516.36h0M410.44 487.65h0M366.01 456.25h0M371 517.79h0M395.85 523.74h0" stroke="#141ec8" stroke-width="1.5"/>
<path d="M455.84 472.93h0M387.45 468.2h0M419.05 444.97h0M426.35 512.93h0M418.73 469.45h0M380.94 488.35h0M384.3 443.47h0M390.27 484.45h0M392.35 485.22h0" stroke="#1c2ae8" stroke-width="2"/>
<path d="M375.25 489.3h0M425.67 462.42h0" stroke="#1018b8" stroke-width="1"/>
<path d="M464.04 476.79h0M428.46 527.22h0M404.49 500.25h0M450.3 448.95h0M367.17 503.42h0M408.61 518.99h0M453.11 461.92h0M459.67 475.38h0M441.39 505.28h0M407.9 473.08h0M361.33 488.68h0M393.1 520.78h0M373.32 526.41h0M382.38 451.61h0" stroke="#0a1090" stroke-width="2"/>
<path d="M369.32 496.88h0M452.78 465.01h0M423.07 522.41h0M394.95 463.97h0M441.77 507.31h0M385.11 492.68h0M450.51 449.16h0M375.13 446.96h0M462.18 463.35h0M365.23 489.56h0M374.38 449.85h0" stroke="#1a26d8" stroke-width="2"/>
<path d="M427.14 457.95h0M410.7 500.65h0M380.35 484.12h0M464.69 517.67h0M418.76 472.45h0M414.06 447.66h0M447.03 496.37h0M385.11 446.79h0M393.75 463.76h0M400.07 474.94h0" stroke="#0a1090" stroke-width="1.5"/>
<path d="M376.54 477.49h0M423.03 512.33h0M425.48 512.98h0M453.51 499.98h0M431.41 470.96h0M396.05 446.85h0" stroke="#1a26d8" stroke-width="1.5"/>
<path d="M384.53 515.9h0M394.79 503.7h0M411.41 453.24h0M368.86 511.08h0M432.11 521.73h0M366.55 513.72h0M451.87 503.44h0M444.72 444.61h0M376.92 483.59h0M383.82 511.17h0M393.82 488.13h0" stroke="#0c14a0" stroke-width="2"/>
<path d="M411.63 465.2h0M389.54 526.85h0M400.43 493.63h0M416.42 455.66h0M398.33 467.66h0M419.05 506.57h0M456.78 468.57h0M455.86 447.04h0M391.37 516.47h0" stroke="#1c2ae8" stroke-width="1.5"/>
<path d="M465.03 444.36h0M464.57 492.24h0M383 497.4h0M444.58 504h0M450.88 476.29h0M422.23 459.1h0M463.4 473.17h0M362.9 465.96h0M416.02 510.09h0M394.92 467.5h0M428.56 520.63h0M446.09 476.57h0" stroke="#141ec8" stroke-width="2"/>
<path d="M371.4 523.61h0M428.15 478.97h0M385.8 500.29h0M389.36 480.01h0M452.68 491.88h0M363.45 480.83h0M391 457h0M430.33 462.32h0M378.18 445.93h0M366.07 524.48h0M425.76 443.78h0M465.74 445.04h0M370.18 488.93h0" stroke="#0c14a0" stroke-width="1.5"/>
<path d="M442.11 469.23h0" stroke="#1a26d8" stroke-width="1"/>
<path d="M459.03 448.37h0M410.69 450.57h0" stroke="#141ec8" stroke-width="1"/>
<path d="M434.89 524.58h0" stroke="#0a1090" stroke-width="1"/>
<path d="M412.57 512.77h0M447.47 511.4h0M444.14 452.28h0M458.44 520.19h0M366.34 495.71h0M461.3 501.99h0M387.64 466.37h0M427.89 506.88h0M368.36 527.09h0M459.02 506.35h0" stroke="#1018b8" stroke-width="2"/>
<path d="M463.9 518.5h0M407.87 504.6h0M442.74 448.03h0M399.7 457.84h0M439.95 468.57h0M459.37 501.32h0M380.62 511.38h0M407.38 482.14h0M369.98 518.54h0M440.85 499.11h0M456.02 494.68h0M392.4 476.75h0M454.36 460h0M367.29 455.87h0M444.37 516.11h0M375.31 460.84h0M456.49 448.48h0M394.07 464.65h0M448.59 469.71h0M359.41 504.45h0M372.53 455.28h0M421.01 505.73h0M436.49 476.99h0M365.2 472.43h0M418.51 518.32h0" stroke="#a83098" stroke-width="2"/>
<path d="M436.64 498.5h0M387.5 485.85h0M393.75 476.64h0M409.15 464.72h0M364.14 518.65h0M377.24 513.49h0M420.44 522.42h0M399.98 518.26h0M371.54 475.51h0M438.31 489.42h0M416.06 478.66h0M369.44 468.13h0M466.31 473.48h0M406.73 482.23h0M366.67 461.52h0M388.84 491.76h0M399.53 466.21h0M405.91 524.02h0M445.2 445.33h0M371.28 454.17h0M453.78 495.39h0M429.56 482.2h0M409.87 514.7h0M458.21 466.34h0M420.8 507.21h0M427.14 451.21h0M390.63 460.36h0" stroke="#9038c0" stroke-width="2"/>
<path d="M392.66 478.99h0M399.03 500.75h0M430.68 492.44h0M438.12 515.54h0M415.86 506.94h0" stroke="#9038c0" stroke-width="2.5"/>
<path d="M409.15 510.27h0M371.61 450.78h0M434.61 526.06h0M462.65 503.63h0M372.96 506.56h0M391.4 464h0M411.18 449.02h0M385.27 499.81h0M407.92 525.25h0M445.36 485.11h0M445.49 450.17h0M435.76 510.91h0M375.42 443.79h0M361.4 506h0M402.36 468.83h0M399.49 452.61h0M394.85 502.9h0M448.92 519.92h0M360.38 477.15h0M427.56 516.2h0M403.18 466.9h0M439.57 481.42h0M400.73 493.87h0M403.68 481.65h0M367.67 466.57h0M429.62 445.98h0M424.83 476.42h0M421.97 460.77h0M360.66 459.7h0M361.57 516.9h0M430.8 510.61h0" stroke="#7830c0" stroke-width="2"/>
<path d="M388.68 521.63h0M372.66 444.93h0M403.73 508.32h0M425.22 502.87h0M381.01 457.48h0M426.34 460.84h0M385.49 498.34h0M442.05 489.11h0M395.49 443.03h0M442.55 506.13h0M363.58 471.18h0M458.97 467.53h0M394.96 476.63h0M445.42 452.47h0M387.2 523.01h0M405.18 474.85h0M427.15 489.12h0M422.22 500.22h0M386.57 517.55h0M457.48 487.59h0M451.18 489.82h0M459.29 490.59h0M432.68 477.76h0M419.57 458.3h0M417.41 469.14h0M400.43 492.44h0M432.1 467.01h0M390.16 494.61h0M431.57 479.31h0M394.28 484h0M390.82 484.48h0" stroke="#d860d0" stroke-width="1.5"/>
<path d="M463.13 485.43h0M426.96 465.84h0M454.8 519.53h0M404.27 510.51h0" stroke="#b040b0" stroke-width="2.5"/>
<path d="M377.62 522.61h0M379.63 476.19h0M414.79 505.55h0M457.55 517.84h0M457.87 452.69h0M420.97 522.15h0M367.05 466.16h0M459.8 505.46h0M395.49 513.71h0M437.29 492.77h0M433.72 484.32h0M434.5 506.14h0M418.87 483.48h0M433 464.23h0M432.67 495.19h0M442.55 449.63h0M444.54 473.23h0M440.94 484.44h0M387.38 479.3h0M458.28 514.29h0M428.12 486.19h0M441.72 496.1h0M405.8 492.88h0" stroke="#b040b0" stroke-width="2"/>
<path d="M464.12 511.76h0M420.85 501.01h0M455.15 509.67h0M367.82 494.88h0M455.92 458.44h0M437.24 463.55h0M446.32 466.93h0M396.91 506.33h0M381.81 498.5h0M449.48 467.51h0M461.16 494.59h0M391.42 521.96h0M422.45 475.06h0M393.45 493.94h0M407.13 514.05h0M441.7 523.64h0M405.93 479.45h0M400.11 526.46h0M429.73 469.44h0M400.32 447.53h0M360.48 488.23h0" stroke="#d860d0" stroke-width="2"/>
<path d="M392.82 506.52h0M447.85 504.55h0M381.6 476.87h0M410.72 512.05h0M391.42 452.75h0M379.66 510.65h0M387.94 476.28h0M411.94 467.61h0M404.58 516.17h0M430.12 482.04h0M389.49 494.76h0M386.07 492.65h0M360.38 498.11h0M394.49 482.24h0M446.12 498.97h0M364.75 515.13h0M376.8 478.16h0M378.13 519.59h0M386.46 449.17h0M404.88 474.5h0M446.27 470.83h0M446.27 446.19h0M419.64 523.95h0" stroke="#9038c0" stroke-width="1.5"/>
<path d="M386.37 486.46h0M439.13 511.62h0M365.46 463.04h0M456.39 471.79h0M437.97 476.26h0M409.75 490.18h0M452.05 526.2h0M371.22 525.43h0M463.22 464.78h0M439.33 466.52h0M457.61 470.5h0M395.18 510.62h0M418.26 506.83h0M411.83 448.23h0M391.67 473.27h0M377.71 453.81h0M386.59 447.41h0M421.19 527.29h0M457.23 454h0M365.22 487.68h0M407.27 490.97h0M380.35 466.68h0M440.09 472.85h0M396.6 479.16h0M386.92 446.14h0M397.59 512.83h0M375.83 519.2h0M456.08 497.62h0" stroke="#a83098" stroke-width="1.5"/>
<path d="M411.69 497.38h0M367.56 477.93h0M433.61 449.59h0M375.14 502.53h0M423.63 506.38h0M411.54 472.72h0M366.46 469.73h0M370.18 523.43h0M442.36 526.34h0M446.23 506.05h0M407.43 524.57h0M397.59 478.9h0M428.92 476.15h0M377.01 470.28h0M398.74 465.29h0M403.31 463.65h0M441.09 465.2h0M418.09 517.22h0M445.04 499.14h0M453.82 497.04h0M390.03 456.14h0M417.67 479.38h0M461.75 483.18h0" stroke="#7830c0" stroke-width="1.5"/>
<path d="M442.13 446.4h0M393.82 462.46h0M417.93 516.98h0M378.88 447.45h0M370.63 443.29h0M451.92 489.51h0M448.38 456.35h0M438.16 510.36h0M407.1 447.13h0M410.55 488.14h0M451.17 495.9h0M380.2 445.69h0M386.05 503.27h0M443.8 511.66h0M364.01 511.4h0M368.6 508.93h0M424.29 523.42h0M427.08 511.11h0M439.8 457.98h0M384.61 476.68h0M429.08 516.81h0M451.48 485.87h0M380.55 452.64h0M378.99 458.46h0M444.88 486.66h0M439.69 499.22h0M382.62 525.13h0" stroke="#b040b0" stroke-width="1.5"/>
<path d="M385.23 489.01h0M364.31 481.34h0" stroke="#a83098" stroke-width="2.5"/>
<path d="M384.09 454.05h0M441.3 452.46h0M446.2 504.51h0M416.12 488.68h0M415.73 509.09h0M444.71 477.95h0M449.2 473.38h0M396.92 522.58h0M360.25 453.08h0M390.23 477.2h0M386.77 503h0M390.36 456.8h0M457.37 447.19h0M452.48 451.47h0M432.71 484.42h0M413.11 452.69h0M418.53 468.7h0M440.68 503.35h0M376.19 459.17h0M432.96 446.45h0M462.98 522.23h0M415.8 502.36h0M395.03 512.39h0M438.74 522.87h0" stroke="#c850c8" stroke-width="1.5"/>
<path d="M411.48 469.45h0M400.78 489.37h0M405.52 498.33h0M370.68 495.77h0M441.26 510.91h0M381.57 500.16h0M449.46 490.6h0M464.49 485.68h0M401.17 508.96h0M432.43 520.88h0M389.1 451.88h0M390.46 457.51h0M433.03 500.01h0M456.35 492.17h0M360.46 524.77h0M391.36 523.85h0M447.94 455.92h0M437.35 451.41h0M448.26 473.29h0M387.32 500.01h0M386.78 453.43h0M464.33 475.8h0M360.07 457.62h0M455 443.11h0" stroke="#c850c8" stroke-width="2"/>
<path d="M376.36 508.19h0M402 473.4h0M407.48 456.12h0" stroke="#c850c8" stroke-width="2.5"/>
<path d="M449.65 451.47h0M444.21 454.79h0M388.55 482.81h0" stroke="#7830c0" stroke-width="2.5"/>
<path d="M386.12 476.34h0M384.39 524.89h0M370.81 502.06h0M410.41 518.21h0M380.2 478.16h0M386.88 481.18h0" stroke="#d860d0" stroke-width="2.5"/>
</g>
<ellipse cx="412.8" cy="508.67" rx="21.44" ry="16.94" fill="url(#dk)" opacity="0.6"/>
</g>
<rect x="25" y="533" width="106.8" height="85.7" fill="#000"/>
<g clip-path="url(#clip21)">
<rect x="25" y="533" width="106.8" height="85.7" filter="url(#nz3)"/>
<g stroke-linecap="round" fill="none" filter="url(#bl)">
<path d="M42.62 592.11h0M87.84 544.94h0M35.13 541.05h0M69.89 607.39h0M126.15 591.27h0M29.49 556.62h0M98.5 594.38h0M64.58 533.26h0M78.12 578.13h0M64.36 574.01h0M62.58 585.59h0M79.89 543.53h0M131.55 549.88h0M105.24 565.13h0M27.27 614.51h0M123.92 539.84h0M81.67 547.05h0M51.28 618.42h0M33.95 615.66h0M119.02 611.12h0M68.52 617.3h0M45.81 582.04h0M102.27 555.74h0M63.7 565.06h0M92.15 578.41h0M110.15 569.25h0M83.93 583.49h0M79.69 616.56h0M129.62 544.08h0M56 594.58h0M38.82 611.41h0M117.81 600.94h0" stroke="#0c1490" stroke-width="2"/>
<path d="M130.7 573.68h0M83.95 562.39h0M75.87 603.88h0M76.74 555.77h0M131.03 575.51h0M59.03 616.99h0M65.11 554.19h0M126.88 535.01h0M122.69 589.08h0M71.66 585.88h0M90.9 588.36h0M49.83 606.04h0M73.78 550.3h0M38.06 543.62h0M107.61 605.86h0M81.44 565.17h0M47.63 617.36h0M118.14 609.58h0M61.85 613.24h0M43.53 582.12h0M30.45 539.76h0M85.15 538.36h0M79.52 580.5h0M110.69 565.84h0M53.16 582.21h0M58.9 548.78h0M113.43 576.85h0M32.66 548.46h0M41.74 590.66h0M80.43 570.33h0M116.87 563.65h0M33.48 547.7h0M58.69 549.98h0M66.92 545.35h0M120.85 601.11h0" stroke="#1420c8" stroke-width="2"/>
<path d="M50.21 533.27h0M131.31 599.05h0M68.75 564.3h0M43.02 612.11h0M30.57 555.11h0M104.66 574.05h0M99.41 559.88h0M73.7 553.26h0M86.95 567.12h0M28.97 575.43h0M36.12 612.78h0M42.25 612.77h0M127.48 602.11h0M78.23 609.4h0M99.93 577.04h0M25.43 540.93h0M103.17 568.34h0M31.69 614.49h0M75.48 577.19h0M99.6 618.4h0M40.6 613.25h0M65.71 588.95h0M80.15 540.61h0M32.45 543.06h0M106.91 606.63h0M50.38 590.8h0M46.74 570.99h0M44.25 608.58h0" stroke="#0c1490" stroke-width="1.5"/>
<path d="M109.77 552.9h0M104.14 540.58h0M128.46 609.61h0M78.92 596.89h0M122.9 566.08h0M87.12 549.18h0M111.55 613.11h0M93.35 533.79h0M34.08 553.79h0M71.12 600.58h0M91.87 585.13h0M124.17 598.99h0M118.15 557.97h0M91.39 547.48h0M109.89 558.4h0M113.54 541.51h0M95.08 602.93h0M115.71 548.17h0M122.2 582.76h0M129.54 569.53h0M109.82 604.44h0M46.04 599.6h0M82.6 569.15h0M126.93 601.99h0" stroke="#1018b0" stroke-width="1.5"/>
<path d="M60.13 575.64h0M114.03 561.48h0M70.51 582.8h0M101.59 609.31h0M130.82 547.26h0M25.81 579.66h0M110.45 561.97h0M35.48 603.99h0M66.67 613.72h0M70.94 565.4h0M51.56 544.13h0M80.81 533.79h0M49.83 593.37h0M46.39 535.72h0M121.92 608.54h0M54.76 600.14h0M105.37 587.23h0M111.71 611.44h0M93.81 537.64h0M115.1 569.29h0M62.04 573.65h0M128.51 596.32h0M62.15 568.89h0M86.7 567.91h0M27.22 589.3h0M94.46 533.17h0M81.78 540.73h0M53.14 569.38h0M102.14 589.48h0" stroke="#1a28e0" stroke-width="1.5"/>
<path d="M75.19 603.29h0M97.98 590.92h0M87.41 555.04h0M59.63 575.32h0M117.32 567.1h0M58.12 592.94h0M52.15 605.45h0M91.4 541.48h0M30.25 549.08h0M32.8 570.35h0M47.82 536.47h0M74.61 575.4h0M110.73 596.12h0M92.9 572.16h0M121.36 597.2h0M76.98 603.33h0M66.7 556.11h0M75.58 580.68h0M76.28 561.15h0M53.33 581.48h0M44.19 579.35h0M92.24 606.46h0M53.16 546.76h0M94.97 610.71h0M115.56 574.22h0M101.42 613.33h0M112.34 534.6h0M95.24 552.17h0M64.1 574.39h0M26.92 554.17h0M28.75 574.37h0M82.57 589.05h0M45.66 588.14h0" stroke="#1420c8" stroke-width="1.5"/>
<path d="M130.64 615.39h0M47.65 604.84h0M32.68 543.2h0M112.01 616.72h0M45.67 614.76h0M131.59 580.55h0M50.62 584.37h0M104.04 596.57h0M116.71 550.64h0M67.04 533.32h0M27.89 611.54h0M66.58 601.66h0M108.6 594.84h0M93 542.54h0M25.59 568.08h0M124.02 545.19h0M107.14 566.63h0M123.67 599.65h0M118.74 602.16h0M55.04 540.98h0M64.58 607.41h0M28.51 600.24h0M109.4 565.03h0M68.92 594.72h0M63.54 570.24h0" stroke="#1a28e0" stroke-width="2"/>
<path d="M71.91 567.92h0M116.58 550.28h0M66.59 567.41h0M46.58 608.04h0M110.69 605.29h0M66.59 586.86h0M124.13 550.04h0M48.6 542.58h0M104.65 603.91h0M105.1 592.69h0M109.28 592.42h0M124.63 603.03h0M28.33 559.53h0M53.88 576.02h0M129.49 555.21h0M83.85 596.67h0M130.7 562.05h0M76.21 560.8h0" stroke="#1018b0" stroke-width="2"/>
<path d="M67.14 607.59h0M110.34 561.02h0M59.3 559.07h0M106.43 536.11h0M60.71 595.36h0" stroke="#1420c8" stroke-width="2.5"/>
<path d="M102.55 617.88h0M33.49 558.93h0M124.71 548.71h0M121.5 597.47h0M41.76 573.88h0" stroke="#0c1490" stroke-width="2.5"/>
<path d="M35.53 584.52h0M101.15 551.67h0M98.95 569.96h0M69.63 609.43h0M42.55 578.45h0" stroke="#1a28e0" stroke-width="2.5"/>
<path d="M121.8 591.23h0M131.18 611.13h0M99.37 568.45h0M81.23 611.76h0M67.39 603.34h0M55.24 571.25h0M88.95 584.24h0M54.09 534.67h0M130.83 579.61h0M52.7 581.39h0M110.27 571.61h0" stroke="#1018b0" stroke-width="2.5"/>
<path d="M131.28 561.95h0M131.06 612.17h0" stroke="#ff50c8" stroke-width="2"/>
<path d="M83.85 561.32h0" stroke="#c040e0" stroke-width="2"/>
<path d="M57.06 614.47h0" stroke="#c040e0" stroke-width="1.5"/>
<path d="M91.16 613.96h0" stroke="#e050d0" stroke-width="1.5"/>
<path d="M45.95 601.52h0" stroke="#e050d0" stroke-width="2"/>
</g>
<ellipse cx="43.16" cy="563" rx="12.82" ry="25.71" fill="url(#dk)" opacity="0.6"/>
<ellipse cx="54.9" cy="597.28" rx="12.82" ry="17.14" fill="url(#dk)" opacity="0.35"/>
</g>
<rect x="136.1" y="533.1" width="107.7" height="85.5" fill="#000"/>
<g clip-path="url(#clip22)">
<g stroke-linecap="round" fill="none" filter="url(#bl)">
<path d="M239.3 545.1h0M190.43 539.02h0M153.39 541.66h0M193.38 601.58h0M205.75 554.36h0M209.93 534.88h0M154.34 585.58h0M241.96 535.79h0M215.1 603.78h0M240.91 611.54h0M225.76 616.04h0M220.91 597h0M202.05 601.25h0M180.8 537.38h0M227.98 556.95h0M153.9 542.04h0M240.69 553.59h0M198.44 609.7h0M196.27 542.77h0M172.02 579.63h0M179.35 583.11h0M192.24 545h0" stroke="#0a0e78" stroke-width="1.5"/>
<path d="M149.09 588.8h0M235.6 593.64h0M239.53 612.77h0M169.1 601.55h0M173.41 597.76h0M202.13 568.45h0M137.86 612.95h0M225.42 616.93h0M215.81 564.75h0M238.09 617.81h0M216.73 586.54h0M180.37 582.76h0M232.74 534.33h0M181.75 582.29h0M213.84 572.36h0M188.58 558.6h0M201.48 608.22h0M213.73 569.46h0M204.5 554.61h0M214.88 569.2h0M200.73 556.63h0M193.4 537.74h0M193.08 615.72h0M223.37 541.71h0M194.51 604.63h0M232.71 612.73h0M233.72 600.56h0M182.07 597.09h0M224.45 556.58h0M198.67 600.45h0M157.4 550.89h0M194.9 611.07h0M204.78 549.63h0M206.31 607.2h0M195.58 606.01h0M228.3 565.14h0M241.12 567.87h0M211.54 596.05h0M207.97 533.32h0M174.56 540.44h0M148.96 603.57h0M165.89 580.45h0M241.23 594.26h0M173.59 546.4h0M240.43 560.76h0M219.87 610.14h0M241.58 564.39h0M239.76 568.99h0M210.84 573.07h0" stroke="#0a1088" stroke-width="2"/>
<path d="M239.44 560.41h0M139.57 612.19h0M169.77 611.13h0M153.5 600.46h0M236.56 561.94h0M223.51 611.58h0M186.07 577.43h0M215.1 616.07h0M167.1 539.67h0M199.68 557.26h0M170.9 573.73h0M165.15 593.64h0M144.67 580.69h0M212.96 595.02h0M232.02 584.23h0M151.25 583.85h0M224.75 615.06h0M217.77 594.99h0M233.54 603.23h0M229.65 538.32h0M220.08 541.57h0M210.56 577.68h0M173.58 617.01h0M242.09 601.24h0M238.42 567.08h0M189.16 540.59h0M175.03 606h0M174.75 603.47h0M218.28 587.69h0M213.32 599.28h0M138.53 537.62h0M193.25 562.35h0M227.57 583.63h0M238.41 591.2h0M213.11 562.16h0M222.18 616.08h0M182.82 588.37h0M216.82 539.47h0M219.89 544.29h0M217.54 573.13h0M140.03 573.03h0M195.15 589.8h0M239.18 588.38h0M156.2 571.29h0M192.47 581.49h0M216.53 558.2h0M138.77 598.29h0M214.14 604.03h0M168.12 609.23h0" stroke="#141cc0" stroke-width="2.5"/>
<path d="M198.87 613.3h0M189.5 575.84h0M207.94 609.64h0M205.53 599.41h0M178.76 605.73h0M228.9 598.42h0M235.97 597.85h0M175.34 610.97h0M159.77 596h0M150 599.88h0M161 606.71h0M239.48 600.11h0M234.24 545.32h0M220.68 562.75h0M231.89 603.97h0M172.4 584.28h0M161.04 604.16h0M198.83 605.55h0M151.36 595.31h0M206.01 606.09h0M146.07 570.77h0M215.11 561.36h0M154.12 569.92h0M233.94 571.32h0M236.56 564.9h0M203.65 552.47h0M194.64 587.76h0M163.11 614.13h0M221.49 610.66h0M170.5 597.37h0M203.42 557.72h0M205.05 604.68h0" stroke="#141cc0" stroke-width="1.5"/>
<path d="M171.26 561.73h0M192.79 593.55h0M219.66 590.17h0M238.67 598.66h0M224.07 560.08h0M165.78 539.07h0M191.61 575.98h0M183.76 605.89h0M242.39 603.59h0M204.34 600.96h0M137.8 593.05h0M205.52 610.5h0M236.12 572.65h0M168.81 614.57h0M194.61 609.68h0M146.52 544.23h0M181.87 533.75h0M204.92 589.54h0M216.8 616.57h0M223.54 579.62h0M232.05 607.03h0M222.57 589.33h0M140.23 545.78h0M197.88 558.77h0M161.06 545.53h0M137.21 580.48h0M239.7 609.42h0M177.86 538.67h0M140.58 583.94h0M149.48 562.05h0M139.3 539.16h0M221.66 598.34h0M171.81 578.38h0M210.96 575.73h0M203.13 614.8h0M190.26 582.37h0M202.12 582.31h0M240.66 595.59h0M156.94 559.6h0M139.57 563h0M145.2 545.55h0M180.42 549.24h0M173.6 580.12h0M164.12 611.23h0M201.47 588.3h0M213.7 600.78h0M235.77 541.7h0M140.17 607.98h0M169.26 606.37h0M148.64 615.96h0M155.36 600.04h0M142.37 583.68h0M236.28 614.71h0M186.1 582.24h0M221.63 589.87h0M227.2 570.79h0" stroke="#0a0e78" stroke-width="2"/>
<path d="M220.23 614.72h0M174.41 570.02h0M227.25 553.05h0M175.09 605.65h0M147.81 602.09h0M183.64 602.24h0M160.7 563.21h0M238.18 600.05h0M186.39 537.44h0M222.64 580.45h0M236.57 606.96h0M171.37 588.61h0M218.34 558.57h0M139.73 573.88h0M180.39 598.44h0M140.28 542.07h0M229.8 546.73h0M136.41 609.79h0M140.09 575.81h0M224.22 565.57h0M164.73 565.95h0M228.76 552.31h0M200.49 616.52h0M140.38 589.88h0M191.76 600.92h0M142.13 576.66h0M158.8 573.75h0M206.61 601.54h0M139.74 571.79h0M141.31 551.67h0M206.56 556.43h0M201.78 540.03h0M186.86 595.32h0M179.82 548.12h0M212.48 592.59h0M192.15 604.26h0M186.57 579.3h0M229.8 613.04h0M240.68 548.55h0M187.02 579.97h0M235.45 565.87h0M170.03 615.88h0M203.01 592.17h0M221.77 594.05h0M217.68 580.18h0M164.6 595.65h0M163.26 593.91h0M157.9 566.03h0M194.95 600.78h0M178.25 603.81h0M238.82 581.63h0M141.4 613.97h0M196.13 610.88h0" stroke="#0c14a0" stroke-width="2"/>
<path d="M165.24 592.26h0M174.04 543.2h0M224.91 611.66h0M160.15 587.39h0M239.49 562.02h0M146.42 547.11h0M146.01 534.94h0M220.99 554.83h0M159.77 565.96h0M187.71 601.75h0M228.09 615.76h0M170.49 608.63h0M237.45 576.48h0M160.87 576.81h0M158.63 603.94h0M195.26 597.22h0M136.26 562.72h0M216.13 597.57h0M161.56 610.58h0M181.17 609.17h0M239.98 542.6h0M232.46 598.63h0M210.73 616.25h0M186.88 615.9h0M230.58 576.95h0M141.12 584.44h0M242.9 548.45h0M140.91 614.45h0M203.51 568.49h0M148.58 546.04h0M199.18 578.18h0M161.61 607.92h0M171.91 576.64h0M188.46 612.33h0M139.89 595.26h0M227.58 554.86h0M159.81 568.26h0M143.88 541.31h0M162.4 581.3h0M141.2 559.39h0M230.57 563.45h0M237.61 603.5h0M161.87 560.05h0M225.01 567.21h0M170.76 545.86h0M207.76 547.7h0M243.39 586.05h0M150.57 566.84h0" stroke="#1018b0" stroke-width="2"/>
<path d="M178.89 612.14h0M205.05 548.1h0M146.72 538.8h0M174.23 602.63h0M229.66 600.02h0M228.17 566.35h0M136.24 594.54h0M190.34 553.02h0M222.42 579.74h0M197.51 601.89h0M191.3 584.25h0M198.1 612.89h0M161.32 537.37h0M220.43 608.43h0M229.14 609.62h0M225.18 535.54h0M206.09 616.07h0M182.74 614.48h0M177.4 581.58h0M150.8 578.88h0M183.99 585.37h0M156.71 558.79h0M158.63 596.71h0M194.27 595.87h0M222.94 592.93h0M155.26 543.25h0M173.73 584.67h0M163.58 579.84h0M190.85 584.11h0M223.56 537.28h0M170.13 539.81h0M232.74 574.41h0M141.09 599.5h0M237.83 542.43h0M230.22 598.43h0M167.68 537.09h0M210.82 546.48h0M220.87 603.25h0M199.15 603.31h0M227.25 547.42h0M235.52 571.2h0M210.68 602.92h0M225.17 605.74h0M157.65 558.72h0M212.97 614.54h0M222.18 541.99h0M223.14 587.58h0M243.72 617.97h0M197.37 581.67h0M204.21 593.86h0M169.66 542.68h0M167.47 554.94h0M220.64 603.37h0M215.84 614.65h0M170.67 595.77h0M217.25 540.4h0M237.01 566.78h0M192.14 603.57h0M166.23 560.28h0" stroke="#141cc0" stroke-width="2"/>
<path d="M154.56 579.84h0M187.05 595.28h0M201.89 553.74h0M215.41 537.03h0M137.46 589.39h0M240.59 611.22h0M228.84 560.95h0M239 542.78h0M189.8 592.72h0M163.71 598.75h0M205.1 578.12h0M225.04 575.1h0M186.25 590.06h0M140.91 616.84h0M229.37 595.61h0M219.16 538.92h0M226.68 573.91h0M232.67 616.3h0M138 602.33h0M136.66 586.29h0M153.98 542.24h0M136.56 600.57h0M206.18 573.57h0M137.62 549.34h0M233.43 547.67h0M202.93 614.11h0M147.46 610.54h0M213 557.57h0M178.41 616.88h0M151.48 561.45h0M213.15 550.94h0M175.8 588.42h0M196.3 601.57h0M199.89 607.68h0M201.69 585.17h0M215.53 558.79h0M234.21 586.73h0M208.03 535.13h0M163.45 567.47h0M205.88 556.92h0M170.15 594.18h0M141.33 579.12h0M230.46 610h0M145.7 573h0M162.04 544.7h0M216.37 575.42h0M143.98 593.58h0M199.15 610.25h0M156.76 617.65h0M179.76 546.17h0M181.28 553.88h0M236.61 549.12h0M231.32 581.68h0M203.6 542.54h0M219.51 611.87h0M226.16 533.83h0M215.94 580.22h0M141.6 564.71h0M192.94 583.03h0M225.42 583.7h0" stroke="#1018b0" stroke-width="2.5"/>
<path d="M203.9 571.03h0M189.95 587.36h0M216.91 594.5h0M191.47 551.7h0M196 571.13h0M184.65 592.72h0M236.32 567.49h0M227.74 569.74h0M228.49 605.1h0M160.99 610.63h0M208.77 613.72h0M173.36 565.22h0M144.15 539.12h0M149.46 554.73h0M156.57 590.23h0M138.76 587.93h0M231.7 575.04h0M159.18 561.31h0M227.66 554.97h0M214.47 591.28h0M232.01 612.97h0M184.92 548.85h0M233.53 548.35h0M185.38 594.38h0M211.11 583.16h0M230.11 557.3h0M204.1 557.6h0M237.19 574.38h0M175.08 537.05h0M157.56 563.35h0M214.6 614.74h0M180.34 592.95h0M166.88 550.13h0M224.9 572.74h0M202.37 539.55h0M212.08 555.24h0M214.04 583.35h0M159.09 593.62h0M186.76 608.54h0M223.18 540.1h0M187.62 594.98h0M239.59 574.06h0M195.67 604.38h0M154.01 604.5h0" stroke="#0c14a0" stroke-width="2.5"/>
<path d="M205.79 550.33h0M148.03 602.16h0M147.1 576.28h0M233.43 612.96h0M154.92 555.68h0M141.69 555.59h0M205.63 590.17h0M213.29 566.27h0M158.14 583.92h0M154.21 592.88h0M196.11 581.94h0M219.17 536.08h0M208.43 572.31h0M205.88 554.49h0M163.38 551.52h0M197.07 588.62h0M202.05 616.34h0M173.62 555.7h0M202.62 537.52h0M232.43 547.45h0M182.43 589.93h0M213.65 583.13h0M238.99 577.24h0M236.96 582.38h0M231.36 594.74h0M154.07 614.17h0M236.03 536.29h0M172.04 551.74h0M227.03 584.6h0M243.29 582.51h0M239.39 608.68h0M185.14 576.33h0M203.58 615.18h0M161.07 541.03h0" stroke="#0a1088" stroke-width="1.5"/>
<path d="M149.24 545.72h0M200.39 592.95h0M198.67 585.98h0M209.24 533.39h0M168.23 535.14h0M218.58 562.59h0M225.97 558.18h0M188.47 577.92h0M169.34 608.41h0M221.68 599.32h0M136.81 537.75h0M214.75 594.78h0M219.24 546.29h0M175.17 589.4h0M243.03 598.28h0M173.12 566.11h0M224.16 608.29h0M225.24 536.25h0M217.68 566.81h0M183.74 597.46h0M210.44 536.88h0M219.91 599.15h0M201.7 535.9h0M136.28 567.71h0M221.66 564.73h0M231.77 595.56h0M209.39 570.77h0M195.3 604.71h0M186.31 599.97h0M170.23 599.62h0M162.84 554.87h0M240.74 605.51h0M214.83 547.37h0M199.68 548.89h0M210.04 560.58h0M154.31 557.32h0M199.04 613.36h0M186.4 613.1h0M214.42 553.73h0M199.76 575.81h0M148.43 566.03h0M240.7 605.28h0M160.59 609.41h0M216.44 549.06h0M205.81 562.27h0M176.81 602.74h0M201.55 544.09h0M163.45 585.74h0M241.81 537.64h0" stroke="#0a1088" stroke-width="2.5"/>
<path d="M189.79 577.9h0M148.31 576.42h0M225.09 579.35h0M197.42 585.6h0M232.81 557.1h0M151.02 617.9h0M146.09 537.03h0M157.23 577.21h0M204.68 559.05h0M148.75 586.81h0M159.2 541.19h0M187.2 540.39h0M152.13 585.82h0M200.81 588.38h0M201.49 590.91h0M149.36 608.79h0M148.1 585.05h0M215.27 582.15h0M227.02 534.12h0M227.17 555.08h0M225.76 549.95h0M239.18 617.87h0M151.2 546.11h0M226.43 592.8h0M220.19 570.54h0M189.8 610.37h0M217.47 569.82h0M226.3 608.48h0M146.07 610.84h0M221.53 570.38h0M158.34 594.73h0M136.6 585.29h0M164.65 604.42h0M171.63 616.24h0M224.94 585.92h0M222.97 545.97h0M185.16 588.05h0M214.93 590.64h0M195.21 600.64h0M227.35 590.15h0M238.72 612.23h0M230.09 533.67h0M159.98 585.89h0M222.03 550.34h0M193.5 602.24h0M219.27 618.17h0M145.46 551.29h0M158.75 583.1h0M192.16 611.8h0M157.58 547.04h0M225.05 611.98h0" stroke="#1822d0" stroke-width="2.5"/>
<path d="M235.73 604.42h0M179.8 607.84h0M203 611.05h0M210.17 613.15h0M143.03 617.94h0M147.58 569.55h0M212.28 585.52h0M225.09 562.89h0M243.1 567.13h0M225.49 614.49h0M204.09 610.58h0M176.72 555.8h0M172.6 549.68h0M186.95 605.3h0M235.83 581.77h0M189.9 555.98h0M205.79 611.94h0M221.64 536.27h0M178.45 592.03h0M139.9 608.03h0M190.93 597.06h0M210.93 535.28h0M174.43 617.85h0M161.48 609.78h0M167.93 554.46h0M160.91 601.17h0M207.59 540.35h0M203.95 552.45h0M183.64 561.76h0M167.54 613.44h0M183.88 560.21h0M153.72 569.49h0M187 555.56h0M159.35 549.75h0M209.9 546.27h0M236.79 562.33h0M240.54 550.74h0M205.49 581.42h0M231.04 615.53h0M138.21 564.42h0M136.36 563.11h0M163.67 554.26h0M141.86 594.64h0M137.9 553.23h0M142.71 581.11h0M227.92 607.98h0M204.98 590.26h0M237.72 537.56h0M182.67 615.36h0M212.81 591.56h0M214.97 553.83h0M162.68 542.41h0M242.63 537.02h0M225.18 551.13h0M169.24 617.58h0M239.51 574.05h0M226.07 547.85h0M235.51 576.27h0M199.97 607.59h0" stroke="#0a0e78" stroke-width="2.5"/>
<path d="M203.37 550.64h0M164 616.13h0M213.06 592.53h0M235.85 576.82h0M221.62 587.07h0M234.3 599.9h0M153.08 553.44h0M218.39 564.98h0M150.11 567.61h0M177.26 534.7h0M138.12 592.76h0M205.54 589.25h0M220.79 553.21h0M229.3 602.37h0M234.16 607.51h0M175.49 608.34h0M209.87 569.72h0M187.59 563.76h0M159.81 565.14h0M147.72 610.15h0M198.5 580.65h0M219.56 544.79h0M204.37 550.44h0M139.67 546.65h0M234.12 558.99h0M142.05 617.2h0M154.47 596.22h0M197.04 609.56h0M233.74 546.71h0M241.14 568.12h0M239.6 552.64h0M237.85 615.94h0M143.15 591.14h0M205.84 570.01h0M149.33 577.03h0M185.27 596.95h0M239.73 557.15h0M208.87 534.04h0M225.75 587.46h0M154.93 601.4h0M164.12 535.17h0M214.69 584.62h0M141.34 579.24h0M238.5 577.92h0M193.92 606.23h0M186.76 538.02h0M212.65 576.47h0M152.31 568.17h0M168.34 583.25h0M163.78 557.62h0M156.11 593.9h0M204.46 610.92h0M171.6 615.79h0M145.2 598.56h0" stroke="#1822d0" stroke-width="2"/>
<path d="M170.44 535.66h0M210 602.18h0M149.39 597.09h0M216.24 587.61h0M187.62 535.25h0M228.98 559.66h0M232.42 608.62h0M209.5 600.41h0M222.93 592.54h0M176.71 592.35h0M238.11 550.46h0M227.44 573.5h0M207.59 572.55h0M191.75 576.48h0M212.06 599.43h0M214.73 579.38h0M157.58 589.19h0M226.88 597.5h0M225.17 546.12h0M149.67 591.84h0M210.76 546.57h0M202.4 534.61h0" stroke="#1018b0" stroke-width="1.5"/>
<path d="M171.9 616.08h0M240.98 536.99h0M221.63 568.38h0M159.13 535.99h0M189.9 545.78h0M177.63 580.58h0M205.44 560.76h0M228.28 562.07h0M147 569.11h0M188.74 589.61h0M209.62 590.69h0M171.87 611.65h0M228.53 615.52h0M203.35 614.1h0M194.41 595.58h0M219.5 617.39h0M216.37 542.55h0M219.39 539.94h0M183.66 598.11h0M203.31 573.36h0M158.61 618.53h0M155.33 608.59h0" stroke="#1822d0" stroke-width="1.5"/>
<path d="M241 545.23h0M139.16 575.21h0M203.35 590.62h0M212.8 537.09h0M185.28 591.21h0M149.96 583.83h0M167.41 587.33h0M200.2 542.94h0M158.92 595.71h0M220.03 578.52h0M209.09 584.25h0M201.7 557.17h0M161.32 570.99h0M173.64 553.71h0M155.3 564.74h0M213.36 542.28h0M179.28 613.57h0M212.73 584.45h0M236.06 556.54h0M215.04 537.35h0M166.73 608.77h0M183.3 606.45h0M136.42 559.93h0M237.83 552.12h0M211.92 556.1h0M224.43 576.19h0M167.14 584.82h0M137.8 544.83h0M211.72 557.28h0M183.28 605.48h0M142.84 587.88h0M137.15 598.02h0M158.56 604.92h0M139.3 616.86h0M174.73 612.31h0M200.62 592.08h0M161.84 615.85h0" stroke="#0c14a0" stroke-width="1.5"/>
<path d="M202.38 568.4h0" stroke="#c040e0" stroke-width="2"/>
<path d="M189.16 606.74h0" stroke="#e050d0" stroke-width="1.5"/>
<path d="M228.01 568.97h0M178.25 614.29h0" stroke="#a040f0" stroke-width="1.5"/>
<path d="M228.21 566.17h0" stroke="#c040e0" stroke-width="1.5"/>
</g>
</g>
<rect x="249" y="534.5" width="106.2" height="84.5" fill="#000"/>
<g clip-path="url(#clip23)">
<rect x="249" y="534.5" width="106.2" height="84.5" filter="url(#nz4)"/>
<g stroke-linecap="round" fill="none" filter="url(#bl)">
<path d="M257.87 584.53h0M326.1 557.09h0M257.74 570.51h0M311.65 543.71h0M306.96 570.42h0M353.93 546.86h0M288.01 576.6h0M280.68 579.27h0M338.95 557.71h0M329.57 602.64h0M254.86 608h0M270.69 547.58h0M312.54 603.08h0M271.25 583.37h0M303.8 578.88h0M264.05 549.81h0M341.34 576.15h0M323.51 587.99h0M259.73 594.67h0M260.46 537.31h0M289.8 603.37h0M340.8 542.87h0M284.36 593.55h0M249.33 575.86h0M311.95 564.88h0M297.32 570.4h0M298.63 548.75h0M351.31 549.46h0M310.12 608.9h0M267.95 586.52h0M260.93 539.59h0M254.45 595.32h0M302.64 597.28h0M354.81 580.57h0M336.22 564.51h0M320.83 541.89h0M260.88 549.76h0M338.16 578.43h0M347.47 547.13h0M332.79 616.98h0M278.99 542.38h0M272.07 577.6h0M317.13 542.06h0M326.87 549.5h0M276.23 616.03h0M257.3 613.1h0M263.71 578.29h0M301.79 607.26h0M253.77 597.95h0M349.31 562.41h0M338.63 538.82h0M261.82 535.78h0M262.83 538.77h0M256.36 583.04h0M290.37 587.98h0M299.16 575.14h0M341.35 535.49h0M322.88 538.17h0M264.12 575.82h0M269.18 584.6h0M337.74 567.23h0M303.69 615.65h0M299.88 590.71h0M309.19 541.48h0M336.24 534.51h0M293.35 616.3h0M278.74 544.65h0M299.16 546.78h0M283.07 599.09h0M316.57 607.73h0M276.65 592.81h0M321.68 552.73h0M298.13 575.75h0M345.95 568.32h0M280.41 603.76h0M251.25 590.61h0M350.26 562.2h0M255.23 548.82h0M313.99 542.1h0M354.83 550.76h0M338.44 593.84h0M351.74 592.69h0M324.89 586.91h0M283.27 555.69h0M264.22 590.96h0M264.22 556.95h0M322.95 596.44h0M256.79 560.42h0M286.18 562.61h0M256.79 581.37h0M306 586.01h0M281.75 578.73h0M300.36 541.12h0M267.81 588.06h0" stroke="#1a26d8" stroke-width="1.5"/>
<path d="M251.63 541.75h0M293.02 548.45h0M270.83 567.2h0M249.76 592.32h0M288.66 584.27h0M297.11 552.38h0M351.52 603.44h0M290.09 588.74h0M274.8 535.04h0M254.65 569.6h0M342.49 568h0M345.56 609.42h0M324.54 610.4h0M277.53 557.51h0M331.11 538.38h0M292.45 565.18h0M271.94 593.96h0M313.94 550.5h0M257.32 569.52h0M258.91 547.96h0M307.34 564.79h0M339.61 556.42h0M272.06 561.04h0M275.23 572.92h0M306.53 589.35h0M291.86 560.02h0" stroke="#0a1090" stroke-width="1"/>
<path d="M270.84 537.48h0M333.06 591.6h0M305.18 548.84h0M254.47 558.57h0M313.03 584.47h0M282.48 591.18h0M327.18 557.43h0M344.54 540.52h0M251.6 550.7h0M290.88 597.94h0M337.1 579.75h0M256.63 596.38h0M291.43 549.6h0M261.21 558.19h0M325.02 546.03h0M265.72 596.53h0M280.47 580.65h0M269.57 567.29h0M255.85 581.77h0M298.12 599.62h0M290.43 590.52h0M285.43 616.15h0M286.54 585.07h0M253.9 572.31h0M268.6 543.51h0M301.12 561.61h0M282.52 571.85h0M327.31 573.72h0M297 605.69h0M254.36 601.13h0M283.39 541.74h0M285.64 539.87h0M345.79 577.18h0M309.43 535.31h0M276.74 540.35h0M253.3 542.15h0M284.81 560.65h0M342.81 545.71h0M309.63 590.12h0M290.42 543.87h0M342.01 580.27h0M266.29 577.11h0M269.27 549.86h0M311.64 580.57h0M350.44 546.29h0M279.03 580.08h0M291.42 590.01h0M353.59 609.13h0M336.24 609.41h0M265.07 591.43h0M349.17 536.5h0M304.38 541.39h0M288.71 546.38h0M300.12 584.17h0M270.07 586.71h0M328.79 542.1h0M289.34 606.35h0M299.62 537.51h0M282.37 590.78h0M256.05 545.65h0M249.72 573.78h0M291.2 569.05h0M295.69 602.96h0M249.9 589.08h0M315.82 539.96h0M317.02 551.78h0M324.58 534.6h0M301.8 558.39h0M260.35 584.56h0M315.09 589.98h0M271.5 614.96h0M292.24 535.4h0M265.32 564.67h0M287.07 548.97h0M259.96 579.78h0M302.04 573.7h0M311.77 538.44h0M350.18 552.99h0M281.38 597.16h0M293.44 555.34h0M276.32 603.73h0M265.3 610.53h0M264.76 558.22h0" stroke="#1018b8" stroke-width="1.5"/>
<path d="M282.39 541.74h0M272.63 584.1h0M253.2 567.88h0M277.07 580.52h0M328.88 551.12h0M251.52 607.03h0M339.2 562.85h0M264.73 596.22h0M317.02 538.2h0M335.08 538.38h0M283.01 578.19h0M302.16 588.27h0M293.73 540.79h0M299.55 573.24h0M281.12 552.62h0M334.47 541.18h0M333.51 539.08h0M330.09 599.74h0M301.54 598.88h0M268.53 585.68h0M281.23 558.7h0M268.54 551.94h0M285.46 598.62h0M321.95 561.03h0M276.58 607.6h0M278.9 595.9h0M296.09 578.18h0M324.06 540.6h0M336.53 544.38h0M351.6 594.31h0M326.31 576.45h0M314.82 541.93h0M263.56 563.16h0M258.07 552.78h0M293.41 566.34h0M257.1 540.06h0M279.31 609.19h0M280.3 602.54h0M333.86 609.48h0M272.51 553.86h0M288.7 547.7h0M251.23 597.16h0M299.17 600.41h0M280.11 577.46h0M256.14 614.86h0M314.31 552.88h0M296.97 576.57h0M256.06 538.07h0M305.24 576.3h0M261.47 587.47h0M352.75 534.82h0M250.62 541.01h0M264.71 578.42h0M288.15 571.01h0M305.49 588.37h0M249.25 535.48h0M250.93 595.3h0M274.61 548.18h0M282.04 546.76h0M308.62 548.8h0M294.15 537.48h0M318.22 589.27h0M272.42 555.59h0M300.19 567.75h0M348.17 564.09h0M342.79 594.56h0M355.12 535.51h0M277.3 566.72h0M300.81 563.66h0M303.64 564.85h0M269.15 586.79h0M329.48 544.48h0M262.94 592.18h0M252.47 581.6h0M339.36 553.71h0M257.44 570.72h0M313.05 548.51h0M347.93 563.52h0M279.01 565.26h0M300.92 558.19h0M290.91 596.4h0M340.36 552.37h0M353.86 546.42h0M294.85 597.56h0M250.56 549.27h0M257.49 568.62h0M324.18 546.46h0M251.08 618.43h0M281.8 615.34h0M250.41 584.85h0" stroke="#1c2ae8" stroke-width="1.5"/>
<path d="M331.58 580.89h0M278.07 613.1h0M261.84 582.33h0M313.99 604.83h0M265.94 580.99h0M288.58 537.15h0M283.06 604.03h0M280 608.08h0M256.63 542.37h0M328.47 554.3h0M307.42 538.26h0M351.02 602.32h0M291.51 593.32h0M302.88 558.04h0M283.17 569.31h0M308.6 540.26h0M268.27 545.64h0M251.18 555.01h0M335.25 586.33h0M354.44 551.65h0M275.99 596.05h0M313.99 535.61h0M331.96 552.61h0M250.17 592.79h0M296.47 556.6h0M285.11 595.54h0M344.44 556.58h0M337.65 605.15h0M264.82 585.9h0M268.85 605.53h0M268.02 569.07h0M280.06 563.82h0M313.8 562.95h0M267.98 566.03h0M303.86 567.53h0M310.76 563.77h0M269.75 565.11h0M270.09 610.14h0M276.25 558.35h0M270.55 560.49h0M287.92 606.78h0M266.4 565.61h0M272.31 581.28h0M355.16 549.97h0M308.52 582.34h0M279.62 545.59h0M276.63 564.44h0M251.3 584.54h0M286.31 539.93h0M270.12 547.22h0M249.83 552.51h0M278.05 560.54h0M324.01 604.07h0M299.11 540.5h0M279.57 542.88h0M333.8 600.19h0M316.85 613.26h0M270.2 563.82h0M262.27 583.37h0M329.94 556.8h0M317.55 567.97h0M268.53 589.11h0M300.77 543.71h0M321.31 565.68h0M332.59 535.07h0M306.52 535.57h0M331.55 578.64h0M288.64 556.54h0M269.58 536.21h0M277.44 568.15h0M334.08 545.32h0M285.03 566.78h0M283.28 537.54h0M254.62 615.34h0M342.62 566.98h0M250.32 608.03h0M291.46 569.29h0M279.01 548.85h0M259.04 544.85h0M302.28 616.27h0M255.9 587.8h0M276.51 570.84h0M253.91 598.59h0M342.33 597.46h0M295.11 537.85h0M354.06 535.13h0M256.96 589.04h0" stroke="#0c14a0" stroke-width="1.5"/>
<path d="M261.68 601.68h0M333.91 618.01h0M316.35 538.11h0M268.15 577.52h0M299.18 548.04h0M316.58 546.28h0M286.72 543.05h0M327.34 536.69h0M341.53 545.27h0M309.02 547.05h0M353.48 599.58h0M334.06 600.94h0M298.92 583.93h0M322.46 598.06h0M249.92 597.2h0M314.96 598.2h0M310.81 574.68h0M258.06 592.2h0M324 576.49h0M351.04 607.86h0M264.11 586.79h0M316.87 550.26h0M301.92 549.08h0M320.94 600.67h0M273.3 575.14h0M331.07 553.75h0M308.79 539.63h0M275.17 557.03h0M308.65 590.18h0M318.41 585.26h0M308.37 566.82h0M283.88 593.14h0M301.58 579.4h0M316.56 611.86h0M307.24 594.76h0M338.39 582.71h0M306.44 552.93h0M270.21 543.48h0M268.9 571.39h0M270.47 553.09h0M274.89 553.96h0M310.31 547.58h0M344.4 574.05h0M257.4 596.95h0M261.44 569.81h0M290.39 568.18h0M267.96 536.53h0M314.29 583.58h0M265.81 542.95h0M275.66 611.91h0M280.83 593.76h0M290.14 574.81h0M253.01 612.99h0M283.15 567.67h0M281.44 590.2h0M264.26 617.16h0M304.96 599.55h0M312.05 568.65h0M333.1 551.32h0M308.23 534.57h0M330.3 574.7h0M252.02 592.97h0M350.64 616.58h0M279.46 576.37h0M280.37 583.11h0M311.55 543.12h0M293.04 598.99h0M254.19 577.36h0M260.16 587.45h0M293.42 566.65h0M272.61 585.63h0M282.56 598.99h0M265.97 539.88h0M253.4 541.06h0M250.46 608.56h0M293.23 607.36h0M288.25 543.44h0M266.8 571.23h0M283.7 559.59h0M250.25 578.56h0M316.35 574.75h0M307.54 559.55h0M252.36 556.99h0M326.39 588.87h0M335 589.74h0M272.92 562.82h0M300.11 577.62h0M348.79 571.7h0" stroke="#141ec8" stroke-width="1.5"/>
<path d="M266.76 616.89h0M289.04 550.84h0M294.69 539.8h0M259.53 555.43h0M266.3 588.62h0M342.25 583.23h0M322.77 571.7h0M252.17 607.78h0M296.81 580.28h0M313.03 549.67h0M319.26 576.86h0M254.22 564.86h0M253.12 550.97h0M322.56 535.28h0M297.01 608.17h0M325.36 582.99h0M295.26 551.72h0M309.42 583.95h0M301.09 558.89h0M297.78 558.98h0M329.4 538.65h0M275.73 549.45h0M263.62 581.15h0M307.81 579.74h0M318.03 534.6h0M312.96 604.01h0M257.26 539.49h0M258.23 534.91h0M340.97 539.57h0M337.26 613.48h0M327.3 536.03h0M249.32 545.31h0M297.21 604.75h0M297.95 608.92h0M254.8 583.56h0M301.98 598.49h0M315.06 594.69h0M260.45 591.12h0M279.84 569.83h0M292.58 538.51h0M259.74 601.88h0M306.59 612.02h0M315.54 569.9h0M331.21 607.48h0M286.58 548.08h0M334.2 552.12h0M304.68 598.27h0M340.62 602.43h0M319.35 547.87h0M308.6 542.7h0M275.7 583.98h0M267.66 552.6h0M272.5 617.72h0M334.84 600.41h0M295.42 570.22h0M346.56 538.38h0M349.85 563.81h0M268.55 548.68h0M258.58 548.04h0M281.14 548.3h0M296.82 604.56h0M352.24 545.54h0M264.7 589.53h0M253.75 550.87h0M263.6 611.04h0M298.35 561.3h0M279.36 576.89h0M264.66 564.46h0M354.86 595.94h0M254.85 579.23h0M347.14 572.56h0M258.29 556.97h0M284.19 618.98h0M285.05 602.54h0M281.95 575.11h0M274.1 608.82h0M269.28 593.7h0M354.97 566.29h0M312.32 548.65h0M272.97 588.18h0M259.16 558.68h0M271.33 610.32h0M263.9 587.71h0M351.75 618.21h0M317.44 601.79h0M291.4 546.59h0" stroke="#0a1090" stroke-width="1.5"/>
<path d="M266.26 553.57h0M276.13 558h0M268.39 536.11h0M335.43 549.85h0M306.55 563.08h0M326.71 540.49h0M304.61 556.53h0M269.57 541.59h0M285.51 566.75h0M352.96 608.78h0M253.48 546.17h0M249.22 602.04h0M294.48 542.56h0M287.44 563.29h0M256.16 562.75h0M288.42 567.56h0M298.29 559.55h0M337.74 598.72h0M304.68 614.4h0M281.99 604.65h0M260.19 538.54h0M315.96 537.03h0M345.55 590.8h0M343.74 583.29h0M256.28 610.89h0M254.78 594.05h0M257.38 561.94h0M340.17 548.68h0M303.93 598.17h0M307.68 546.45h0M328.88 545.58h0M287.25 571.87h0M339.91 548.27h0M272.1 536.2h0M346.77 563.62h0M293.26 563.44h0M255.56 560.4h0M280.68 564.25h0M351.16 575.39h0M348.89 583.77h0M308.92 570.08h0M299.32 534.74h0M335.73 546.35h0M281.55 597.91h0M294.73 610.84h0M299.99 546.42h0M252.52 586.92h0M264.34 614.22h0M308.92 610.19h0M249.43 538.54h0" stroke="#1018b8" stroke-width="2"/>
<path d="M329.18 573.28h0M288.85 561.11h0M272.8 539.62h0M316.48 594.58h0M324.53 579.25h0M249.69 554.46h0M255.05 570.11h0M267.63 617.8h0M253.05 547.6h0M279.92 568.32h0M258.1 616.71h0M313.59 587.11h0M334.48 575.18h0M277.86 598.75h0M283.41 569.97h0M353.55 606.04h0M259.34 568.4h0M319.2 564.06h0M253.36 579.27h0M345.57 565.22h0M295.76 582.63h0M271.11 610.88h0M259.95 598.63h0M344.63 581.08h0M291.39 599.62h0M318.94 600.11h0M328.51 538.7h0" stroke="#0c14a0" stroke-width="1"/>
<path d="M293.79 610.62h0M313.26 559.14h0M266 552.61h0M353.33 545.42h0M271.36 568.88h0M276.04 596.78h0M313.4 579.42h0M249.89 576.46h0M286.99 551.83h0M262.53 550.05h0M274.69 585.9h0M255.44 597.49h0M276.89 575.88h0M280.55 538.25h0M266.09 577.11h0M278.21 580.39h0M284.32 547.05h0M336.49 594.73h0M250.47 597.24h0M348.02 582.07h0M288.51 576.39h0M263.97 557.09h0M271.37 582.98h0M258.19 578.15h0M295.87 605.16h0M303.5 574.96h0M255.19 589.52h0M273.76 594.28h0M254.26 579.6h0M312.46 610.17h0M257.16 604.73h0M270.56 557.65h0M306.45 571.64h0M329.2 581.8h0M300.34 551.2h0M277.87 604.24h0M277.06 581.96h0M312.2 541.62h0M325.3 589.13h0M354.44 571.29h0M269.88 550.31h0M305.29 545.17h0M334.05 603.61h0M295.12 555.08h0M298.35 603.81h0M269.26 539.04h0M274.51 542.3h0M316.41 593.06h0M254.6 588.03h0M256.23 579.81h0M249.91 591.74h0M336.63 592.1h0M354.15 588.08h0M298.27 553.22h0M306.27 556.49h0M284.64 599.17h0" stroke="#141ec8" stroke-width="2"/>
<path d="M308.4 605.09h0M257.63 601.71h0M288.31 553.2h0M306.69 546.4h0M344.39 547.96h0M257.51 569.41h0M261.39 562.63h0M254.88 558.79h0M302.55 609.34h0M335.87 548.15h0M268.55 540.92h0M305.78 558.28h0M250.37 543.53h0M292.99 554.37h0M328.33 565.86h0M301.05 555.29h0M259.79 617.29h0M259 551.49h0M298.01 576.76h0M317.73 586.93h0M352.33 567.24h0M308.47 590.49h0M331.1 590.39h0M263.03 537h0" stroke="#1c2ae8" stroke-width="1"/>
<path d="M308.69 580.28h0M350.39 569.99h0M282.15 593.97h0M263.85 583.79h0M273 563.34h0M284 608.32h0M324.42 611.3h0M327.04 534.78h0M319.02 583.94h0M265.51 580.38h0M264.98 561.24h0M276.76 536.14h0M257.05 615.03h0M261.14 588.33h0M269.84 558.07h0M294.37 541.79h0M348.93 588.52h0M267.48 562.01h0M319.07 601.39h0M317.89 608.99h0M345.78 599.75h0M311.1 548.63h0M259.26 561.34h0M348.54 597.6h0M284.78 553.82h0M317.56 558.65h0M300.35 543.04h0M299.14 606.08h0M282.47 547.02h0M279.01 601.3h0M287.23 598.92h0M336.74 540.27h0M354.29 566.47h0M334.66 598.89h0M272.25 611.71h0M333.89 564.79h0M262.31 590.94h0M257.38 576.83h0M297.15 606.19h0M276.97 580.63h0M293.15 543.79h0M341.6 608.23h0M288.99 560.96h0M284.2 540.41h0M292.24 557.97h0M253.33 569.99h0M271.05 535.97h0M261.84 561.63h0M311.66 581.74h0M289.34 541.91h0M287.79 548.79h0M295.41 539.29h0M324.56 544.41h0M324.82 539.32h0M270.39 567.91h0M261.33 547.32h0M353.12 557.57h0M341.08 578.43h0M252.91 535.69h0M322.18 607.11h0" stroke="#1a26d8" stroke-width="2"/>
<path d="M270.62 592.06h0M290.01 538.35h0M284.87 542.31h0M299.94 595.01h0M260.1 584.41h0M258.27 565.98h0M294.02 592.21h0M325.75 541.75h0M324.1 589.2h0M256.36 567.72h0M257.82 600.96h0M297.59 602.29h0M300.35 608.29h0M272.79 560.77h0M288.83 615.02h0M353.66 598.61h0M282.71 544.38h0M266.13 573.06h0M269.99 559.6h0M297.34 548.25h0M301.78 579.69h0M265.07 539.94h0M306.59 540.85h0M345.67 536.14h0M339.04 544.38h0M297.11 566.22h0M285.56 613.59h0M339.1 542.51h0M275.08 618.75h0M294.41 551.29h0M296.65 542.85h0M302.48 542.97h0M257.6 585.78h0M326.52 536.82h0M335.35 581.01h0M273.42 543.33h0M295.4 548.03h0M334.87 573.29h0M261 581.06h0M270.57 575.56h0M343.95 554.41h0M264.34 544.24h0M310.61 547.51h0M338.61 549.78h0M311.41 560.68h0M260.07 591.35h0M302.67 559.18h0M283.79 553.17h0M330.08 537.33h0M325.14 541.06h0M252.48 555.96h0M249.33 553.68h0M294.34 616.88h0M297.75 543.43h0M346.55 586.16h0" stroke="#0a1090" stroke-width="2"/>
<path d="M280.63 610.44h0M280.28 610.27h0M277.98 548.75h0M352.97 601.98h0M291.74 563.15h0M267.77 550.76h0M333.48 581.63h0M335.26 569.62h0M301.21 599.03h0M331.44 553.07h0M309.48 540.56h0M282.17 559.88h0M311.63 549.9h0M276.77 585.65h0M295.13 602.09h0M250.9 584.83h0M292.2 589.32h0M287.48 555.68h0M323.18 549.71h0M300.63 537.22h0M318.89 610.96h0M303.24 578.58h0M259.07 613.5h0M261.32 547.31h0M333.44 569.9h0M271.77 557.65h0M346.11 566.57h0M252.6 550.87h0M324.5 544.29h0M253.96 601.35h0M321.06 587.28h0M271.64 573.53h0M258.94 598.64h0M284.06 555.18h0M318.77 549.62h0M270.2 538.81h0M294.17 610.78h0M332.74 617.77h0M268.39 570.21h0M323.47 540.91h0M331.11 596.41h0M314.84 572.16h0M288.28 606.35h0M353.04 594.91h0M348.8 555.61h0M251.47 557.51h0M326.49 548.29h0M294.06 588.66h0M334.74 594.66h0M282.29 545.11h0M255.72 573h0M331.42 540.37h0M320.15 541.54h0M339.6 569.41h0M316.05 558.57h0M337.98 616.3h0" stroke="#0c14a0" stroke-width="2"/>
<path d="M309.51 610.65h0M343.52 564.01h0M260.09 579.45h0M300.74 541.91h0M280.15 598.23h0M266.67 550.53h0M286.44 558.56h0M249.29 605.47h0M310.14 581.63h0M304.75 562.27h0M339.08 535.6h0M281.65 594.96h0M256.7 576.42h0M266.31 541.11h0M284.28 580.37h0M283.95 585.92h0M291.08 597.05h0M264.97 577.23h0M343.34 608.64h0M257.26 539.42h0M354.81 574.96h0M273.57 575.76h0M255.82 564.44h0M324.28 580.26h0M297.28 546.44h0M253.86 580.9h0M272.82 589.33h0M319.63 618.39h0M324.48 547.68h0M293.03 615.95h0M336.31 541.18h0M351.98 540.68h0M348.92 579.57h0M269.91 577.81h0M331.29 553.36h0M258.54 603.24h0M265.61 615.56h0M295.7 566.05h0M332.83 583.03h0M276.49 610.63h0M269.16 558.56h0M286.78 539.4h0M307.31 555.38h0M328.29 597.23h0M314.65 612.98h0M324.7 591h0M274.51 543.65h0M306.88 610.47h0M339.27 580.2h0M346.77 560.17h0M329.49 544.58h0M338.24 536.59h0M329.15 537.91h0M342.05 544.72h0M314.55 569.77h0M336.71 575.79h0" stroke="#1c2ae8" stroke-width="2"/>
<path d="M281.97 555.68h0M346.47 567h0M321.06 604.6h0M266.41 567.21h0M292.58 572.05h0M291.24 571.37h0M282.08 568.49h0M279 537.02h0M266.88 600.63h0M332.44 599.48h0M311.15 573.26h0M286.87 597.67h0M272.06 608.1h0M352.77 585.46h0M333.24 552.62h0" stroke="#1a26d8" stroke-width="1"/>
<path d="M352.35 542.63h0M339.09 618.28h0M264.97 570.11h0M311.97 548.12h0M337.99 554.94h0M283.75 611.66h0M258.16 594.47h0M272.84 556.31h0M306.88 541.19h0M272.15 574.21h0M295.82 549.5h0M266.67 567.62h0M319.04 543.09h0M263.68 564.89h0M316.62 596.82h0M271.27 566.92h0M341 581.71h0M260.2 540.55h0M285.72 550.22h0M280.32 581.14h0M300.27 587.98h0" stroke="#1018b8" stroke-width="1"/>
<path d="M258.56 582.45h0M252.83 598.06h0M282.89 592.9h0M275.24 573.51h0M334.57 593.95h0M306.87 564h0M292.11 611.74h0M255.64 601.06h0M342.01 577.04h0M257.66 558.17h0M270.66 538.41h0M273.97 578.85h0M262.9 581.5h0M311.03 550.52h0M280.97 539.3h0M258.96 594.04h0M343.53 601.48h0M351.13 579.82h0M271.75 565.33h0M340.51 536.53h0M264.57 587.57h0M275.03 555.92h0M292.67 612.7h0M271.05 597.53h0M252.74 542.61h0M292 542.94h0" stroke="#141ec8" stroke-width="1"/>
<path d="M314.58 592.25h0M273.48 590.21h0M291.73 563.22h0M265.63 584.39h0M327.2 540.36h0M263.02 537.75h0M294.42 574.14h0M300.75 568.25h0M257.26 588.21h0M251.09 556.53h0M272.47 612.32h0M352.32 600.33h0M253.45 600.44h0M306.96 563.35h0M317.46 555.95h0" stroke="#a02870" stroke-width="1.5"/>
<path d="M250.61 582.73h0M336.48 554.62h0M302.2 556.18h0M277.82 561.41h0M328.01 596.13h0M324.86 561.33h0M271.32 571.95h0M284.11 603.05h0M256.15 600.72h0M289.73 544.12h0M326.58 562.28h0M352.75 594.71h0M266.68 584.08h0" stroke="#8838c0" stroke-width="1.5"/>
<path d="M353.8 549.9h0M297.74 604.26h0M295.61 567.93h0M276.6 576.46h0M327.76 551.33h0M253.57 550.65h0M337.16 588.49h0M291.08 550.8h0" stroke="#8838c0" stroke-width="2"/>
<path d="M323.11 549.91h0M309.37 544.33h0M268.35 565.25h0M298.29 608.33h0M304.06 539.6h0" stroke="#b03890" stroke-width="1.5"/>
<path d="M354 605.87h0M320.19 541.15h0" stroke="#9830a0" stroke-width="1"/>
<path d="M308.25 595.99h0M278.72 575.49h0M336.42 595.89h0M267.63 540.53h0M295.78 590.43h0M302.48 608.43h0" stroke="#9830a0" stroke-width="1.5"/>
<path d="M318.19 559.17h0M284.83 571.3h0M269.35 546.62h0M297.76 547.87h0M276.79 546.86h0M329.29 580.5h0M293.24 572.22h0M338.68 542.33h0M251.06 577.57h0M283.15 577.12h0M346.31 581.13h0M325.52 586.13h0M350.12 536.75h0M323.85 578.13h0" stroke="#a02870" stroke-width="2"/>
<path d="M332.8 550.24h0M280.78 544.37h0M266.3 585.71h0M317.64 551.48h0M320.2 545.15h0M324.21 593.79h0M306.15 557.66h0M316.77 576.15h0M333.95 540.3h0M266.31 553.29h0M292.85 542.23h0M265.63 558.82h0M328.91 597.78h0" stroke="#d058b8" stroke-width="1.5"/>
<path d="M268.53 601.35h0" stroke="#8838c0" stroke-width="1"/>
<path d="M272.37 615.35h0M314.17 565.54h0M281.42 558.85h0M276.43 586.88h0M341.19 584.88h0M314.07 549.82h0M263.39 542.43h0M282 540.97h0M285.23 558.28h0M256.53 589.57h0M309.74 541.76h0M318.39 547.6h0" stroke="#b03890" stroke-width="2"/>
<path d="M317.28 579.23h0M276.27 554.61h0M263.44 538.06h0M317.26 555.87h0M269.33 537.68h0M268.33 545.54h0" stroke="#9830a0" stroke-width="2"/>
<path d="M341.07 576.38h0M309.21 614.15h0M285.96 579.24h0M255.39 565.58h0M268.17 549.14h0M340.78 541.02h0M304.8 560.49h0" stroke="#c848a8" stroke-width="2"/>
<path d="M285.03 616.73h0M261.46 585.79h0M332.51 582.32h0M291.63 582.3h0M328.61 584.42h0M271.02 580.6h0M337.83 610.4h0M301.53 545.67h0M289.25 563.26h0M347.59 550.72h0M349.4 574.08h0" stroke="#d058b8" stroke-width="2"/>
<path d="M267.53 576.48h0M252.95 548.58h0M324.7 558.49h0M276.7 539.69h0M302.66 595.21h0M342.33 569.3h0M320.6 601.67h0M310.72 613.62h0M284.83 547.58h0M313.36 603.15h0M336.42 539.37h0M250.43 546.39h0" stroke="#c848a8" stroke-width="1.5"/>
<path d="M298.6 578.95h0M273.01 563.83h0" stroke="#a02870" stroke-width="1"/>
<path d="M310.53 591.59h0" stroke="#b03890" stroke-width="1"/>
<path d="M288.2 584.08h0M332.45 573.61h0" stroke="#c848a8" stroke-width="1"/>
</g>
<ellipse cx="321.22" cy="585.2" rx="33.98" ry="35.49" fill="url(#dk)" opacity="0.8"/>
</g>
<rect x="358.2" y="533.1" width="108.2" height="85.4" fill="#000"/>
<g clip-path="url(#clip24)">
<g stroke-linecap="round" fill="none" filter="url(#bl)">
<path d="M435.28 604.82h0M428.42 589.53h0M372.41 576.27h0M375.17 577.47h0M464.15 559.36h0M378.6 602.37h0M449.21 617.61h0M374.03 612.3h0M461.77 582.61h0M386.19 594.33h0" stroke="#1018b8" stroke-width="1.5"/>
<path d="M430.79 540.94h0M410.29 600.81h0M447.5 542.74h0M439.09 585.06h0M451.56 612.7h0M448.22 582.91h0M441.11 615.21h0M460.52 594.02h0M374.1 560.74h0M463.07 584.75h0M383.88 544.34h0M441.3 581.36h0M413.71 570.74h0M434.34 604.27h0M386.36 595.7h0" stroke="#1018b8" stroke-width="2"/>
<path d="M388.86 611.85h0M465.09 542.97h0M438.57 612.07h0M440.46 560.31h0M428.97 571.83h0M383.15 597.29h0M420.48 547.75h0M372.01 546.8h0M386.13 539.37h0M460.83 605.1h0M383.22 596.67h0M393.77 555.83h0M388.55 599.52h0M401.59 571.57h0M432.1 578.97h0" stroke="#0a1090" stroke-width="2"/>
<path d="M406.26 559.11h0M440.66 584.9h0M416.33 552.77h0M438.05 617.3h0M360.64 550.31h0M361.03 584.49h0M362.4 604.85h0M380.35 609.27h0M401.56 612.56h0" stroke="#0c14a0" stroke-width="2"/>
<path d="M385.67 585.31h0M374.75 605.49h0M414.93 605.72h0M422.81 577.73h0M403.37 577.65h0M465.62 587.03h0M401.85 533.18h0M465.9 563.1h0M373.92 587.37h0M440.62 611.83h0M408.98 611.31h0" stroke="#141ec8" stroke-width="1.5"/>
<path d="M455.02 539.04h0M360.06 555.5h0M409.65 562.21h0M382.7 553.1h0M417.9 613.35h0M361.5 599.04h0M414.46 551.34h0M428.57 562.42h0M408.81 564.19h0M425.02 595.95h0M440.05 545.17h0M396.38 561.74h0M422.52 576.23h0M454.11 545.48h0" stroke="#1c2ae8" stroke-width="2"/>
<path d="M428.84 560.79h0M448.18 554.49h0M389.99 561.81h0M369.43 548.71h0M408.15 549.14h0M393.69 554.75h0M427.92 590.77h0M451.41 558.19h0M379.5 609.72h0M367.94 560.68h0M380.82 555.26h0" stroke="#1a26d8" stroke-width="2"/>
<path d="M384.45 586.98h0M426.02 568.19h0M460.67 544.25h0M454.83 552.81h0M362.32 584.43h0" stroke="#1c2ae8" stroke-width="1.5"/>
<path d="M383.13 550.74h0M429.57 596.23h0M450.11 587.86h0M406.75 581.3h0M420.88 565.64h0M444.24 543h0M436.54 601.08h0M454.89 597.86h0M388.03 548.29h0M426.21 569.42h0M419.72 564.83h0M450.54 559.98h0" stroke="#0c14a0" stroke-width="1.5"/>
<path d="M395.14 608.76h0M406.98 559.79h0M423.78 566.98h0" stroke="#0c14a0" stroke-width="1"/>
<path d="M465.24 593.86h0M389.96 551.79h0M453.05 544.93h0M427.91 543.75h0M405.18 576.11h0M446.94 561.27h0M405.66 564.14h0M453.67 538.84h0" stroke="#1a26d8" stroke-width="1.5"/>
<path d="M401.5 566.66h0M415.5 609.9h0M366.31 563.67h0M457.19 554.21h0M399.76 612.14h0M374.26 565.05h0M393.71 614.08h0" stroke="#0a1090" stroke-width="1.5"/>
<path d="M418.44 592.94h0M374.8 544.34h0M421.09 609.32h0M439.29 541.21h0M377.84 557.6h0M420.71 583.72h0M364.01 561.41h0" stroke="#141ec8" stroke-width="2"/>
<path d="M463.82 603.5h0" stroke="#0a1090" stroke-width="1"/>
<path d="M449.48 569.38h0M370.35 594.73h0" stroke="#1a26d8" stroke-width="1"/>
<path d="M417.4 554.62h0M367.64 537.22h0M466.2 558.17h0M392.21 583.79h0M408.29 553.04h0M408.53 581.67h0M438.18 597.67h0M375.42 608.96h0M383.17 554.47h0M415.86 576.5h0M448.18 597.46h0M411.63 567.92h0M380.89 601.4h0M463.43 542.25h0" stroke="#c050c0" stroke-width="2"/>
<path d="M463.95 563.87h0M361.08 604.21h0M459.25 580.94h0M367.04 577.02h0M367.34 615.89h0M433.05 540.87h0M448.94 593.76h0M371.8 615.46h0M441.38 557.55h0M373.15 612.28h0M449.82 540.95h0M437.22 554.31h0M465.95 535.12h0M402.19 560.94h0M435.1 596.6h0" stroke="#b048b8" stroke-width="1.5"/>
<path d="M383.46 543.54h0M406.71 599.32h0M429.3 549.01h0M386.22 586.62h0M366.73 603.43h0M372.96 535.48h0M429.38 605.12h0M441.64 614.3h0M453.82 605.55h0M462.67 576.5h0M432.85 615.88h0M361.28 610.9h0M463.69 562.75h0M442.09 602.41h0M358.71 546.71h0M423.88 604.25h0M449.49 600.89h0M409.52 582.21h0M417.69 616.83h0M374.39 538.48h0M417.73 616.21h0M420.45 563.31h0M363.62 536.61h0M360.1 581.26h0M389.94 547.49h0" stroke="#7830b0" stroke-width="1.5"/>
<path d="M374.35 611.29h0M411.86 604.84h0M365.92 547.79h0M395.16 538.35h0" stroke="#7830b0" stroke-width="2.5"/>
<path d="M415.4 534.07h0M423.08 596.14h0M411.31 609.56h0M386.28 569.48h0M407.09 605.98h0M448.3 565.6h0M389.81 580.18h0M414.24 543.76h0M441.67 568h0M360.23 571.39h0M432.5 555.35h0M404.56 550.77h0M401.51 549.87h0M424.74 552.86h0M405.25 534.89h0M367.69 582.4h0M416.06 569.89h0M372.05 611.91h0" stroke="#c050c0" stroke-width="1.5"/>
<path d="M440.88 569.55h0M434.23 605.09h0M451.88 537.31h0M457.11 562.72h0M438.7 566.61h0M377.05 546.03h0M436.78 604.67h0M364.75 550.57h0M454.67 581.46h0M361.3 539.58h0M380.48 613.79h0M460.39 596.77h0M385.79 567.94h0M388.19 601.02h0M359.69 533.64h0M463.41 591.25h0M394.2 599.71h0M374.53 599.82h0M408.9 543.91h0" stroke="#6028b0" stroke-width="2"/>
<path d="M458.79 591.51h0M444.01 558.74h0M432.82 580.54h0M390.62 592.39h0M462.3 591.76h0M373.02 600.3h0M378.04 582.21h0M437.84 602.99h0M364.69 543.77h0M433.35 581.69h0M404.16 562.97h0M447.05 614.2h0M359.5 585.15h0M397.03 600.62h0M435.63 617.43h0M383.74 537.31h0M404.95 567.26h0M376.18 602.69h0" stroke="#7830b0" stroke-width="2"/>
<path d="M400.01 617.96h0M376.41 534.65h0M465.06 598.12h0M441.61 558.16h0M395.4 571.78h0M452.87 602.67h0M401.57 578.16h0M447.83 565.44h0M393.39 565.42h0M359.83 609.3h0M459.07 548.25h0M360.39 616.98h0M459.7 585.2h0M416.81 552.92h0M451.05 593.72h0M407.07 575.57h0M419.94 578.54h0M415.32 602.43h0M427.76 598.6h0M405.11 541.46h0M452.15 586.83h0M454.66 613.68h0M431.83 617.72h0M416.37 575.41h0" stroke="#9028a0" stroke-width="2"/>
<path d="M360.07 556.03h0M394.73 595.79h0M424.62 597.92h0M451.01 565.65h0M416.22 537.78h0M412.48 611.39h0M365.03 613.55h0M445.6 617.19h0M382.56 584.12h0M376.74 615.36h0M402.84 535.64h0M396.71 581.81h0M464.28 558.42h0M373.38 550.17h0" stroke="#6028b0" stroke-width="1.5"/>
<path d="M373.73 598.93h0M463.09 601.52h0M366.01 556.65h0M394.03 615.67h0M381.81 579.2h0M433.37 608.87h0M377.21 587.05h0M389.53 536.57h0M359.44 561.52h0M367.5 602.89h0M372.91 563h0M444.47 604.13h0M367.79 570.88h0M416.44 575.26h0M394.97 546.72h0M371.79 615.25h0M415.17 564.17h0M452.67 584.01h0M421.34 601.04h0M410.3 592.61h0M464.2 539.49h0" stroke="#9838a8" stroke-width="1.5"/>
<path d="M400.69 546.35h0M386.06 589.61h0M460.19 546.12h0M413.81 563.91h0M426.57 586.49h0M414.47 589.24h0M417.14 565.38h0M458.99 563.85h0M367.37 586.49h0" stroke="#b048b8" stroke-width="2"/>
<path d="M395.15 607.73h0M400.73 543.23h0M420.13 596.69h0M460.09 607.46h0M403.74 587.97h0M465.54 603.47h0M423.5 608.14h0M408.5 560.59h0M391.7 596.26h0M383.15 572.64h0M448.46 592.05h0M419.69 579.11h0M378.83 538.11h0M397.97 580.59h0M381.33 587.9h0" stroke="#9838a8" stroke-width="2"/>
<path d="M464.91 587.83h0M443.15 603.35h0M376.53 616.99h0M389.78 564.49h0M412.7 582.01h0M379.33 612.44h0M410.74 575.28h0M433.71 583.2h0M380.22 613.6h0M401.8 575.32h0M401.95 587.66h0M367.15 595.91h0M359.84 567.33h0M369.79 541.84h0M415.62 583h0M414.07 610.77h0" stroke="#9028a0" stroke-width="1.5"/>
<path d="M389.85 565.29h0M417.32 570.47h0" stroke="#9838a8" stroke-width="2.5"/>
<path d="M384.66 552h0M424.94 574.18h0M373.7 582.91h0M367.78 575.95h0M414.93 579.89h0M404.61 556.28h0" stroke="#b048b8" stroke-width="2.5"/>
<path d="M382.85 537.14h0M402.39 544.29h0" stroke="#c050c0" stroke-width="2.5"/>
<path d="M452.79 604.01h0M416.26 615.04h0M385.42 544.84h0M438.91 569.43h0M447.41 601.76h0" stroke="#9028a0" stroke-width="2.5"/>
<path d="M460.64 554.96h0M397.4 604.89h0M366.68 604.93h0" stroke="#6028b0" stroke-width="2.5"/>
</g>
</g>
<rect x="38.3" y="443.2" width="57.7" height="3" fill="#fff"/>
<text transform="translate(26.3 445.8) scale(1 1.1)" font-size="2.6" fill="#fff">500 &#181;m</text>
<rect x="149.6" y="443.2" width="58.4" height="3" fill="#fff"/>
<text transform="translate(137.6 445.8) scale(1 1.1)" font-size="2.6" fill="#fff">500 &#181;m</text>
<rect x="262.4" y="444" width="57.4" height="3" fill="#fff"/>
<text transform="translate(250.4 446.6) scale(1 1.1)" font-size="2.6" fill="#fff">500 &#181;m</text>
<rect x="372.3" y="445.8" width="57.7" height="3" fill="#fff"/>
<text transform="translate(360.3 448.4) scale(1 1.1)" font-size="2.6" fill="#fff">500 &#181;m</text>
<text transform="translate(76.6 436) scale(1 1.1)" font-size="9" fill="#222" text-anchor="middle" textLength="64.3" lengthAdjust="spacingAndGlyphs">vehicle (DMSO)</text>
<text transform="translate(189.8 436) scale(1 1.1)" font-size="9" fill="#222" text-anchor="middle" textLength="74.4" lengthAdjust="spacingAndGlyphs">0.1 &#181;M talazoparib</text>
<text transform="translate(301.3 436) scale(1 1.1)" font-size="9" fill="#222" text-anchor="middle" textLength="73" lengthAdjust="spacingAndGlyphs">RT3D [MOI of 0.1]</text>
<text transform="translate(414.7 436.8) scale(1 1.1)" font-size="9" fill="#222" text-anchor="middle" textLength="77.7" lengthAdjust="spacingAndGlyphs">RT3D + talazoparib</text>
<text transform="translate(21 484) rotate(-90) scale(1 1.1)" font-size="8.6" fill="#222" text-anchor="middle">A375</text>
<text transform="translate(21 579.3) rotate(-90) scale(1 1.1)" font-size="8.6" fill="#222" text-anchor="middle">MeWo</text>
<text transform="translate(470.7 410.9) scale(1 1.07)" font-size="13.3" fill="#222">E.</text>
<rect x="566.1" y="497.52" width="5.2" height="9.88" fill="#8c3cf0" stroke="#111" stroke-width="0.9"/>
<rect x="574.35" y="473.2" width="5.2" height="34.2" fill="#ffff00" stroke="#111" stroke-width="0.9"/>
<rect x="582.6" y="450.4" width="5.2" height="57" fill="#0a3cf5" stroke="#111" stroke-width="0.9"/>
<rect x="590.85" y="442.8" width="5.2" height="64.6" fill="#ff2a00" stroke="#111" stroke-width="0.9"/>
<circle cx="568.7" cy="497.52" r="2.5" fill="#000"/>
<circle cx="568.7" cy="494.48" r="2.5" fill="#000"/>
<circle cx="568.7" cy="502.08" r="2.5" fill="#000"/>
<line x1="568.7" y1="494.48" x2="568.7" y2="502.08" stroke="#111" stroke-width="0.8"/>
<rect x="574.45" y="470.7" width="5" height="5" fill="#000"/>
<rect x="574.45" y="460.82" width="5" height="5" fill="#000"/>
<rect x="574.45" y="475.26" width="5" height="5" fill="#000"/>
<line x1="576.95" y1="463.32" x2="576.95" y2="477.76" stroke="#111" stroke-width="0.8"/>
<path d="M585.2 447.52L587.95 452.4L582.45 452.4Z" fill="#000"/>
<path d="M585.2 445.25L587.95 450.12L582.45 450.12Z" fill="#000"/>
<path d="M593.45 445.67L596.2 440.8L590.7 440.8Z" fill="#000"/>
<path d="M593.45 441.88L596.2 437L590.7 437Z" fill="#000"/>
<path d="M593.45 448.71L596.2 443.84L590.7 443.84Z" fill="#000"/>
<line x1="593.45" y1="439" x2="593.45" y2="445.84" stroke="#111" stroke-width="0.8"/>
<rect x="604.5" y="492.2" width="5.2" height="15.2" fill="#8c3cf0" stroke="#111" stroke-width="0.9"/>
<rect x="612.75" y="448.88" width="5.2" height="58.52" fill="#ffff00" stroke="#111" stroke-width="0.9"/>
<rect x="621" y="440.52" width="5.2" height="66.88" fill="#0a3cf5" stroke="#111" stroke-width="0.9"/>
<rect x="629.25" y="437.48" width="5.2" height="69.92" fill="#ff2a00" stroke="#111" stroke-width="0.9"/>
<circle cx="607.1" cy="492.2" r="2.5" fill="#000"/>
<circle cx="607.1" cy="485.36" r="2.5" fill="#000"/>
<circle cx="607.1" cy="495.24" r="2.5" fill="#000"/>
<line x1="607.1" y1="485.36" x2="607.1" y2="495.24" stroke="#111" stroke-width="0.8"/>
<rect x="612.85" y="446.38" width="5" height="5" fill="#000"/>
<rect x="612.85" y="444.1" width="5" height="5" fill="#000"/>
<path d="M623.6 437.64L626.35 442.52L620.85 442.52Z" fill="#000"/>
<path d="M623.6 436.12L626.35 441L620.85 441Z" fill="#000"/>
<path d="M631.85 440.35L634.6 435.48L629.1 435.48Z" fill="#000"/>
<path d="M631.85 439.59L634.6 434.72L629.1 434.72Z" fill="#000"/>
<circle cx="530" cy="507.1" r="2.6" fill="#000"/>
<rect x="535.6" y="504.5" width="5.2" height="5.2" fill="#000"/>
<path d="M546.4 504.11L549.26 509.18L543.54 509.18Z" fill="#000"/>
<path d="M555 510.09L557.86 505.02L552.14 505.02Z" fill="#000"/>
<line x1="523.1" y1="430.9" x2="523.1" y2="507.9" stroke="#222" stroke-width="1.2"/>
<line x1="522.5" y1="507.4" x2="638.8" y2="507.4" stroke="#222" stroke-width="1.2"/>
<line x1="520.5" y1="507.4" x2="523.1" y2="507.4" stroke="#222" stroke-width="1"/>
<text transform="translate(517.5 510.5) scale(1 1.1)" font-size="8.6" fill="#222" text-anchor="end">0</text>
<line x1="520.5" y1="492.2" x2="523.1" y2="492.2" stroke="#222" stroke-width="1"/>
<text transform="translate(517.5 495.3) scale(1 1.1)" font-size="8.6" fill="#222" text-anchor="end">20</text>
<line x1="520.5" y1="477" x2="523.1" y2="477" stroke="#222" stroke-width="1"/>
<text transform="translate(517.5 480.1) scale(1 1.1)" font-size="8.6" fill="#222" text-anchor="end">40</text>
<line x1="520.5" y1="461.8" x2="523.1" y2="461.8" stroke="#222" stroke-width="1"/>
<text transform="translate(517.5 464.9) scale(1 1.1)" font-size="8.6" fill="#222" text-anchor="end">60</text>
<line x1="520.5" y1="446.6" x2="523.1" y2="446.6" stroke="#222" stroke-width="1"/>
<text transform="translate(517.5 449.7) scale(1 1.1)" font-size="8.6" fill="#222" text-anchor="end">80</text>
<line x1="520.5" y1="431.4" x2="523.1" y2="431.4" stroke="#222" stroke-width="1"/>
<text transform="translate(517.5 434.5) scale(1 1.1)" font-size="8.6" fill="#222" text-anchor="end">100</text>
<line x1="542.8" y1="507.4" x2="542.8" y2="509.6" stroke="#222" stroke-width="1"/>
<text transform="translate(542.8 521.2) scale(1 1.1)" font-size="8.6" fill="#222" text-anchor="middle">0</text>
<line x1="581.2" y1="507.4" x2="581.2" y2="509.6" stroke="#222" stroke-width="1"/>
<text transform="translate(581.2 521.2) scale(1 1.1)" font-size="8.6" fill="#222" text-anchor="middle">0.01</text>
<line x1="618.8" y1="507.4" x2="618.8" y2="509.6" stroke="#222" stroke-width="1"/>
<text transform="translate(618.8 521.2) scale(1 1.1)" font-size="8.6" fill="#222" text-anchor="middle">0.1</text>
<text transform="translate(629 521.2) scale(1 1.1)" font-size="8" fill="#222">[MOI of RT3D]</text>
<line x1="530" y1="421.2" x2="606" y2="421.2" stroke="#222" stroke-width="1"/>
<text transform="translate(568 422) scale(1 1.1)" font-size="7.4" fill="#111" text-anchor="middle">**</text>
<line x1="605.5" y1="424.4" x2="629.8" y2="424.4" stroke="#222" stroke-width="1"/>
<text transform="translate(617.65 425.2) scale(1 1.1)" font-size="7.4" fill="#111" text-anchor="middle">***</text>
<line x1="569" y1="432.7" x2="592.8" y2="432.7" stroke="#222" stroke-width="1"/>
<text transform="translate(580.9 433.5) scale(1 1.1)" font-size="7.4" fill="#111" text-anchor="middle">***</text>
<line x1="605.5" y1="432.7" x2="622.5" y2="432.7" stroke="#222" stroke-width="1"/>
<text transform="translate(614 433.5) scale(1 1.1)" font-size="7.4" fill="#111" text-anchor="middle">***</text>
<line x1="569" y1="442.4" x2="586" y2="442.4" stroke="#222" stroke-width="1"/>
<text transform="translate(577.5 443.2) scale(1 1.1)" font-size="7.4" fill="#111" text-anchor="middle">***</text>
<line x1="605.5" y1="442.4" x2="614" y2="442.4" stroke="#222" stroke-width="1"/>
<text transform="translate(609.75 443.2) scale(1 1.1)" font-size="7.4" fill="#111" text-anchor="middle">***</text>
<line x1="569" y1="458.5" x2="577.2" y2="458.5" stroke="#222" stroke-width="1"/>
<text transform="translate(573.1 459.3) scale(1 1.1)" font-size="7.4" fill="#111" text-anchor="middle">***</text>
<line x1="529.2" y1="489.9" x2="566.9" y2="489.9" stroke="#222" stroke-width="1"/>
<text transform="translate(548.05 490.7) scale(1 1.1)" font-size="7.4" fill="#111" text-anchor="middle">*</text>
<text transform="translate(524.5 414) scale(1 1.1)" font-size="8.6" fill="#222">A375</text>
<rect x="567.3" y="635.26" width="5.2" height="6.94" fill="#8c3cf0" stroke="#111" stroke-width="0.9"/>
<rect x="575.55" y="615.22" width="5.2" height="26.98" fill="#ffff00" stroke="#111" stroke-width="0.9"/>
<rect x="583.8" y="590.54" width="5.2" height="51.66" fill="#0a3cf5" stroke="#111" stroke-width="0.9"/>
<rect x="592.05" y="583.6" width="5.2" height="58.6" fill="#ff2a00" stroke="#111" stroke-width="0.9"/>
<circle cx="569.9" cy="635.26" r="2.5" fill="#000"/>
<circle cx="569.9" cy="632.95" r="2.5" fill="#000"/>
<circle cx="569.9" cy="637.57" r="2.5" fill="#000"/>
<rect x="575.65" y="612.72" width="5" height="5" fill="#000"/>
<rect x="575.65" y="607.32" width="5" height="5" fill="#000"/>
<rect x="575.65" y="615.8" width="5" height="5" fill="#000"/>
<line x1="578.15" y1="609.82" x2="578.15" y2="618.3" stroke="#111" stroke-width="0.8"/>
<path d="M586.4 587.67L589.15 592.54L583.65 592.54Z" fill="#000"/>
<path d="M586.4 583.81L589.15 588.69L583.65 588.69Z" fill="#000"/>
<path d="M586.4 589.98L589.15 594.86L583.65 594.86Z" fill="#000"/>
<line x1="586.4" y1="586.69" x2="586.4" y2="592.86" stroke="#111" stroke-width="0.8"/>
<path d="M594.65 586.48L597.4 581.6L591.9 581.6Z" fill="#000"/>
<path d="M594.65 582.62L597.4 577.75L591.9 577.75Z" fill="#000"/>
<path d="M594.65 588.79L597.4 583.92L591.9 583.92Z" fill="#000"/>
<line x1="594.65" y1="579.75" x2="594.65" y2="585.92" stroke="#111" stroke-width="0.8"/>
<rect x="606" y="626.78" width="5.2" height="15.42" fill="#8c3cf0" stroke="#111" stroke-width="0.9"/>
<rect x="614.25" y="588.23" width="5.2" height="53.97" fill="#ffff00" stroke="#111" stroke-width="0.9"/>
<rect x="622.5" y="582.06" width="5.2" height="60.14" fill="#0a3cf5" stroke="#111" stroke-width="0.9"/>
<rect x="630.75" y="577.44" width="5.2" height="64.76" fill="#ff2a00" stroke="#111" stroke-width="0.9"/>
<circle cx="608.6" cy="626.78" r="2.5" fill="#000"/>
<circle cx="608.6" cy="622.93" r="2.5" fill="#000"/>
<circle cx="608.6" cy="629.09" r="2.5" fill="#000"/>
<line x1="608.6" y1="622.93" x2="608.6" y2="629.09" stroke="#111" stroke-width="0.8"/>
<rect x="614.35" y="585.73" width="5" height="5" fill="#000"/>
<rect x="614.35" y="584.19" width="5" height="5" fill="#000"/>
<rect x="614.35" y="588.81" width="5" height="5" fill="#000"/>
<path d="M625.1 579.19L627.85 584.06L622.35 584.06Z" fill="#000"/>
<path d="M625.1 578.42L627.85 583.29L622.35 583.29Z" fill="#000"/>
<path d="M633.35 580.31L636.1 575.44L630.6 575.44Z" fill="#000"/>
<path d="M633.35 578L636.1 573.12L630.6 573.12Z" fill="#000"/>
<path d="M633.35 581.08L636.1 576.21L630.6 576.21Z" fill="#000"/>
<circle cx="530.8" cy="641.9" r="2.6" fill="#000"/>
<rect x="536.5" y="639.3" width="5.2" height="5.2" fill="#000"/>
<path d="M547.4 638.91L550.26 643.98L544.54 643.98Z" fill="#000"/>
<path d="M555.9 644.89L558.76 639.82L553.04 639.82Z" fill="#000"/>
<line x1="523.4" y1="564.6" x2="523.4" y2="642.7" stroke="#222" stroke-width="1.2"/>
<line x1="522.8" y1="642.2" x2="640" y2="642.2" stroke="#222" stroke-width="1.2"/>
<line x1="520.8" y1="642.2" x2="523.4" y2="642.2" stroke="#222" stroke-width="1"/>
<text transform="translate(517.8 645.3) scale(1 1.1)" font-size="8.6" fill="#222" text-anchor="end">0</text>
<line x1="520.8" y1="626.78" x2="523.4" y2="626.78" stroke="#222" stroke-width="1"/>
<text transform="translate(517.8 629.88) scale(1 1.1)" font-size="8.6" fill="#222" text-anchor="end">20</text>
<line x1="520.8" y1="611.36" x2="523.4" y2="611.36" stroke="#222" stroke-width="1"/>
<text transform="translate(517.8 614.46) scale(1 1.1)" font-size="8.6" fill="#222" text-anchor="end">40</text>
<line x1="520.8" y1="595.94" x2="523.4" y2="595.94" stroke="#222" stroke-width="1"/>
<text transform="translate(517.8 599.04) scale(1 1.1)" font-size="8.6" fill="#222" text-anchor="end">60</text>
<line x1="520.8" y1="580.52" x2="523.4" y2="580.52" stroke="#222" stroke-width="1"/>
<text transform="translate(517.8 583.62) scale(1 1.1)" font-size="8.6" fill="#222" text-anchor="end">80</text>
<line x1="520.8" y1="565.1" x2="523.4" y2="565.1" stroke="#222" stroke-width="1"/>
<text transform="translate(517.8 568.2) scale(1 1.1)" font-size="8.6" fill="#222" text-anchor="end">100</text>
<line x1="542.8" y1="642.2" x2="542.8" y2="644.4" stroke="#222" stroke-width="1"/>
<text transform="translate(542.8 656) scale(1 1.1)" font-size="8.6" fill="#222" text-anchor="middle">0</text>
<line x1="581.2" y1="642.2" x2="581.2" y2="644.4" stroke="#222" stroke-width="1"/>
<text transform="translate(581.2 656) scale(1 1.1)" font-size="8.6" fill="#222" text-anchor="middle">0.01</text>
<line x1="618.8" y1="642.2" x2="618.8" y2="644.4" stroke="#222" stroke-width="1"/>
<text transform="translate(618.8 656) scale(1 1.1)" font-size="8.6" fill="#222" text-anchor="middle">0.1</text>
<text transform="translate(629 656) scale(1 1.1)" font-size="8" fill="#222">[MOI of RT3D]</text>
<line x1="530.8" y1="559.3" x2="607.9" y2="559.3" stroke="#222" stroke-width="1"/>
<text transform="translate(569.35 560.1) scale(1 1.1)" font-size="7.4" fill="#111" text-anchor="middle">**</text>
<line x1="607" y1="564.1" x2="631.5" y2="564.1" stroke="#222" stroke-width="1"/>
<text transform="translate(619.25 564.9) scale(1 1.1)" font-size="7.4" fill="#111" text-anchor="middle">***</text>
<line x1="570" y1="569.5" x2="594.6" y2="569.5" stroke="#222" stroke-width="1"/>
<text transform="translate(582.3 570.3) scale(1 1.1)" font-size="7.4" fill="#111" text-anchor="middle">***</text>
<line x1="607" y1="572.5" x2="624.2" y2="572.5" stroke="#222" stroke-width="1"/>
<text transform="translate(615.6 573.3) scale(1 1.1)" font-size="7.4" fill="#111" text-anchor="middle">***</text>
<line x1="570" y1="579.4" x2="587" y2="579.4" stroke="#222" stroke-width="1"/>
<text transform="translate(578.5 580.2) scale(1 1.1)" font-size="7.4" fill="#111" text-anchor="middle">***</text>
<line x1="607" y1="581.9" x2="615.5" y2="581.9" stroke="#222" stroke-width="1"/>
<text transform="translate(611.25 582.7) scale(1 1.1)" font-size="7.4" fill="#111" text-anchor="middle">***</text>
<line x1="570" y1="603.5" x2="578.7" y2="603.5" stroke="#222" stroke-width="1"/>
<text transform="translate(574.35 604.3) scale(1 1.1)" font-size="7.4" fill="#111" text-anchor="middle">***</text>
<line x1="531.8" y1="624.5" x2="569.8" y2="624.5" stroke="#222" stroke-width="1"/>
<text transform="translate(550.8 625.3) scale(1 1.1)" font-size="7.4" fill="#111" text-anchor="middle">*</text>
<text transform="translate(524.5 547.6) scale(1 1.1)" font-size="8.6" fill="#222">MeWo</text>
<text transform="translate(486.6 471.1) rotate(-90) scale(1 1.1)" font-size="8.3" fill="#222" text-anchor="middle" textLength="64.3" lengthAdjust="spacingAndGlyphs">% PI positive cells</text>
<text transform="translate(496.6 471.1) rotate(-90) scale(1 1.1)" font-size="8.3" fill="#222" text-anchor="middle" textLength="43" lengthAdjust="spacingAndGlyphs">(Dead cells)</text>
<text transform="translate(486.6 605) rotate(-90) scale(1 1.1)" font-size="8.3" fill="#222" text-anchor="middle" textLength="64.2" lengthAdjust="spacingAndGlyphs">% PI positive cells</text>
<text transform="translate(496.6 605) rotate(-90) scale(1 1.1)" font-size="8.3" fill="#222" text-anchor="middle" textLength="43.9" lengthAdjust="spacingAndGlyphs">(Dead cells)</text>
<circle cx="497" cy="675" r="2.5" fill="#000"/>
<text transform="translate(514.4 678) scale(1 1.1)" font-size="8.2" fill="#222">vehicle (DMSO)</text>
<rect x="494.6" y="686.6" width="4.8" height="4.8" fill="#000"/>
<text transform="translate(514.4 692) scale(1 1.1)" font-size="8.2" fill="#222">0.01 &#181;M talazoparib</text>
<path d="M600.3 670.74L602.94 675.42L597.66 675.42Z" fill="#000"/>
<text transform="translate(618.3 676.5) scale(1 1.1)" font-size="8.2" fill="#222">0.1 &#181;M talazoparib</text>
<path d="M600.3 690.26L602.94 685.58L597.66 685.58Z" fill="#000"/>
<text transform="translate(618.3 690.5) scale(1 1.1)" font-size="8.2" fill="#222">1 &#181;M talazoparib</text>
<text transform="translate(13.1 676) scale(1 1.07)" font-size="13.3" fill="#222">F.</text>
<line x1="63.8" y1="782.25" x2="63.8" y2="784.41" stroke="#111" stroke-width="0.9"/>
<line x1="61.8" y1="782.25" x2="65.8" y2="782.25" stroke="#111" stroke-width="0.9"/>
<line x1="61.8" y1="784.41" x2="65.8" y2="784.41" stroke="#111" stroke-width="0.9"/>
<line x1="69.22" y1="779.55" x2="69.22" y2="781.71" stroke="#111" stroke-width="0.9"/>
<line x1="67.22" y1="779.55" x2="71.22" y2="779.55" stroke="#111" stroke-width="0.9"/>
<line x1="67.22" y1="781.71" x2="71.22" y2="781.71" stroke="#111" stroke-width="0.9"/>
<line x1="74.64" y1="777.12" x2="74.64" y2="779.28" stroke="#111" stroke-width="0.9"/>
<line x1="72.64" y1="777.12" x2="76.64" y2="777.12" stroke="#111" stroke-width="0.9"/>
<line x1="72.64" y1="779.28" x2="76.64" y2="779.28" stroke="#111" stroke-width="0.9"/>
<line x1="80.06" y1="774.96" x2="80.06" y2="777.12" stroke="#111" stroke-width="0.9"/>
<line x1="78.06" y1="774.96" x2="82.06" y2="774.96" stroke="#111" stroke-width="0.9"/>
<line x1="78.06" y1="777.12" x2="82.06" y2="777.12" stroke="#111" stroke-width="0.9"/>
<line x1="85.48" y1="773.07" x2="85.48" y2="775.77" stroke="#111" stroke-width="0.9"/>
<line x1="83.48" y1="773.07" x2="87.48" y2="773.07" stroke="#111" stroke-width="0.9"/>
<line x1="83.48" y1="775.77" x2="87.48" y2="775.77" stroke="#111" stroke-width="0.9"/>
<line x1="90.9" y1="768.21" x2="90.9" y2="774.15" stroke="#111" stroke-width="0.9"/>
<line x1="88.9" y1="768.21" x2="92.9" y2="768.21" stroke="#111" stroke-width="0.9"/>
<line x1="88.9" y1="774.15" x2="92.9" y2="774.15" stroke="#111" stroke-width="0.9"/>
<line x1="96.32" y1="766.73" x2="96.32" y2="772.67" stroke="#111" stroke-width="0.9"/>
<line x1="94.32" y1="766.73" x2="98.32" y2="766.73" stroke="#111" stroke-width="0.9"/>
<line x1="94.32" y1="772.67" x2="98.32" y2="772.67" stroke="#111" stroke-width="0.9"/>
<line x1="101.74" y1="766.73" x2="101.74" y2="772.67" stroke="#111" stroke-width="0.9"/>
<line x1="99.74" y1="766.73" x2="103.74" y2="766.73" stroke="#111" stroke-width="0.9"/>
<line x1="99.74" y1="772.67" x2="103.74" y2="772.67" stroke="#111" stroke-width="0.9"/>
<line x1="107.16" y1="765.78" x2="107.16" y2="771.72" stroke="#111" stroke-width="0.9"/>
<line x1="105.16" y1="765.78" x2="109.16" y2="765.78" stroke="#111" stroke-width="0.9"/>
<line x1="105.16" y1="771.72" x2="109.16" y2="771.72" stroke="#111" stroke-width="0.9"/>
<line x1="112.58" y1="760.25" x2="112.58" y2="768.35" stroke="#111" stroke-width="0.9"/>
<line x1="110.58" y1="760.25" x2="114.58" y2="760.25" stroke="#111" stroke-width="0.9"/>
<line x1="110.58" y1="768.35" x2="114.58" y2="768.35" stroke="#111" stroke-width="0.9"/>
<line x1="118" y1="752.15" x2="118" y2="764.3" stroke="#111" stroke-width="0.9"/>
<line x1="116" y1="752.15" x2="120" y2="752.15" stroke="#111" stroke-width="0.9"/>
<line x1="116" y1="764.3" x2="120" y2="764.3" stroke="#111" stroke-width="0.9"/>
<line x1="123.42" y1="740.67" x2="123.42" y2="759.57" stroke="#111" stroke-width="0.9"/>
<line x1="121.42" y1="740.67" x2="125.42" y2="740.67" stroke="#111" stroke-width="0.9"/>
<line x1="121.42" y1="759.57" x2="125.42" y2="759.57" stroke="#111" stroke-width="0.9"/>
<line x1="128.84" y1="727.85" x2="128.84" y2="752.15" stroke="#111" stroke-width="0.9"/>
<line x1="126.84" y1="727.85" x2="130.84" y2="727.85" stroke="#111" stroke-width="0.9"/>
<line x1="126.84" y1="752.15" x2="130.84" y2="752.15" stroke="#111" stroke-width="0.9"/>
<line x1="136.97" y1="706.79" x2="136.97" y2="736.49" stroke="#111" stroke-width="0.9"/>
<line x1="134.97" y1="706.79" x2="138.97" y2="706.79" stroke="#111" stroke-width="0.9"/>
<line x1="134.97" y1="736.49" x2="138.97" y2="736.49" stroke="#111" stroke-width="0.9"/>
<path d="M63.8 783.33 L69.22 780.63 L74.64 778.2 L80.06 776.04 L85.48 774.42 L90.9 771.18 L96.32 769.7 L101.74 769.7 L107.16 768.75 L112.58 764.3 L118 758.22 L123.42 750.12 L128.84 740 L136.97 721.63" stroke="#f7a21f" stroke-width="1" fill="none"/>
<rect x="61.8" y="781.33" width="4" height="4" fill="#f7a21f"/>
<rect x="67.22" y="778.63" width="4" height="4" fill="#f7a21f"/>
<rect x="72.64" y="776.2" width="4" height="4" fill="#f7a21f"/>
<rect x="78.06" y="774.04" width="4" height="4" fill="#f7a21f"/>
<rect x="83.48" y="772.42" width="4" height="4" fill="#f7a21f"/>
<rect x="88.9" y="769.18" width="4" height="4" fill="#f7a21f"/>
<rect x="94.32" y="767.7" width="4" height="4" fill="#f7a21f"/>
<rect x="99.74" y="767.7" width="4" height="4" fill="#f7a21f"/>
<rect x="105.16" y="766.75" width="4" height="4" fill="#f7a21f"/>
<rect x="110.58" y="762.3" width="4" height="4" fill="#f7a21f"/>
<rect x="116" y="756.22" width="4" height="4" fill="#f7a21f"/>
<rect x="121.42" y="748.12" width="4" height="4" fill="#f7a21f"/>
<rect x="126.84" y="738" width="4" height="4" fill="#f7a21f"/>
<rect x="134.97" y="719.63" width="4" height="4" fill="#f7a21f"/>
<line x1="63.8" y1="783.47" x2="63.8" y2="785.62" stroke="#1846e6" stroke-width="0.9"/>
<line x1="61.8" y1="783.47" x2="65.8" y2="783.47" stroke="#1846e6" stroke-width="0.9"/>
<line x1="61.8" y1="785.62" x2="65.8" y2="785.62" stroke="#1846e6" stroke-width="0.9"/>
<line x1="69.22" y1="781.17" x2="69.22" y2="783.33" stroke="#1846e6" stroke-width="0.9"/>
<line x1="67.22" y1="781.17" x2="71.22" y2="781.17" stroke="#1846e6" stroke-width="0.9"/>
<line x1="67.22" y1="783.33" x2="71.22" y2="783.33" stroke="#1846e6" stroke-width="0.9"/>
<line x1="74.64" y1="778.07" x2="74.64" y2="780.23" stroke="#1846e6" stroke-width="0.9"/>
<line x1="72.64" y1="778.07" x2="76.64" y2="778.07" stroke="#1846e6" stroke-width="0.9"/>
<line x1="72.64" y1="780.23" x2="76.64" y2="780.23" stroke="#1846e6" stroke-width="0.9"/>
<line x1="80.06" y1="776.04" x2="80.06" y2="778.2" stroke="#1846e6" stroke-width="0.9"/>
<line x1="78.06" y1="776.04" x2="82.06" y2="776.04" stroke="#1846e6" stroke-width="0.9"/>
<line x1="78.06" y1="778.2" x2="82.06" y2="778.2" stroke="#1846e6" stroke-width="0.9"/>
<line x1="85.48" y1="774.42" x2="85.48" y2="777.12" stroke="#1846e6" stroke-width="0.9"/>
<line x1="83.48" y1="774.42" x2="87.48" y2="774.42" stroke="#1846e6" stroke-width="0.9"/>
<line x1="83.48" y1="777.12" x2="87.48" y2="777.12" stroke="#1846e6" stroke-width="0.9"/>
<line x1="90.9" y1="772.8" x2="90.9" y2="776.85" stroke="#1846e6" stroke-width="0.9"/>
<line x1="88.9" y1="772.8" x2="92.9" y2="772.8" stroke="#1846e6" stroke-width="0.9"/>
<line x1="88.9" y1="776.85" x2="92.9" y2="776.85" stroke="#1846e6" stroke-width="0.9"/>
<line x1="96.32" y1="771.45" x2="96.32" y2="775.5" stroke="#1846e6" stroke-width="0.9"/>
<line x1="94.32" y1="771.45" x2="98.32" y2="771.45" stroke="#1846e6" stroke-width="0.9"/>
<line x1="94.32" y1="775.5" x2="98.32" y2="775.5" stroke="#1846e6" stroke-width="0.9"/>
<line x1="101.74" y1="771.72" x2="101.74" y2="775.77" stroke="#1846e6" stroke-width="0.9"/>
<line x1="99.74" y1="771.72" x2="103.74" y2="771.72" stroke="#1846e6" stroke-width="0.9"/>
<line x1="99.74" y1="775.77" x2="103.74" y2="775.77" stroke="#1846e6" stroke-width="0.9"/>
<line x1="107.16" y1="771.32" x2="107.16" y2="776.18" stroke="#1846e6" stroke-width="0.9"/>
<line x1="105.16" y1="771.32" x2="109.16" y2="771.32" stroke="#1846e6" stroke-width="0.9"/>
<line x1="105.16" y1="776.18" x2="109.16" y2="776.18" stroke="#1846e6" stroke-width="0.9"/>
<line x1="112.58" y1="766.32" x2="112.58" y2="774.42" stroke="#1846e6" stroke-width="0.9"/>
<line x1="110.58" y1="766.32" x2="114.58" y2="766.32" stroke="#1846e6" stroke-width="0.9"/>
<line x1="110.58" y1="774.42" x2="114.58" y2="774.42" stroke="#1846e6" stroke-width="0.9"/>
<line x1="118" y1="756.06" x2="118" y2="766.86" stroke="#1846e6" stroke-width="0.9"/>
<line x1="116" y1="756.06" x2="120" y2="756.06" stroke="#1846e6" stroke-width="0.9"/>
<line x1="116" y1="766.86" x2="120" y2="766.86" stroke="#1846e6" stroke-width="0.9"/>
<line x1="123.42" y1="745.8" x2="123.42" y2="760.65" stroke="#1846e6" stroke-width="0.9"/>
<line x1="121.42" y1="745.8" x2="125.42" y2="745.8" stroke="#1846e6" stroke-width="0.9"/>
<line x1="121.42" y1="760.65" x2="125.42" y2="760.65" stroke="#1846e6" stroke-width="0.9"/>
<line x1="128.84" y1="736.35" x2="128.84" y2="751.2" stroke="#1846e6" stroke-width="0.9"/>
<line x1="126.84" y1="736.35" x2="130.84" y2="736.35" stroke="#1846e6" stroke-width="0.9"/>
<line x1="126.84" y1="751.2" x2="130.84" y2="751.2" stroke="#1846e6" stroke-width="0.9"/>
<line x1="136.97" y1="723.39" x2="136.97" y2="747.69" stroke="#1846e6" stroke-width="0.9"/>
<line x1="134.97" y1="723.39" x2="138.97" y2="723.39" stroke="#1846e6" stroke-width="0.9"/>
<line x1="134.97" y1="747.69" x2="138.97" y2="747.69" stroke="#1846e6" stroke-width="0.9"/>
<path d="M63.8 784.55 L69.22 782.25 L74.64 779.15 L80.06 777.12 L85.48 775.77 L90.9 774.83 L96.32 773.48 L101.74 773.75 L107.16 773.75 L112.58 770.37 L118 761.46 L123.42 753.23 L128.84 743.78 L136.97 735.54" stroke="#1846e6" stroke-width="1" fill="none"/>
<path d="M63.8 782.25L66 786.15L61.6 786.15Z" fill="#1846e6"/>
<path d="M69.22 779.95L71.42 783.85L67.02 783.85Z" fill="#1846e6"/>
<path d="M74.64 776.85L76.84 780.75L72.44 780.75Z" fill="#1846e6"/>
<path d="M80.06 774.82L82.26 778.72L77.86 778.72Z" fill="#1846e6"/>
<path d="M85.48 773.47L87.68 777.37L83.28 777.37Z" fill="#1846e6"/>
<path d="M90.9 772.53L93.1 776.43L88.7 776.43Z" fill="#1846e6"/>
<path d="M96.32 771.18L98.52 775.08L94.12 775.08Z" fill="#1846e6"/>
<path d="M101.74 771.45L103.94 775.35L99.54 775.35Z" fill="#1846e6"/>
<path d="M107.16 771.45L109.36 775.35L104.96 775.35Z" fill="#1846e6"/>
<path d="M112.58 768.07L114.78 771.97L110.38 771.97Z" fill="#1846e6"/>
<path d="M118 759.16L120.2 763.06L115.8 763.06Z" fill="#1846e6"/>
<path d="M123.42 750.93L125.62 754.83L121.22 754.83Z" fill="#1846e6"/>
<path d="M128.84 741.48L131.04 745.38L126.64 745.38Z" fill="#1846e6"/>
<path d="M136.97 733.24L139.17 737.14L134.77 737.14Z" fill="#1846e6"/>
<line x1="63.8" y1="782.52" x2="63.8" y2="784.68" stroke="#9a3ff2" stroke-width="0.9"/>
<line x1="61.8" y1="782.52" x2="65.8" y2="782.52" stroke="#9a3ff2" stroke-width="0.9"/>
<line x1="61.8" y1="784.68" x2="65.8" y2="784.68" stroke="#9a3ff2" stroke-width="0.9"/>
<line x1="69.22" y1="779.82" x2="69.22" y2="781.98" stroke="#9a3ff2" stroke-width="0.9"/>
<line x1="67.22" y1="779.82" x2="71.22" y2="779.82" stroke="#9a3ff2" stroke-width="0.9"/>
<line x1="67.22" y1="781.98" x2="71.22" y2="781.98" stroke="#9a3ff2" stroke-width="0.9"/>
<line x1="74.64" y1="777.66" x2="74.64" y2="779.82" stroke="#9a3ff2" stroke-width="0.9"/>
<line x1="72.64" y1="777.66" x2="76.64" y2="777.66" stroke="#9a3ff2" stroke-width="0.9"/>
<line x1="72.64" y1="779.82" x2="76.64" y2="779.82" stroke="#9a3ff2" stroke-width="0.9"/>
<line x1="80.06" y1="775.23" x2="80.06" y2="777.39" stroke="#9a3ff2" stroke-width="0.9"/>
<line x1="78.06" y1="775.23" x2="82.06" y2="775.23" stroke="#9a3ff2" stroke-width="0.9"/>
<line x1="78.06" y1="777.39" x2="82.06" y2="777.39" stroke="#9a3ff2" stroke-width="0.9"/>
<line x1="85.48" y1="772.53" x2="85.48" y2="775.23" stroke="#9a3ff2" stroke-width="0.9"/>
<line x1="83.48" y1="772.53" x2="87.48" y2="772.53" stroke="#9a3ff2" stroke-width="0.9"/>
<line x1="83.48" y1="775.23" x2="87.48" y2="775.23" stroke="#9a3ff2" stroke-width="0.9"/>
<line x1="90.9" y1="763.08" x2="90.9" y2="769.83" stroke="#9a3ff2" stroke-width="0.9"/>
<line x1="88.9" y1="763.08" x2="92.9" y2="763.08" stroke="#9a3ff2" stroke-width="0.9"/>
<line x1="88.9" y1="769.83" x2="92.9" y2="769.83" stroke="#9a3ff2" stroke-width="0.9"/>
<line x1="96.32" y1="760.92" x2="96.32" y2="766.86" stroke="#9a3ff2" stroke-width="0.9"/>
<line x1="94.32" y1="760.92" x2="98.32" y2="760.92" stroke="#9a3ff2" stroke-width="0.9"/>
<line x1="94.32" y1="766.86" x2="98.32" y2="766.86" stroke="#9a3ff2" stroke-width="0.9"/>
<line x1="101.74" y1="760.92" x2="101.74" y2="766.86" stroke="#9a3ff2" stroke-width="0.9"/>
<line x1="99.74" y1="760.92" x2="103.74" y2="760.92" stroke="#9a3ff2" stroke-width="0.9"/>
<line x1="99.74" y1="766.86" x2="103.74" y2="766.86" stroke="#9a3ff2" stroke-width="0.9"/>
<line x1="107.16" y1="759.44" x2="107.16" y2="766.19" stroke="#9a3ff2" stroke-width="0.9"/>
<line x1="105.16" y1="759.44" x2="109.16" y2="759.44" stroke="#9a3ff2" stroke-width="0.9"/>
<line x1="105.16" y1="766.19" x2="109.16" y2="766.19" stroke="#9a3ff2" stroke-width="0.9"/>
<line x1="112.58" y1="755.79" x2="112.58" y2="763.89" stroke="#9a3ff2" stroke-width="0.9"/>
<line x1="110.58" y1="755.79" x2="114.58" y2="755.79" stroke="#9a3ff2" stroke-width="0.9"/>
<line x1="110.58" y1="763.89" x2="114.58" y2="763.89" stroke="#9a3ff2" stroke-width="0.9"/>
<line x1="118" y1="724.2" x2="118" y2="740.4" stroke="#9a3ff2" stroke-width="0.9"/>
<line x1="116" y1="724.2" x2="120" y2="724.2" stroke="#9a3ff2" stroke-width="0.9"/>
<line x1="116" y1="740.4" x2="120" y2="740.4" stroke="#9a3ff2" stroke-width="0.9"/>
<line x1="123.42" y1="694.91" x2="123.42" y2="715.16" stroke="#9a3ff2" stroke-width="0.9"/>
<line x1="121.42" y1="694.91" x2="125.42" y2="694.91" stroke="#9a3ff2" stroke-width="0.9"/>
<line x1="121.42" y1="715.16" x2="125.42" y2="715.16" stroke="#9a3ff2" stroke-width="0.9"/>
<path d="M63.8 783.6 L69.22 780.9 L74.64 778.74 L80.06 776.31 L85.48 773.88 L90.9 766.46 L96.32 763.89 L101.74 763.89 L107.16 762.81 L112.58 759.84 L118 732.3 L123.42 705.03" stroke="#9a3ff2" stroke-width="1" fill="none"/>
<circle cx="63.8" cy="783.6" r="2" fill="#9a3ff2"/>
<circle cx="69.22" cy="780.9" r="2" fill="#9a3ff2"/>
<circle cx="74.64" cy="778.74" r="2" fill="#9a3ff2"/>
<circle cx="80.06" cy="776.31" r="2" fill="#9a3ff2"/>
<circle cx="85.48" cy="773.88" r="2" fill="#9a3ff2"/>
<circle cx="90.9" cy="766.46" r="2" fill="#9a3ff2"/>
<circle cx="96.32" cy="763.89" r="2" fill="#9a3ff2"/>
<circle cx="101.74" cy="763.89" r="2" fill="#9a3ff2"/>
<circle cx="107.16" cy="762.81" r="2" fill="#9a3ff2"/>
<circle cx="112.58" cy="759.84" r="2" fill="#9a3ff2"/>
<circle cx="118" cy="732.3" r="2" fill="#9a3ff2"/>
<circle cx="123.42" cy="705.03" r="2" fill="#9a3ff2"/>
<line x1="63.8" y1="780.9" x2="63.8" y2="783.6" stroke="#ff2a14" stroke-width="0.9"/>
<line x1="61.8" y1="780.9" x2="65.8" y2="780.9" stroke="#ff2a14" stroke-width="0.9"/>
<line x1="61.8" y1="783.6" x2="65.8" y2="783.6" stroke="#ff2a14" stroke-width="0.9"/>
<line x1="69.22" y1="779.55" x2="69.22" y2="781.71" stroke="#ff2a14" stroke-width="0.9"/>
<line x1="67.22" y1="779.55" x2="71.22" y2="779.55" stroke="#ff2a14" stroke-width="0.9"/>
<line x1="67.22" y1="781.71" x2="71.22" y2="781.71" stroke="#ff2a14" stroke-width="0.9"/>
<line x1="74.64" y1="779.15" x2="74.64" y2="781.31" stroke="#ff2a14" stroke-width="0.9"/>
<line x1="72.64" y1="779.15" x2="76.64" y2="779.15" stroke="#ff2a14" stroke-width="0.9"/>
<line x1="72.64" y1="781.31" x2="76.64" y2="781.31" stroke="#ff2a14" stroke-width="0.9"/>
<line x1="80.06" y1="780.9" x2="80.06" y2="783.06" stroke="#ff2a14" stroke-width="0.9"/>
<line x1="78.06" y1="780.9" x2="82.06" y2="780.9" stroke="#ff2a14" stroke-width="0.9"/>
<line x1="78.06" y1="783.06" x2="82.06" y2="783.06" stroke="#ff2a14" stroke-width="0.9"/>
<line x1="85.48" y1="782.38" x2="85.48" y2="784.55" stroke="#ff2a14" stroke-width="0.9"/>
<line x1="83.48" y1="782.38" x2="87.48" y2="782.38" stroke="#ff2a14" stroke-width="0.9"/>
<line x1="83.48" y1="784.55" x2="87.48" y2="784.55" stroke="#ff2a14" stroke-width="0.9"/>
<line x1="90.9" y1="783.06" x2="90.9" y2="785.22" stroke="#ff2a14" stroke-width="0.9"/>
<line x1="88.9" y1="783.06" x2="92.9" y2="783.06" stroke="#ff2a14" stroke-width="0.9"/>
<line x1="88.9" y1="785.22" x2="92.9" y2="785.22" stroke="#ff2a14" stroke-width="0.9"/>
<line x1="96.32" y1="783.47" x2="96.32" y2="785.62" stroke="#ff2a14" stroke-width="0.9"/>
<line x1="94.32" y1="783.47" x2="98.32" y2="783.47" stroke="#ff2a14" stroke-width="0.9"/>
<line x1="94.32" y1="785.62" x2="98.32" y2="785.62" stroke="#ff2a14" stroke-width="0.9"/>
<line x1="101.74" y1="782.79" x2="101.74" y2="784.95" stroke="#ff2a14" stroke-width="0.9"/>
<line x1="99.74" y1="782.79" x2="103.74" y2="782.79" stroke="#ff2a14" stroke-width="0.9"/>
<line x1="99.74" y1="784.95" x2="103.74" y2="784.95" stroke="#ff2a14" stroke-width="0.9"/>
<line x1="107.16" y1="783.06" x2="107.16" y2="785.22" stroke="#ff2a14" stroke-width="0.9"/>
<line x1="105.16" y1="783.06" x2="109.16" y2="783.06" stroke="#ff2a14" stroke-width="0.9"/>
<line x1="105.16" y1="785.22" x2="109.16" y2="785.22" stroke="#ff2a14" stroke-width="0.9"/>
<line x1="112.58" y1="781.17" x2="112.58" y2="784.41" stroke="#ff2a14" stroke-width="0.9"/>
<line x1="110.58" y1="781.17" x2="114.58" y2="781.17" stroke="#ff2a14" stroke-width="0.9"/>
<line x1="110.58" y1="784.41" x2="114.58" y2="784.41" stroke="#ff2a14" stroke-width="0.9"/>
<line x1="118" y1="779.28" x2="118" y2="782.52" stroke="#ff2a14" stroke-width="0.9"/>
<line x1="116" y1="779.28" x2="120" y2="779.28" stroke="#ff2a14" stroke-width="0.9"/>
<line x1="116" y1="782.52" x2="120" y2="782.52" stroke="#ff2a14" stroke-width="0.9"/>
<line x1="123.42" y1="776.85" x2="123.42" y2="780.9" stroke="#ff2a14" stroke-width="0.9"/>
<line x1="121.42" y1="776.85" x2="125.42" y2="776.85" stroke="#ff2a14" stroke-width="0.9"/>
<line x1="121.42" y1="780.9" x2="125.42" y2="780.9" stroke="#ff2a14" stroke-width="0.9"/>
<line x1="128.84" y1="778.2" x2="128.84" y2="781.44" stroke="#ff2a14" stroke-width="0.9"/>
<line x1="126.84" y1="778.2" x2="130.84" y2="778.2" stroke="#ff2a14" stroke-width="0.9"/>
<line x1="126.84" y1="781.44" x2="130.84" y2="781.44" stroke="#ff2a14" stroke-width="0.9"/>
<line x1="136.97" y1="779.55" x2="136.97" y2="783.6" stroke="#ff2a14" stroke-width="0.9"/>
<line x1="134.97" y1="779.55" x2="138.97" y2="779.55" stroke="#ff2a14" stroke-width="0.9"/>
<line x1="134.97" y1="783.6" x2="138.97" y2="783.6" stroke="#ff2a14" stroke-width="0.9"/>
<line x1="142.39" y1="778.88" x2="142.39" y2="782.93" stroke="#ff2a14" stroke-width="0.9"/>
<line x1="140.39" y1="778.88" x2="144.39" y2="778.88" stroke="#ff2a14" stroke-width="0.9"/>
<line x1="140.39" y1="782.93" x2="144.39" y2="782.93" stroke="#ff2a14" stroke-width="0.9"/>
<line x1="147.81" y1="775.77" x2="147.81" y2="780.63" stroke="#ff2a14" stroke-width="0.9"/>
<line x1="145.81" y1="775.77" x2="149.81" y2="775.77" stroke="#ff2a14" stroke-width="0.9"/>
<line x1="145.81" y1="780.63" x2="149.81" y2="780.63" stroke="#ff2a14" stroke-width="0.9"/>
<line x1="153.23" y1="776.18" x2="153.23" y2="780.23" stroke="#ff2a14" stroke-width="0.9"/>
<line x1="151.23" y1="776.18" x2="155.23" y2="776.18" stroke="#ff2a14" stroke-width="0.9"/>
<line x1="151.23" y1="780.23" x2="155.23" y2="780.23" stroke="#ff2a14" stroke-width="0.9"/>
<line x1="158.65" y1="776.85" x2="158.65" y2="780.9" stroke="#ff2a14" stroke-width="0.9"/>
<line x1="156.65" y1="776.85" x2="160.65" y2="776.85" stroke="#ff2a14" stroke-width="0.9"/>
<line x1="156.65" y1="780.9" x2="160.65" y2="780.9" stroke="#ff2a14" stroke-width="0.9"/>
<line x1="165.43" y1="775.5" x2="165.43" y2="780.9" stroke="#ff2a14" stroke-width="0.9"/>
<line x1="163.43" y1="775.5" x2="167.43" y2="775.5" stroke="#ff2a14" stroke-width="0.9"/>
<line x1="163.43" y1="780.9" x2="167.43" y2="780.9" stroke="#ff2a14" stroke-width="0.9"/>
<path d="M63.8 782.25 L69.22 780.63 L74.64 780.23 L80.06 781.98 L85.48 783.47 L90.9 784.14 L96.32 784.55 L101.74 783.87 L107.16 784.14 L112.58 782.79 L118 780.9 L123.42 778.88 L128.84 779.82 L136.97 781.58 L142.39 780.9 L147.81 778.2 L153.23 778.2 L158.65 778.88 L165.43 778.2" stroke="#ff2a14" stroke-width="1" fill="none"/>
<path d="M63.8 784.55L66 780.65L61.6 780.65Z" fill="#ff2a14"/>
<path d="M69.22 782.93L71.42 779.03L67.02 779.03Z" fill="#ff2a14"/>
<path d="M74.64 782.52L76.84 778.62L72.44 778.62Z" fill="#ff2a14"/>
<path d="M80.06 784.28L82.26 780.38L77.86 780.38Z" fill="#ff2a14"/>
<path d="M85.48 785.76L87.68 781.87L83.28 781.87Z" fill="#ff2a14"/>
<path d="M90.9 786.44L93.1 782.54L88.7 782.54Z" fill="#ff2a14"/>
<path d="M96.32 786.85L98.52 782.95L94.12 782.95Z" fill="#ff2a14"/>
<path d="M101.74 786.17L103.94 782.27L99.54 782.27Z" fill="#ff2a14"/>
<path d="M107.16 786.44L109.36 782.54L104.96 782.54Z" fill="#ff2a14"/>
<path d="M112.58 785.09L114.78 781.19L110.38 781.19Z" fill="#ff2a14"/>
<path d="M118 783.2L120.2 779.3L115.8 779.3Z" fill="#ff2a14"/>
<path d="M123.42 781.17L125.62 777.27L121.22 777.27Z" fill="#ff2a14"/>
<path d="M128.84 782.12L131.04 778.22L126.64 778.22Z" fill="#ff2a14"/>
<path d="M136.97 783.88L139.17 779.98L134.77 779.98Z" fill="#ff2a14"/>
<path d="M142.39 783.2L144.59 779.3L140.19 779.3Z" fill="#ff2a14"/>
<path d="M147.81 780.5L150.01 776.6L145.61 776.6Z" fill="#ff2a14"/>
<path d="M153.23 780.5L155.43 776.6L151.03 776.6Z" fill="#ff2a14"/>
<path d="M158.65 781.17L160.85 777.27L156.45 777.27Z" fill="#ff2a14"/>
<path d="M165.43 780.5L167.62 776.6L163.23 776.6Z" fill="#ff2a14"/>
<line x1="63.8" y1="683.2" x2="63.8" y2="792.2" stroke="#555" stroke-width="1.3"/>
<line x1="63.2" y1="791.7" x2="172.2" y2="791.7" stroke="#555" stroke-width="1.3"/>
<line x1="61.4" y1="791.7" x2="63.8" y2="791.7" stroke="#555" stroke-width="1"/>
<text transform="translate(58.4 794.8) scale(1 1.1)" font-size="8.4" fill="#222" text-anchor="end">0</text>
<line x1="61.4" y1="764.7" x2="63.8" y2="764.7" stroke="#555" stroke-width="1"/>
<text transform="translate(58.4 767.8) scale(1 1.1)" font-size="8.4" fill="#222" text-anchor="end">200</text>
<line x1="61.4" y1="737.7" x2="63.8" y2="737.7" stroke="#555" stroke-width="1"/>
<text transform="translate(58.4 740.8) scale(1 1.1)" font-size="8.4" fill="#222" text-anchor="end">400</text>
<line x1="61.4" y1="710.7" x2="63.8" y2="710.7" stroke="#555" stroke-width="1"/>
<text transform="translate(58.4 713.8) scale(1 1.1)" font-size="8.4" fill="#222" text-anchor="end">600</text>
<line x1="61.4" y1="683.7" x2="63.8" y2="683.7" stroke="#555" stroke-width="1"/>
<text transform="translate(58.4 686.8) scale(1 1.1)" font-size="8.4" fill="#222" text-anchor="end">800</text>
<line x1="63.8" y1="791.7" x2="63.8" y2="793.9" stroke="#555" stroke-width="1"/>
<text transform="translate(63.8 804.8) scale(1 1.1)" font-size="8.4" fill="#222" text-anchor="middle">0</text>
<line x1="90.9" y1="791.7" x2="90.9" y2="793.9" stroke="#555" stroke-width="1"/>
<text transform="translate(90.9 804.8) scale(1 1.1)" font-size="8.4" fill="#222" text-anchor="middle">20</text>
<line x1="118" y1="791.7" x2="118" y2="793.9" stroke="#555" stroke-width="1"/>
<text transform="translate(118 804.8) scale(1 1.1)" font-size="8.4" fill="#222" text-anchor="middle">40</text>
<line x1="145.1" y1="791.7" x2="145.1" y2="793.9" stroke="#555" stroke-width="1"/>
<text transform="translate(145.1 804.8) scale(1 1.1)" font-size="8.4" fill="#222" text-anchor="middle">60</text>
<line x1="172.2" y1="791.7" x2="172.2" y2="793.9" stroke="#555" stroke-width="1"/>
<text transform="translate(172.2 804.8) scale(1 1.1)" font-size="8.4" fill="#222" text-anchor="middle">80</text>
<text transform="translate(118.6 816.2) scale(1 1.1)" font-size="8" fill="#222" text-anchor="middle" textLength="40" lengthAdjust="spacingAndGlyphs">Time (days)</text>
<text transform="translate(40.0 740.2) rotate(-90) scale(1 1.1)" font-size="8.0" fill="#222" text-anchor="middle" textLength="71.8" lengthAdjust="spacingAndGlyphs">Tumour volume (mm<tspan font-size="5.6" dy="-3">3</tspan><tspan dy="3">)</tspan></text>
<path d="M178.9 704.9 H181.5 V777.4 H178.9" stroke="#333" stroke-width="1" fill="none"/>
<path d="M193.8 728.3 H196.4 V777.4 H193.8" stroke="#333" stroke-width="1" fill="none"/>
<path d="M208.4 732.3 H211 V777.4 H208.4" stroke="#333" stroke-width="1" fill="none"/>
<text transform="translate(184 745.2) rotate(90) scale(1 1.1)" font-size="7.6" fill="#ff2a14" text-anchor="middle"><tspan dy="0">**</tspan> p = 0.0067</text>
<text transform="translate(198.4 749.5) rotate(90) scale(1 1.1)" font-size="7.6" fill="#f7a21f" text-anchor="middle">* p = 0.0336</text>
<text transform="translate(214.9 752.1) rotate(90) scale(1 1.1)" font-size="7.6" fill="#1846e6" text-anchor="middle">* p = 0.0045</text>
<line x1="22.2" y1="828.1" x2="37.3" y2="828.1" stroke="#9a3ff2" stroke-width="1"/>
<circle cx="29.75" cy="828.1" r="2" fill="#9a3ff2"/>
<text transform="translate(47.2 831) scale(1 1.1)" font-size="7.5" fill="#9a3ff2">vehicle</text>
<line x1="22.2" y1="843.9" x2="37.3" y2="843.9" stroke="#f7a21f" stroke-width="1"/>
<rect x="27.75" y="841.9" width="4" height="4" fill="#f7a21f"/>
<text transform="translate(47.2 846.8) scale(1 1.1)" font-size="7.5" fill="#f7a21f">0.1 mg/kg&#160; talazoparib</text>
<line x1="132.6" y1="828.8" x2="148" y2="828.8" stroke="#1846e6" stroke-width="1"/>
<path d="M140.3 826.5L142.5 830.4L138.1 830.4Z" fill="#1846e6"/>
<text transform="translate(156.9 831.7) scale(1 1.1)" font-size="7.5" fill="#1846e6">1 x 10<tspan font-size="5.6" dy="-3">6</tspan><tspan dy="3"> pfu RT3D</tspan></text>
<line x1="132.6" y1="844.6" x2="148" y2="844.6" stroke="#ff2a14" stroke-width="1"/>
<path d="M140.3 846.9L142.5 843L138.1 843Z" fill="#ff2a14"/>
<text transform="translate(156.9 847.5) scale(1 1.1)" font-size="7.5" fill="#ff2a14">1 x 10<tspan font-size="5.6" dy="-3">6</tspan><tspan dy="3"> pfu RT3D</tspan></text>
<text transform="translate(156.9 858) scale(1 1.1)" font-size="7.5" fill="#ff2a14">+ 0.1 mg/kg talazoparib</text>
<text transform="translate(278.1 676.3) scale(1 1.07)" font-size="13.3" fill="#222">G.</text>
<path d="M318.4 687.4 H365.42 V697.85 H370.65 V708.3 H372.74 V718.75 H377.96 V729.2 H379.01 V739.65 H383.19 V750.1 H391.55 V781.45 H402 V791.9 H402" stroke="#a250f5" stroke-width="1.3" fill="none"/>
<path d="M318.4 687.4 H374.83 V708.3 H379.01 V718.75 H383.19 V729.2 H387.37 V739.65 H391.55 V750.1 H396.77 V760.55 H399.91 V771 H402 V781.45 H412.45" stroke="#ffa52a" stroke-width="1.3" fill="none"/>
<path d="M318.4 687.4 H379.01 V697.85 H383.19 V708.3 H387.37 V718.75 H389.46 V729.2 H391.55 V760.55 H407.22 V771 H412.45" stroke="#2058f0" stroke-width="1.3" fill="none"/>
<path d="M318.4 687.4 H396.77 V697.85 H412.45" stroke="#ff4a3a" stroke-width="1.3" fill="none"/>
<line x1="365.42" y1="697.85" x2="365.42" y2="694.85" stroke="#222" stroke-width="1"/>
<line x1="370.65" y1="708.3" x2="370.65" y2="705.3" stroke="#222" stroke-width="1"/>
<line x1="372.74" y1="718.75" x2="372.74" y2="715.75" stroke="#222" stroke-width="1"/>
<line x1="377.96" y1="729.2" x2="377.96" y2="726.2" stroke="#222" stroke-width="1"/>
<line x1="379.01" y1="739.65" x2="379.01" y2="736.65" stroke="#222" stroke-width="1"/>
<line x1="383.19" y1="750.1" x2="383.19" y2="747.1" stroke="#222" stroke-width="1"/>
<line x1="391.55" y1="781.45" x2="391.55" y2="778.45" stroke="#222" stroke-width="1"/>
<line x1="402" y1="791.9" x2="402" y2="788.9" stroke="#222" stroke-width="1"/>
<line x1="402" y1="791.9" x2="402" y2="788.4" stroke="#222" stroke-width="1"/>
<line x1="374.83" y1="708.3" x2="374.83" y2="705.3" stroke="#222" stroke-width="1"/>
<line x1="379.01" y1="718.75" x2="379.01" y2="715.75" stroke="#222" stroke-width="1"/>
<line x1="383.19" y1="729.2" x2="383.19" y2="726.2" stroke="#222" stroke-width="1"/>
<line x1="387.37" y1="739.65" x2="387.37" y2="736.65" stroke="#222" stroke-width="1"/>
<line x1="391.55" y1="750.1" x2="391.55" y2="747.1" stroke="#222" stroke-width="1"/>
<line x1="396.77" y1="760.55" x2="396.77" y2="757.55" stroke="#222" stroke-width="1"/>
<line x1="399.91" y1="771" x2="399.91" y2="768" stroke="#222" stroke-width="1"/>
<line x1="402" y1="781.45" x2="402" y2="778.45" stroke="#222" stroke-width="1"/>
<line x1="412.45" y1="781.45" x2="412.45" y2="777.95" stroke="#222" stroke-width="1"/>
<line x1="379.01" y1="697.85" x2="379.01" y2="694.85" stroke="#222" stroke-width="1"/>
<line x1="383.19" y1="708.3" x2="383.19" y2="705.3" stroke="#222" stroke-width="1"/>
<line x1="387.37" y1="718.75" x2="387.37" y2="715.75" stroke="#222" stroke-width="1"/>
<line x1="389.46" y1="729.2" x2="389.46" y2="726.2" stroke="#222" stroke-width="1"/>
<line x1="391.55" y1="760.55" x2="391.55" y2="757.55" stroke="#222" stroke-width="1"/>
<line x1="407.22" y1="771" x2="407.22" y2="768" stroke="#222" stroke-width="1"/>
<line x1="412.45" y1="771" x2="412.45" y2="767.5" stroke="#222" stroke-width="1"/>
<line x1="396.77" y1="697.85" x2="396.77" y2="694.85" stroke="#222" stroke-width="1"/>
<line x1="412.45" y1="697.85" x2="412.45" y2="694.35" stroke="#222" stroke-width="1"/>
<line x1="318.4" y1="686.9" x2="318.4" y2="792.4" stroke="#333" stroke-width="1.3"/>
<line x1="317.8" y1="791.9" x2="422.9" y2="791.9" stroke="#555" stroke-width="1.3"/>
<line x1="316" y1="791.9" x2="318.4" y2="791.9" stroke="#333" stroke-width="1"/>
<text transform="translate(312.2 795) scale(1 1.1)" font-size="8.4" fill="#222" text-anchor="end">0</text>
<line x1="316" y1="771" x2="318.4" y2="771" stroke="#333" stroke-width="1"/>
<text transform="translate(312.2 774.1) scale(1 1.1)" font-size="8.4" fill="#222" text-anchor="end">20</text>
<line x1="316" y1="750.1" x2="318.4" y2="750.1" stroke="#333" stroke-width="1"/>
<text transform="translate(312.2 753.2) scale(1 1.1)" font-size="8.4" fill="#222" text-anchor="end">40</text>
<line x1="316" y1="729.2" x2="318.4" y2="729.2" stroke="#333" stroke-width="1"/>
<text transform="translate(312.2 732.3) scale(1 1.1)" font-size="8.4" fill="#222" text-anchor="end">60</text>
<line x1="316" y1="708.3" x2="318.4" y2="708.3" stroke="#333" stroke-width="1"/>
<text transform="translate(312.2 711.4) scale(1 1.1)" font-size="8.4" fill="#222" text-anchor="end">80</text>
<line x1="316" y1="687.4" x2="318.4" y2="687.4" stroke="#333" stroke-width="1"/>
<text transform="translate(312.2 690.5) scale(1 1.1)" font-size="8.4" fill="#222" text-anchor="end">100</text>
<line x1="318.4" y1="791.9" x2="318.4" y2="794.1" stroke="#555" stroke-width="1"/>
<text transform="translate(318.4 804.6) scale(1 1.1)" font-size="8.4" fill="#222" text-anchor="middle">0</text>
<line x1="339.3" y1="791.9" x2="339.3" y2="794.1" stroke="#555" stroke-width="1"/>
<text transform="translate(339.3 804.6) scale(1 1.1)" font-size="8.4" fill="#222" text-anchor="middle">20</text>
<line x1="360.2" y1="791.9" x2="360.2" y2="794.1" stroke="#555" stroke-width="1"/>
<text transform="translate(360.2 804.6) scale(1 1.1)" font-size="8.4" fill="#222" text-anchor="middle">40</text>
<line x1="381.1" y1="791.9" x2="381.1" y2="794.1" stroke="#555" stroke-width="1"/>
<text transform="translate(381.1 804.6) scale(1 1.1)" font-size="8.4" fill="#222" text-anchor="middle">60</text>
<line x1="402" y1="791.9" x2="402" y2="794.1" stroke="#555" stroke-width="1"/>
<text transform="translate(402 804.6) scale(1 1.1)" font-size="8.4" fill="#222" text-anchor="middle">80</text>
<line x1="422.9" y1="791.9" x2="422.9" y2="794.1" stroke="#555" stroke-width="1"/>
<text transform="translate(422.9 804.6) scale(1 1.1)" font-size="8.4" fill="#222" text-anchor="middle">100</text>
<text transform="translate(370.9 815.2) scale(1 1.1)" font-size="8" fill="#222" text-anchor="middle" textLength="40" lengthAdjust="spacingAndGlyphs">Time (days)</text>
<text transform="translate(291 753.5) rotate(-90) scale(1 1.1)" font-size="8" fill="#222" text-anchor="middle" textLength="51.7" lengthAdjust="spacingAndGlyphs">Percent survival</text>
<path d="M424.1 696.3 H426.7 V788.6 H424.1" stroke="#333" stroke-width="1" fill="none"/>
<path d="M435.6 696.3 H438.2 V778.2 H435.6" stroke="#333" stroke-width="1" fill="none"/>
<path d="M447.1 696.3 H449.7 V768.4 H447.1" stroke="#333" stroke-width="1" fill="none"/>
<text transform="translate(427 740.4) rotate(90) scale(1 1.1)" font-size="7.6" fill="#b040f0" text-anchor="middle">***</text>
<text transform="translate(438.2 735.1) rotate(90) scale(1 1.1)" font-size="7.6" fill="#1aa01a" text-anchor="middle">***</text>
<text transform="translate(449.4 730.3) rotate(90) scale(1 1.1)" font-size="7.6" fill="#2050f0" text-anchor="middle">***</text>
<line x1="289.6" y1="827.3" x2="305" y2="827.3" stroke="#a250f5" stroke-width="1.3"/>
<line x1="297.3" y1="827.3" x2="297.3" y2="823.8" stroke="#222" stroke-width="1"/>
<text transform="translate(313.7 830.2) scale(1 1.1)" font-size="7.4" fill="#a250f5">vehicle</text>
<line x1="289.6" y1="841.1" x2="305" y2="841.1" stroke="#ffa52a" stroke-width="1.3"/>
<line x1="297.3" y1="841.1" x2="297.3" y2="837.6" stroke="#222" stroke-width="1"/>
<text transform="translate(313.7 844) scale(1 1.1)" font-size="7.4" fill="#ffa52a">0.1 mg/kg talazoparib</text>
<line x1="400.4" y1="827.3" x2="416.5" y2="827.3" stroke="#2058f0" stroke-width="1.3"/>
<line x1="408.45" y1="827.3" x2="408.45" y2="823.8" stroke="#222" stroke-width="1"/>
<text transform="translate(424.5 830.2) scale(1 1.1)" font-size="7.4" fill="#2058f0">1 x 10<tspan font-size="5.6" dy="-3">6</tspan><tspan dy="3"> pfu RT3D</tspan></text>
<line x1="400.4" y1="841.1" x2="416.5" y2="841.1" stroke="#ff4a3a" stroke-width="1.3"/>
<line x1="408.45" y1="841.1" x2="408.45" y2="837.6" stroke="#222" stroke-width="1"/>
<text transform="translate(424.5 844) scale(1 1.1)" font-size="7.4" fill="#ff4a3a">1 x 10<tspan font-size="5.6" dy="-3">6</tspan><tspan dy="3"> pfu RT3D</tspan></text>
<text transform="translate(424.5 853.6) scale(1 1.1)" font-size="7.4" fill="#ff4a3a">+ 0.1 mg/kg talazoparib</text>
</svg>
</body></html>
